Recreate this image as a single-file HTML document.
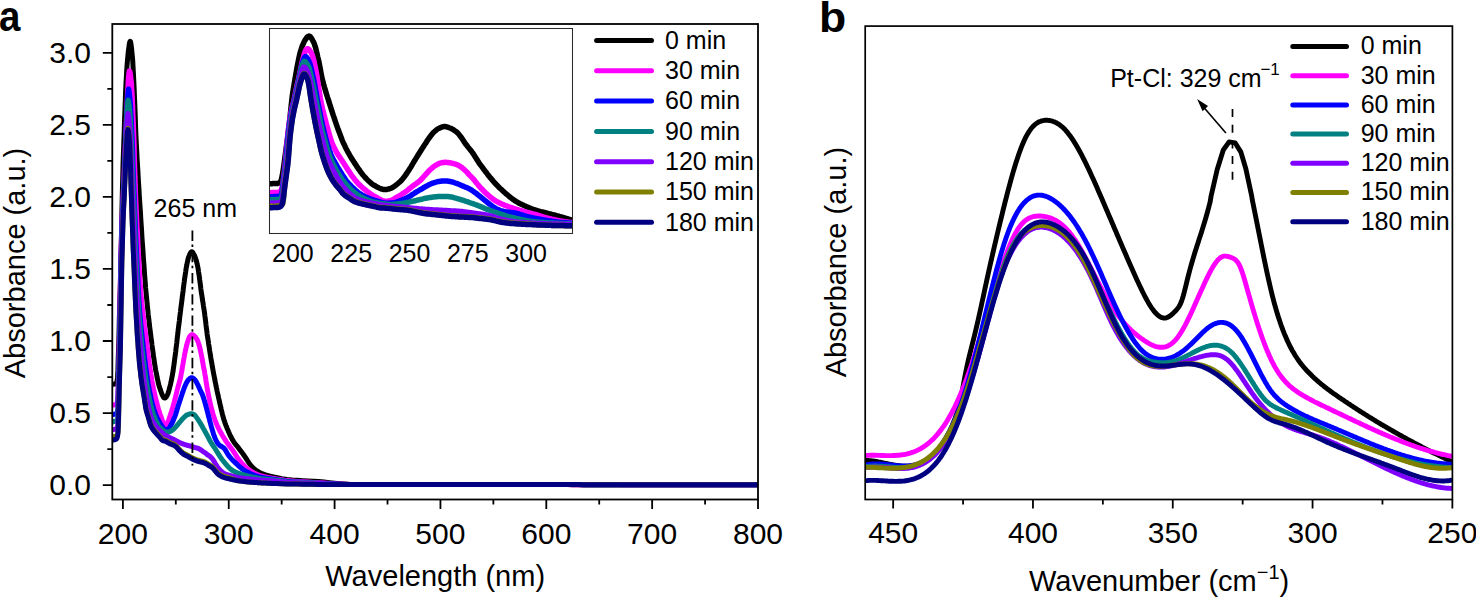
<!DOCTYPE html>
<html><head><meta charset="utf-8"><title>Absorbance spectra</title>
<style>html,body{margin:0;padding:0;background:#fff;width:1476px;height:598px;overflow:hidden}svg{display:block;font-family:"Liberation Sans",sans-serif}</style>
</head><body>
<svg width="1476" height="598" viewBox="0 0 1476 598" font-family="Liberation Sans, sans-serif" fill="#000">
<rect width="1476" height="598" fill="#fff"/>
<defs><clipPath id="ca"><rect x="112.3" y="24" width="645.7" height="475.5"/></clipPath><clipPath id="ci"><rect x="269.6" y="28.6" width="303.1" height="204.7"/></clipPath><clipPath id="cb"><rect x="865.2" y="26.1" width="587.2" height="473.4"/></clipPath></defs>
<g clip-path="url(#ca)">
<path d="M112.3 384.2 L112.7 384.2 L113.0 384.2 L113.4 384.2 L113.8 384.1 L114.2 384.1 L114.5 384.0 L114.9 383.9 L115.3 383.9 L115.6 383.7 L116.0 383.5 L116.4 383.1 L116.7 382.5 L117.1 380.9 L117.5 377.7 L117.9 370.4 L118.2 359.7 L118.6 347.8 L119.0 334.1 L119.3 319.9 L119.7 306.1 L120.1 292.1 L120.5 277.5 L120.8 262.3 L121.2 246.2 L121.6 229.6 L121.9 211.9 L122.3 193.8 L122.7 178.5 L123.0 165.5 L123.4 153.7 L123.8 142.7 L124.2 132.1 L124.5 121.4 L124.9 110.7 L125.3 100.6 L125.6 91.3 L126.0 83.2 L126.4 76.5 L126.7 70.4 L127.1 64.8 L127.5 59.9 L127.9 55.7 L128.2 52.4 L128.6 49.4 L129.0 46.5 L129.3 44.0 L129.7 42.2 L130.1 41.3 L130.5 41.6 L130.8 43.1 L131.2 45.5 L131.6 48.6 L131.9 52.2 L132.3 56.0 L132.7 60.3 L133.0 66.1 L133.4 73.2 L133.8 81.1 L134.2 89.4 L134.5 98.0 L134.9 106.8 L135.3 117.0 L135.6 127.4 L136.0 136.9 L136.4 144.8 L136.8 152.1 L137.1 158.9 L137.5 165.3 L137.9 171.5 L138.2 177.6 L138.6 183.6 L139.0 189.7 L139.3 195.8 L139.7 201.7 L140.1 207.6 L140.5 213.4 L140.8 219.2 L141.2 225.0 L141.6 230.7 L141.9 236.5 L142.3 242.1 L142.7 247.5 L143.1 252.8 L143.4 258.1 L143.8 263.3 L144.2 268.4 L144.5 273.4 L144.9 278.4 L145.3 283.1 L145.6 287.7 L146.0 292.0 L146.4 296.0 L146.8 299.9 L147.1 303.6 L147.5 307.3 L147.9 310.8 L148.2 314.2 L148.6 317.5 L149.0 320.7 L149.3 323.9 L149.7 327.0 L150.1 330.0 L150.5 333.0 L150.8 335.9 L151.2 338.8 L151.6 341.6 L151.9 344.5 L152.3 347.3 L152.7 350.1 L153.1 352.8 L153.4 355.4 L153.8 358.0 L154.2 360.6 L154.5 363.0 L154.9 365.3 L155.3 367.6 L155.6 369.7 L156.0 371.7 L156.4 373.6 L156.8 375.5 L157.1 377.4 L157.5 379.1 L157.9 380.9 L158.2 382.5 L158.6 384.0 L159.0 385.5 L159.4 386.8 L159.7 387.9 L160.1 389.0 L160.5 390.0 L160.8 391.1 L161.2 392.1 L161.6 393.1 L161.9 394.1 L162.3 395.0 L162.7 395.8 L163.1 396.5 L163.4 397.1 L163.8 397.6 L164.2 397.9 L164.5 398.0 L164.9 398.0 L165.3 397.9 L165.6 397.5 L166.0 397.1 L166.4 396.6 L166.8 396.0 L167.1 395.4 L167.5 394.7 L167.9 393.9 L168.2 392.8 L168.6 391.5 L169.0 390.2 L169.4 388.7 L169.7 387.3 L170.1 385.9 L170.5 384.3 L170.8 382.8 L171.2 381.1 L171.6 379.3 L171.9 377.4 L172.3 375.4 L172.7 373.3 L173.1 371.0 L173.4 368.5 L173.8 365.9 L174.2 363.2 L174.5 360.4 L174.9 357.5 L175.3 354.7 L175.7 351.8 L176.0 348.8 L176.4 345.7 L176.8 342.6 L177.1 339.4 L177.5 336.1 L177.9 332.9 L178.2 329.8 L178.6 326.6 L179.0 323.6 L179.4 320.5 L179.7 317.5 L180.1 314.5 L180.5 311.5 L180.8 308.5 L181.2 305.6 L181.6 302.6 L182.0 299.7 L182.3 296.7 L182.7 293.8 L183.1 290.8 L183.4 287.9 L183.8 285.0 L184.2 282.1 L184.5 279.4 L184.9 276.8 L185.3 274.2 L185.7 271.6 L186.0 269.2 L186.4 267.0 L186.8 265.1 L187.1 263.3 L187.5 261.5 L187.9 259.9 L188.2 258.4 L188.6 257.1 L189.0 256.1 L189.4 255.2 L189.7 254.4 L190.1 253.6 L190.5 252.9 L190.8 252.3 L191.2 251.9 L191.6 251.7 L192.0 251.7 L192.3 252.0 L192.7 252.4 L193.1 252.9 L193.4 253.6 L193.8 254.2 L194.2 255.0 L194.5 255.7 L194.9 256.5 L195.3 257.5 L195.7 258.6 L196.0 259.8 L196.4 261.0 L196.8 262.4 L197.1 263.9 L197.5 265.5 L197.9 267.4 L198.3 269.7 L198.6 272.1 L199.0 274.7 L199.4 277.2 L199.7 279.9 L200.1 282.7 L200.5 285.6 L200.8 288.5 L201.2 291.3 L201.6 293.9 L202.0 296.3 L202.3 298.7 L202.7 301.1 L203.1 303.4 L203.4 305.8 L203.8 308.2 L204.2 310.6 L204.6 313.2 L204.9 316.0 L205.3 318.9 L205.7 322.0 L206.0 325.0 L206.4 328.1 L206.8 331.0 L207.1 333.8 L207.5 336.4 L207.9 339.0 L208.3 341.4 L208.6 343.8 L209.0 346.2 L209.4 348.6 L209.7 350.9 L210.1 353.2 L210.5 355.5 L210.8 357.7 L211.2 360.0 L211.6 362.2 L212.0 364.3 L212.3 366.5 L212.7 368.5 L213.1 370.6 L213.4 372.6 L213.8 374.6 L214.2 376.6 L214.6 378.5 L214.9 380.4 L215.3 382.2 L215.7 384.1 L216.0 385.9 L216.4 387.7 L216.8 389.4 L217.1 391.2 L217.5 392.9 L217.9 394.6 L218.3 396.3 L218.6 398.0 L219.0 399.6 L219.4 401.2 L219.7 402.9 L220.1 404.5 L220.5 406.1 L220.9 407.7 L221.2 409.3 L221.6 410.8 L222.0 412.4 L222.3 413.8 L222.7 415.3 L223.1 416.7 L223.4 418.0 L223.8 419.3 L224.2 420.4 L224.6 421.6 L224.9 422.6 L225.3 423.7 L225.7 424.7 L226.0 425.6 L226.4 426.6 L226.8 427.5 L227.1 428.4 L227.5 429.2 L227.9 430.1 L228.3 431.0 L228.6 431.9 L229.0 432.7 L229.4 433.5 L229.7 434.4 L230.1 435.2 L230.5 435.9 L230.9 436.7 L231.2 437.4 L231.6 438.2 L232.0 438.8 L232.3 439.5 L232.7 440.1 L233.1 440.8 L233.4 441.3 L233.8 441.9 L234.2 442.5 L234.6 443.0 L234.9 443.5 L235.3 444.0 L235.7 444.5 L236.0 444.9 L236.4 445.4 L236.8 445.8 L237.2 446.2 L237.5 446.6 L237.9 447.1 L238.3 447.6 L238.6 448.1 L239.0 448.6 L239.4 449.2 L239.7 449.7 L240.1 450.2 L240.5 450.6 L240.9 451.1 L241.2 451.6 L241.6 452.0 L242.0 452.5 L242.3 453.0 L242.7 453.5 L243.1 454.0 L243.5 454.6 L243.8 455.1 L244.2 455.6 L244.6 456.2 L244.9 456.7 L245.3 457.2 L245.7 457.8 L246.0 458.3 L246.4 458.9 L246.8 459.5 L247.2 460.1 L247.5 460.7 L247.9 461.3 L248.3 461.9 L248.6 462.4 L249.0 463.0 L249.4 463.5 L249.7 464.0 L250.1 464.5 L250.5 465.0 L250.9 465.4 L251.2 465.8 L251.6 466.3 L252.0 466.7 L252.3 467.1 L252.7 467.5 L253.1 467.8 L253.5 468.2 L253.8 468.5 L254.2 468.9 L254.6 469.2 L254.9 469.5 L255.3 469.8 L255.7 470.1 L256.0 470.3 L256.4 470.6 L256.8 470.9 L257.2 471.1 L257.5 471.3 L257.9 471.6 L258.3 471.8 L258.6 472.0 L259.0 472.2 L259.4 472.4 L259.8 472.6 L260.1 472.8 L260.5 472.9 L260.9 473.1 L261.2 473.3 L261.6 473.4 L262.0 473.6 L262.3 473.8 L262.7 473.9 L263.1 474.0 L263.5 474.2 L263.8 474.3 L264.2 474.5 L264.6 474.6 L264.9 474.7 L265.3 474.8 L265.7 474.9 L266.1 475.1 L266.4 475.2 L266.8 475.3 L267.2 475.4 L267.5 475.5 L267.9 475.6 L268.3 475.7 L268.6 475.8 L269.0 475.9 L269.4 476.0 L269.8 476.1 L270.1 476.2 L270.5 476.3 L270.9 476.4 L271.2 476.4 L271.6 476.5 L272.0 476.6 L272.3 476.7 L272.7 476.8 L273.1 476.9 L273.5 476.9 L273.8 477.0 L274.2 477.1 L274.6 477.2 L274.9 477.2 L275.3 477.3 L275.7 477.4 L276.1 477.5 L276.4 477.5 L281.7 478.6 L287.0 479.4 L292.2 480.0 L297.5 480.3 L302.8 480.7 L308.1 481.0 L313.4 481.2 L318.7 481.6 L324.0 482.1 L329.3 482.7 L334.6 483.2 L339.9 483.7 L345.2 484.1 L350.5 484.4 L355.8 484.5 L361.1 484.5 L366.3 484.6 L371.6 484.6 L376.9 484.6 L382.2 484.6 L387.5 484.6 L392.8 484.6 L398.1 484.6 L403.4 484.6 L408.7 484.6 L414.0 484.6 L419.3 484.6 L424.6 484.6 L429.9 484.6 L435.2 484.6 L440.4 484.6 L445.7 484.6 L451.0 484.6 L456.3 484.6 L461.6 484.6 L466.9 484.6 L472.2 484.6 L477.5 484.6 L482.8 484.6 L488.1 484.6 L493.4 484.6 L498.7 484.6 L504.0 484.6 L509.2 484.6 L514.5 484.6 L519.8 484.6 L525.1 484.6 L530.4 484.6 L535.7 484.6 L541.0 484.6 L546.3 484.6 L551.6 484.6 L556.9 484.6 L562.2 484.6 L567.5 484.6 L572.8 484.7 L578.1 484.7 L583.3 484.7 L588.6 484.7 L593.9 484.7 L599.2 484.7 L604.5 484.7 L609.8 484.7 L615.1 484.7 L620.4 484.7 L625.7 484.7 L631.0 484.7 L636.3 484.7 L641.6 484.7 L646.9 484.7 L652.1 484.7 L657.4 484.7 L662.7 484.7 L668.0 484.7 L673.3 484.7 L678.6 484.7 L683.9 484.7 L689.2 484.7 L694.5 484.7 L699.8 484.7 L705.1 484.7 L710.4 484.7 L715.7 484.7 L721.0 484.7 L726.2 484.7 L731.5 484.7 L736.8 484.7 L742.1 484.7 L747.4 484.7 L752.7 484.7 L758.0 484.7" stroke="#000000" stroke-width="5.0" fill="none" stroke-linejoin="round"/>
<path d="M112.3 405.1 L112.7 405.1 L113.0 405.1 L113.4 405.1 L113.8 405.0 L114.2 405.0 L114.5 404.9 L114.9 404.8 L115.3 404.7 L115.6 404.6 L116.0 404.5 L116.4 404.2 L116.7 403.7 L117.1 402.9 L117.5 400.4 L117.9 395.0 L118.2 385.8 L118.6 373.4 L119.0 358.3 L119.3 341.4 L119.7 321.8 L120.1 296.7 L120.5 274.7 L120.8 258.7 L121.2 244.6 L121.6 232.2 L121.9 221.4 L122.3 212.0 L122.7 204.0 L123.0 196.7 L123.4 189.2 L123.8 180.6 L124.2 171.3 L124.5 162.1 L124.9 153.7 L125.3 145.5 L125.6 136.7 L126.0 127.7 L126.4 118.7 L126.7 109.8 L127.1 101.2 L127.5 93.3 L127.9 86.2 L128.2 80.2 L128.6 75.5 L129.0 72.3 L129.3 70.7 L129.7 71.0 L130.1 72.3 L130.5 74.4 L130.8 77.1 L131.2 80.2 L131.6 83.9 L131.9 89.4 L132.3 96.7 L132.7 105.1 L133.0 114.2 L133.4 123.5 L133.8 133.7 L134.2 145.9 L134.5 158.9 L134.9 171.9 L135.3 183.8 L135.6 193.8 L136.0 202.8 L136.4 211.2 L136.8 219.2 L137.1 226.8 L137.5 234.0 L137.9 241.1 L138.2 248.2 L138.6 255.2 L139.0 262.0 L139.3 268.7 L139.7 275.1 L140.1 281.1 L140.5 286.6 L140.8 291.7 L141.2 296.1 L141.6 300.2 L141.9 304.0 L142.3 307.6 L142.7 310.9 L143.1 314.1 L143.4 317.2 L143.8 320.2 L144.2 323.0 L144.5 325.8 L144.9 328.6 L145.3 331.4 L145.6 334.2 L146.0 337.1 L146.4 340.1 L146.8 343.0 L147.1 346.0 L147.5 348.9 L147.9 351.9 L148.2 354.8 L148.6 357.7 L149.0 360.5 L149.3 363.3 L149.7 366.1 L150.1 368.7 L150.5 371.3 L150.8 373.8 L151.2 376.2 L151.6 378.5 L151.9 380.6 L152.3 382.7 L152.7 384.7 L153.1 386.6 L153.4 388.5 L153.8 390.3 L154.2 392.0 L154.5 393.7 L154.9 395.3 L155.3 396.9 L155.6 398.4 L156.0 399.9 L156.4 401.4 L156.8 402.8 L157.1 404.2 L157.5 405.6 L157.9 407.0 L158.2 408.3 L158.6 409.5 L159.0 410.7 L159.4 411.9 L159.7 413.0 L160.1 414.1 L160.5 415.1 L160.8 416.1 L161.2 417.2 L161.6 418.4 L161.9 419.5 L162.3 420.5 L162.7 421.5 L163.1 422.5 L163.4 423.3 L163.8 424.0 L164.2 424.6 L164.5 425.0 L164.9 425.3 L165.3 425.3 L165.6 425.1 L166.0 424.8 L166.4 424.4 L166.8 424.0 L167.1 423.4 L167.5 422.9 L167.9 422.1 L168.2 421.2 L168.6 420.2 L169.0 419.1 L169.4 417.9 L169.7 416.8 L170.1 415.7 L170.5 414.6 L170.8 413.5 L171.2 412.4 L171.6 411.2 L171.9 410.0 L172.3 408.8 L172.7 407.6 L173.1 406.3 L173.4 405.0 L173.8 403.7 L174.2 402.4 L174.5 401.0 L174.9 399.5 L175.3 398.0 L175.7 396.4 L176.0 394.9 L176.4 393.4 L176.8 391.8 L177.1 390.3 L177.5 388.9 L177.9 387.5 L178.2 386.2 L178.6 384.9 L179.0 383.5 L179.4 382.2 L179.7 380.8 L180.1 379.3 L180.5 377.7 L180.8 376.0 L181.2 374.0 L181.6 372.0 L182.0 369.8 L182.3 367.6 L182.7 365.5 L183.1 363.4 L183.4 361.3 L183.8 359.2 L184.2 357.1 L184.5 355.1 L184.9 353.2 L185.3 351.3 L185.7 349.6 L186.0 348.0 L186.4 346.4 L186.8 344.9 L187.1 343.4 L187.5 342.1 L187.9 341.0 L188.2 339.9 L188.6 338.9 L189.0 338.0 L189.4 337.1 L189.7 336.4 L190.1 336.0 L190.5 335.6 L190.8 335.3 L191.2 335.0 L191.6 334.8 L192.0 334.7 L192.3 334.7 L192.7 334.8 L193.1 335.0 L193.4 335.2 L193.8 335.5 L194.2 335.8 L194.5 336.1 L194.9 336.5 L195.3 336.9 L195.7 337.4 L196.0 337.9 L196.4 338.5 L196.8 339.1 L197.1 339.8 L197.5 340.5 L197.9 341.4 L198.3 342.4 L198.6 343.5 L199.0 344.8 L199.4 346.1 L199.7 347.5 L200.1 349.0 L200.5 350.5 L200.8 352.2 L201.2 354.0 L201.6 355.9 L202.0 358.0 L202.3 360.0 L202.7 362.1 L203.1 364.2 L203.4 366.2 L203.8 368.2 L204.2 370.1 L204.6 372.1 L204.9 374.1 L205.3 376.3 L205.7 378.7 L206.0 381.1 L206.4 383.4 L206.8 385.8 L207.1 388.0 L207.5 390.0 L207.9 392.0 L208.3 393.9 L208.6 395.8 L209.0 397.6 L209.4 399.3 L209.7 401.1 L210.1 402.7 L210.5 404.3 L210.8 405.9 L211.2 407.4 L211.6 408.8 L212.0 410.3 L212.3 411.6 L212.7 412.9 L213.1 414.2 L213.4 415.5 L213.8 416.7 L214.2 417.8 L214.6 418.9 L214.9 420.0 L215.3 420.9 L215.7 421.9 L216.0 422.8 L216.4 423.7 L216.8 424.5 L217.1 425.4 L217.5 426.2 L217.9 426.9 L218.3 427.7 L218.6 428.5 L219.0 429.2 L219.4 429.9 L219.7 430.7 L220.1 431.4 L220.5 432.0 L220.9 432.7 L221.2 433.4 L221.6 434.0 L222.0 434.6 L222.3 435.3 L222.7 435.9 L223.1 436.5 L223.4 437.1 L223.8 437.7 L224.2 438.3 L224.6 438.9 L224.9 439.5 L225.3 440.1 L225.7 440.6 L226.0 441.2 L226.4 441.7 L226.8 442.3 L227.1 442.8 L227.5 443.4 L227.9 443.9 L228.3 444.4 L228.6 444.9 L229.0 445.4 L229.4 445.9 L229.7 446.4 L230.1 446.9 L230.5 447.3 L230.9 447.8 L231.2 448.3 L231.6 448.8 L232.0 449.3 L232.3 449.8 L232.7 450.3 L233.1 450.9 L233.4 451.4 L233.8 452.0 L234.2 452.6 L234.6 453.1 L234.9 453.7 L235.3 454.3 L235.7 454.9 L236.0 455.5 L236.4 456.1 L236.8 456.7 L237.2 457.3 L237.5 457.8 L237.9 458.4 L238.3 458.9 L238.6 459.4 L239.0 459.9 L239.4 460.4 L239.7 460.8 L240.1 461.3 L240.5 461.7 L240.9 462.1 L241.2 462.6 L241.6 463.0 L242.0 463.4 L242.3 463.8 L242.7 464.2 L243.1 464.6 L243.5 465.0 L243.8 465.4 L244.2 465.8 L244.6 466.1 L244.9 466.5 L245.3 466.9 L245.7 467.2 L246.0 467.5 L246.4 467.8 L246.8 468.2 L247.2 468.5 L247.5 468.7 L247.9 469.0 L248.3 469.3 L248.6 469.5 L249.0 469.8 L249.4 470.1 L249.7 470.3 L250.1 470.6 L250.5 470.8 L250.9 471.0 L251.2 471.3 L251.6 471.5 L252.0 471.7 L252.3 472.0 L252.7 472.2 L253.1 472.4 L253.5 472.6 L253.8 472.8 L254.2 473.0 L254.6 473.2 L254.9 473.4 L255.3 473.6 L255.7 473.8 L256.0 474.0 L256.4 474.1 L256.8 474.3 L257.2 474.5 L257.5 474.6 L257.9 474.8 L258.3 474.9 L258.6 475.1 L259.0 475.2 L259.4 475.3 L259.8 475.5 L260.1 475.6 L260.5 475.7 L260.9 475.8 L261.2 475.9 L261.6 476.0 L262.0 476.1 L262.3 476.2 L262.7 476.3 L263.1 476.4 L263.5 476.5 L263.8 476.6 L264.2 476.7 L264.6 476.8 L264.9 476.8 L265.3 476.9 L265.7 477.0 L266.1 477.1 L266.4 477.2 L266.8 477.2 L267.2 477.3 L267.5 477.4 L267.9 477.5 L268.3 477.5 L268.6 477.6 L269.0 477.7 L269.4 477.7 L269.8 477.8 L270.1 477.9 L270.5 477.9 L270.9 478.0 L271.2 478.1 L271.6 478.1 L272.0 478.2 L272.3 478.3 L272.7 478.3 L273.1 478.4 L273.5 478.4 L273.8 478.5 L274.2 478.6 L274.6 478.6 L274.9 478.7 L275.3 478.8 L275.7 478.8 L276.1 478.9 L276.4 478.9 L281.7 479.8 L287.0 480.6 L292.2 481.1 L297.5 481.5 L302.8 481.8 L308.1 482.1 L313.4 482.4 L318.7 482.7 L324.0 483.1 L329.3 483.6 L334.6 483.9 L339.9 484.2 L345.2 484.3 L350.5 484.5 L355.8 484.5 L361.1 484.5 L366.3 484.6 L371.6 484.6 L376.9 484.6 L382.2 484.6 L387.5 484.6 L392.8 484.6 L398.1 484.6 L403.4 484.6 L408.7 484.6 L414.0 484.6 L419.3 484.6 L424.6 484.6 L429.9 484.6 L435.2 484.6 L440.4 484.6 L445.7 484.6 L451.0 484.6 L456.3 484.6 L461.6 484.6 L466.9 484.6 L472.2 484.6 L477.5 484.6 L482.8 484.6 L488.1 484.6 L493.4 484.6 L498.7 484.6 L504.0 484.6 L509.2 484.6 L514.5 484.6 L519.8 484.6 L525.1 484.6 L530.4 484.6 L535.7 484.6 L541.0 484.6 L546.3 484.6 L551.6 484.6 L556.9 484.6 L562.2 484.6 L567.5 484.6 L572.8 484.7 L578.1 484.7 L583.3 484.7 L588.6 484.7 L593.9 484.7 L599.2 484.7 L604.5 484.7 L609.8 484.7 L615.1 484.7 L620.4 484.7 L625.7 484.7 L631.0 484.7 L636.3 484.7 L641.6 484.7 L646.9 484.7 L652.1 484.7 L657.4 484.7 L662.7 484.7 L668.0 484.7 L673.3 484.7 L678.6 484.7 L683.9 484.7 L689.2 484.7 L694.5 484.7 L699.8 484.7 L705.1 484.7 L710.4 484.7 L715.7 484.7 L721.0 484.7 L726.2 484.7 L731.5 484.7 L736.8 484.7 L742.1 484.7 L747.4 484.7 L752.7 484.7 L758.0 484.7" stroke="#ff00ff" stroke-width="5.0" fill="none" stroke-linejoin="round"/>
<path d="M112.3 414.5 L112.7 414.5 L113.0 414.5 L113.4 414.4 L113.8 414.4 L114.2 414.3 L114.5 414.3 L114.9 414.2 L115.3 414.1 L115.6 414.0 L116.0 413.8 L116.4 413.5 L116.7 413.1 L117.1 412.5 L117.5 411.0 L117.9 407.8 L118.2 391.4 L118.6 377.5 L119.0 364.2 L119.3 350.2 L119.7 333.8 L120.1 311.3 L120.5 286.3 L120.8 267.6 L121.2 252.4 L121.6 239.1 L121.9 227.4 L122.3 217.1 L122.7 208.4 L123.0 200.9 L123.4 193.6 L123.8 185.6 L124.2 176.7 L124.5 167.4 L124.9 158.4 L125.3 150.2 L125.6 141.5 L126.0 132.4 L126.4 123.2 L126.7 114.3 L127.1 106.2 L127.5 99.2 L127.9 93.7 L128.2 90.1 L128.6 88.8 L129.0 89.7 L129.3 92.1 L129.7 95.5 L130.1 99.5 L130.5 103.7 L130.8 109.4 L131.2 116.5 L131.6 124.6 L131.9 133.1 L132.3 141.8 L132.7 151.5 L133.0 162.2 L133.4 173.2 L133.8 184.0 L134.2 193.9 L134.5 203.5 L134.9 213.1 L135.3 222.6 L135.6 231.8 L136.0 240.7 L136.4 249.2 L136.8 257.3 L137.1 265.0 L137.5 272.4 L137.9 279.7 L138.2 286.8 L138.6 293.5 L139.0 299.8 L139.3 305.6 L139.7 310.8 L140.1 315.5 L140.5 319.8 L140.8 323.8 L141.2 327.6 L141.6 331.2 L141.9 334.6 L142.3 337.9 L142.7 341.1 L143.1 344.3 L143.4 347.6 L143.8 350.8 L144.2 354.0 L144.5 357.1 L144.9 360.2 L145.3 363.2 L145.6 366.2 L146.0 369.0 L146.4 371.8 L146.8 374.5 L147.1 377.0 L147.5 379.5 L147.9 381.8 L148.2 383.9 L148.6 386.0 L149.0 388.0 L149.3 389.9 L149.7 391.8 L150.1 393.7 L150.5 395.5 L150.8 397.3 L151.2 399.0 L151.6 400.6 L151.9 402.2 L152.3 403.7 L152.7 405.1 L153.1 406.5 L153.4 407.8 L153.8 409.1 L154.2 410.2 L154.5 411.3 L154.9 412.3 L155.3 413.3 L155.6 414.3 L156.0 415.2 L156.4 416.0 L156.8 416.9 L157.1 417.7 L157.5 418.5 L157.9 419.2 L158.2 419.9 L158.6 420.6 L159.0 421.3 L159.4 422.0 L159.7 422.6 L160.1 423.2 L160.5 423.8 L160.8 424.3 L161.2 424.9 L161.6 425.5 L161.9 426.1 L162.3 426.7 L162.7 427.3 L163.1 427.8 L163.4 428.3 L163.8 428.8 L164.2 429.1 L164.5 429.4 L164.9 429.6 L165.3 429.6 L165.6 429.6 L166.0 429.6 L166.4 429.5 L166.8 429.4 L167.1 429.3 L167.5 429.2 L167.9 429.1 L168.2 428.9 L168.6 428.7 L169.0 428.4 L169.4 427.9 L169.7 427.3 L170.1 426.7 L170.5 426.0 L170.8 425.3 L171.2 424.6 L171.6 423.9 L171.9 423.2 L172.3 422.4 L172.7 421.7 L173.1 420.9 L173.4 420.0 L173.8 419.1 L174.2 418.2 L174.5 417.3 L174.9 416.4 L175.3 415.4 L175.7 414.3 L176.0 413.1 L176.4 411.9 L176.8 410.7 L177.1 409.4 L177.5 408.2 L177.9 407.0 L178.2 405.7 L178.6 404.6 L179.0 403.4 L179.4 402.3 L179.7 401.2 L180.1 400.1 L180.5 399.0 L180.8 397.9 L181.2 396.7 L181.6 395.6 L182.0 394.5 L182.3 393.3 L182.7 392.2 L183.1 391.2 L183.4 390.1 L183.8 389.1 L184.2 388.1 L184.5 387.1 L184.9 386.2 L185.3 385.3 L185.7 384.4 L186.0 383.7 L186.4 383.0 L186.8 382.3 L187.1 381.7 L187.5 381.1 L187.9 380.5 L188.2 380.0 L188.6 379.6 L189.0 379.2 L189.4 378.9 L189.7 378.6 L190.1 378.4 L190.5 378.1 L190.8 377.9 L191.2 377.8 L191.6 377.7 L192.0 377.8 L192.3 377.9 L192.7 378.0 L193.1 378.2 L193.4 378.5 L193.8 378.8 L194.2 379.1 L194.5 379.4 L194.9 379.8 L195.3 380.3 L195.7 380.9 L196.0 381.5 L196.4 382.1 L196.8 382.8 L197.1 383.5 L197.5 384.2 L197.9 384.9 L198.3 385.7 L198.6 386.5 L199.0 387.3 L199.4 388.1 L199.7 389.0 L200.1 389.8 L200.5 390.6 L200.8 391.4 L201.2 392.1 L201.6 392.9 L202.0 393.7 L202.3 394.6 L202.7 395.5 L203.1 396.5 L203.4 397.6 L203.8 398.7 L204.2 400.0 L204.6 401.2 L204.9 402.5 L205.3 403.8 L205.7 405.2 L206.0 406.5 L206.4 407.9 L206.8 409.3 L207.1 410.7 L207.5 412.2 L207.9 413.6 L208.3 415.1 L208.6 416.5 L209.0 417.9 L209.4 419.3 L209.7 420.7 L210.1 422.1 L210.5 423.5 L210.8 424.8 L211.2 426.2 L211.6 427.5 L212.0 428.7 L212.3 430.0 L212.7 431.2 L213.1 432.5 L213.4 433.7 L213.8 434.9 L214.2 436.0 L214.6 437.0 L214.9 437.9 L215.3 438.7 L215.7 439.5 L216.0 440.3 L216.4 441.0 L216.8 441.7 L217.1 442.3 L217.5 442.9 L217.9 443.5 L218.3 444.0 L218.6 444.4 L219.0 444.8 L219.4 445.1 L219.7 445.4 L220.1 445.7 L220.5 445.9 L220.9 446.1 L221.2 446.4 L221.6 446.6 L222.0 446.8 L222.3 447.0 L222.7 447.2 L223.1 447.5 L223.4 447.8 L223.8 448.1 L224.2 448.5 L224.6 448.9 L224.9 449.4 L225.3 449.9 L225.7 450.5 L226.0 451.1 L226.4 451.8 L226.8 452.4 L227.1 453.1 L227.5 453.7 L227.9 454.3 L228.3 454.9 L228.6 455.4 L229.0 455.9 L229.4 456.4 L229.7 456.8 L230.1 457.3 L230.5 457.7 L230.9 458.2 L231.2 458.6 L231.6 459.0 L232.0 459.4 L232.3 459.8 L232.7 460.2 L233.1 460.6 L233.4 461.0 L233.8 461.3 L234.2 461.7 L234.6 462.0 L234.9 462.4 L235.3 462.8 L235.7 463.1 L236.0 463.5 L236.4 463.8 L236.8 464.2 L237.2 464.5 L237.5 464.8 L237.9 465.2 L238.3 465.5 L238.6 465.9 L239.0 466.2 L239.4 466.5 L239.7 466.8 L240.1 467.2 L240.5 467.5 L240.9 467.8 L241.2 468.1 L241.6 468.4 L242.0 468.6 L242.3 468.9 L242.7 469.2 L243.1 469.5 L243.5 469.7 L243.8 470.0 L244.2 470.2 L244.6 470.4 L244.9 470.7 L245.3 470.9 L245.7 471.1 L246.0 471.3 L246.4 471.5 L246.8 471.7 L247.2 471.9 L247.5 472.1 L247.9 472.3 L248.3 472.5 L248.6 472.6 L249.0 472.8 L249.4 473.0 L249.7 473.2 L250.1 473.4 L250.5 473.6 L250.9 473.7 L251.2 473.9 L251.6 474.1 L252.0 474.2 L252.3 474.4 L252.7 474.5 L253.1 474.7 L253.5 474.9 L253.8 475.0 L254.2 475.1 L254.6 475.3 L254.9 475.4 L255.3 475.6 L255.7 475.7 L256.0 475.8 L256.4 476.0 L256.8 476.1 L257.2 476.2 L257.5 476.3 L257.9 476.4 L258.3 476.5 L258.6 476.6 L259.0 476.7 L259.4 476.8 L259.8 476.9 L260.1 477.0 L260.5 477.1 L260.9 477.2 L261.2 477.3 L261.6 477.3 L262.0 477.4 L262.3 477.5 L262.7 477.6 L263.1 477.6 L263.5 477.7 L263.8 477.8 L264.2 477.8 L264.6 477.9 L264.9 478.0 L265.3 478.0 L265.7 478.1 L266.1 478.2 L266.4 478.2 L266.8 478.3 L267.2 478.3 L267.5 478.4 L267.9 478.4 L268.3 478.5 L268.6 478.5 L269.0 478.6 L269.4 478.6 L269.8 478.7 L270.1 478.8 L270.5 478.8 L270.9 478.9 L271.2 478.9 L271.6 479.0 L272.0 479.0 L272.3 479.1 L272.7 479.1 L273.1 479.2 L273.5 479.2 L273.8 479.3 L274.2 479.3 L274.6 479.4 L274.9 479.4 L275.3 479.5 L275.7 479.5 L276.1 479.6 L276.4 479.6 L281.7 480.5 L287.0 481.2 L292.2 481.7 L297.5 482.0 L302.8 482.2 L308.1 482.5 L313.4 482.9 L318.7 483.2 L324.0 483.5 L329.3 483.8 L334.6 484.1 L339.9 484.3 L345.2 484.4 L350.5 484.5 L355.8 484.6 L361.1 484.6 L366.3 484.6 L371.6 484.6 L376.9 484.6 L382.2 484.6 L387.5 484.6 L392.8 484.6 L398.1 484.6 L403.4 484.6 L408.7 484.6 L414.0 484.6 L419.3 484.6 L424.6 484.6 L429.9 484.6 L435.2 484.6 L440.4 484.6 L445.7 484.6 L451.0 484.6 L456.3 484.6 L461.6 484.6 L466.9 484.6 L472.2 484.6 L477.5 484.6 L482.8 484.6 L488.1 484.6 L493.4 484.6 L498.7 484.6 L504.0 484.6 L509.2 484.6 L514.5 484.6 L519.8 484.6 L525.1 484.6 L530.4 484.6 L535.7 484.6 L541.0 484.6 L546.3 484.6 L551.6 484.6 L556.9 484.6 L562.2 484.6 L567.5 484.6 L572.8 484.6 L578.1 484.6 L583.3 484.7 L588.6 484.7 L593.9 484.7 L599.2 484.7 L604.5 484.7 L609.8 484.7 L615.1 484.7 L620.4 484.7 L625.7 484.7 L631.0 484.7 L636.3 484.7 L641.6 484.7 L646.9 484.7 L652.1 484.7 L657.4 484.7 L662.7 484.7 L668.0 484.7 L673.3 484.7 L678.6 484.7 L683.9 484.7 L689.2 484.7 L694.5 484.7 L699.8 484.7 L705.1 484.7 L710.4 484.7 L715.7 484.7 L721.0 484.7 L726.2 484.7 L731.5 484.7 L736.8 484.7 L742.1 484.7 L747.4 484.7 L752.7 484.7 L758.0 484.7" stroke="#0000ff" stroke-width="5.0" fill="none" stroke-linejoin="round"/>
<path d="M112.3 421.7 L112.7 421.7 L113.0 421.7 L113.4 421.6 L113.8 421.6 L114.2 421.5 L114.5 421.5 L114.9 421.4 L115.3 421.3 L115.6 421.2 L116.0 421.0 L116.4 420.7 L116.7 420.3 L117.1 419.7 L117.5 418.5 L117.9 416.2 L118.2 402.4 L118.6 385.0 L119.0 371.4 L119.3 358.1 L119.7 343.5 L120.1 325.1 L120.5 300.3 L120.8 277.3 L121.2 260.8 L121.6 246.5 L121.9 233.9 L122.3 222.8 L122.7 213.2 L123.0 205.1 L123.4 197.8 L123.8 190.3 L124.2 181.9 L124.5 172.7 L124.9 163.5 L125.3 154.8 L125.6 146.3 L126.0 136.8 L126.4 127.2 L126.7 118.0 L127.1 110.1 L127.5 104.0 L127.9 100.5 L128.2 100.1 L128.6 101.3 L129.0 103.6 L129.3 106.6 L129.7 109.9 L130.1 114.2 L130.5 120.3 L130.8 127.7 L131.2 135.8 L131.6 144.1 L131.9 152.5 L132.3 161.8 L132.7 171.6 L133.0 181.5 L133.4 191.0 L133.8 200.6 L134.2 210.2 L134.5 220.0 L134.9 229.7 L135.3 239.1 L135.6 248.2 L136.0 256.9 L136.4 265.0 L136.8 272.5 L137.1 279.9 L137.5 286.9 L137.9 293.7 L138.2 300.2 L138.6 306.2 L139.0 311.9 L139.3 317.2 L139.7 322.2 L140.1 326.9 L140.5 331.3 L140.8 335.5 L141.2 339.4 L141.6 343.2 L141.9 346.8 L142.3 350.2 L142.7 353.5 L143.1 356.8 L143.4 360.0 L143.8 363.1 L144.2 366.1 L144.5 369.0 L144.9 371.9 L145.3 374.6 L145.6 377.2 L146.0 379.7 L146.4 382.1 L146.8 384.4 L147.1 386.5 L147.5 388.6 L147.9 390.6 L148.2 392.5 L148.6 394.5 L149.0 396.3 L149.3 398.1 L149.7 399.9 L150.1 401.6 L150.5 403.2 L150.8 404.8 L151.2 406.4 L151.6 407.8 L151.9 409.2 L152.3 410.5 L152.7 411.8 L153.1 412.9 L153.4 414.0 L153.8 415.1 L154.2 416.1 L154.5 417.0 L154.9 418.0 L155.3 418.9 L155.6 419.8 L156.0 420.6 L156.4 421.5 L156.8 422.3 L157.1 423.0 L157.5 423.7 L157.9 424.4 L158.2 425.1 L158.6 425.7 L159.0 426.2 L159.4 426.7 L159.7 427.2 L160.1 427.6 L160.5 428.0 L160.8 428.4 L161.2 428.8 L161.6 429.1 L161.9 429.4 L162.3 429.7 L162.7 430.0 L163.1 430.3 L163.4 430.6 L163.8 430.8 L164.2 431.1 L164.5 431.3 L164.9 431.6 L165.3 431.8 L165.6 432.1 L166.0 432.4 L166.4 432.6 L166.8 432.6 L167.1 432.6 L167.5 432.5 L167.9 432.4 L168.2 432.3 L168.6 432.1 L169.0 432.0 L169.4 431.8 L169.7 431.7 L170.1 431.5 L170.5 431.3 L170.8 431.1 L171.2 430.9 L171.6 430.6 L171.9 430.4 L172.3 430.1 L172.7 429.9 L173.1 429.6 L173.4 429.3 L173.8 429.0 L174.2 428.6 L174.5 428.2 L174.9 427.8 L175.3 427.4 L175.7 427.0 L176.0 426.6 L176.4 426.1 L176.8 425.7 L177.1 425.3 L177.5 424.9 L177.9 424.4 L178.2 424.0 L178.6 423.5 L179.0 423.1 L179.4 422.6 L179.7 422.2 L180.1 421.8 L180.5 421.3 L180.8 420.9 L181.2 420.5 L181.6 420.0 L182.0 419.6 L182.3 419.1 L182.7 418.7 L183.1 418.3 L183.4 417.9 L183.8 417.5 L184.2 417.2 L184.5 416.9 L184.9 416.5 L185.3 416.2 L185.7 415.9 L186.0 415.6 L186.4 415.3 L186.8 415.1 L187.1 414.9 L187.5 414.7 L187.9 414.5 L188.2 414.4 L188.6 414.3 L189.0 414.2 L189.4 414.1 L189.7 414.0 L190.1 413.9 L190.5 413.8 L190.8 413.8 L191.2 413.8 L191.6 413.8 L192.0 413.8 L192.3 413.9 L192.7 414.0 L193.1 414.2 L193.4 414.3 L193.8 414.5 L194.2 414.7 L194.5 414.9 L194.9 415.3 L195.3 415.7 L195.7 416.2 L196.0 416.8 L196.4 417.3 L196.8 417.8 L197.1 418.3 L197.5 418.8 L197.9 419.3 L198.3 419.9 L198.6 420.4 L199.0 421.0 L199.4 421.6 L199.7 422.2 L200.1 422.8 L200.5 423.4 L200.8 424.0 L201.2 424.7 L201.6 425.3 L202.0 426.0 L202.3 426.6 L202.7 427.3 L203.1 427.9 L203.4 428.6 L203.8 429.2 L204.2 429.9 L204.6 430.6 L204.9 431.2 L205.3 431.9 L205.7 432.6 L206.0 433.3 L206.4 433.9 L206.8 434.6 L207.1 435.3 L207.5 436.0 L207.9 436.7 L208.3 437.4 L208.6 438.1 L209.0 438.8 L209.4 439.6 L209.7 440.3 L210.1 440.9 L210.5 441.6 L210.8 442.2 L211.2 442.8 L211.6 443.4 L212.0 444.0 L212.3 444.6 L212.7 445.1 L213.1 445.7 L213.4 446.2 L213.8 446.7 L214.2 447.3 L214.6 447.8 L214.9 448.4 L215.3 449.0 L215.7 449.5 L216.0 450.1 L216.4 450.7 L216.8 451.3 L217.1 451.9 L217.5 452.5 L217.9 453.1 L218.3 453.7 L218.6 454.3 L219.0 454.9 L219.4 455.5 L219.7 456.1 L220.1 456.7 L220.5 457.2 L220.9 457.8 L221.2 458.3 L221.6 458.9 L222.0 459.4 L222.3 459.8 L222.7 460.3 L223.1 460.8 L223.4 461.2 L223.8 461.7 L224.2 462.1 L224.6 462.6 L224.9 463.0 L225.3 463.5 L225.7 463.9 L226.0 464.4 L226.4 464.8 L226.8 465.2 L227.1 465.6 L227.5 466.1 L227.9 466.5 L228.3 466.9 L228.6 467.2 L229.0 467.6 L229.4 468.0 L229.7 468.3 L230.1 468.7 L230.5 469.0 L230.9 469.3 L231.2 469.6 L231.6 469.9 L232.0 470.1 L232.3 470.4 L232.7 470.6 L233.1 470.8 L233.4 471.0 L233.8 471.2 L234.2 471.4 L234.6 471.6 L234.9 471.8 L235.3 471.9 L235.7 472.1 L236.0 472.3 L236.4 472.4 L236.8 472.6 L237.2 472.7 L237.5 472.9 L237.9 473.0 L238.3 473.2 L238.6 473.3 L239.0 473.4 L239.4 473.6 L239.7 473.7 L240.1 473.8 L240.5 473.9 L240.9 474.0 L241.2 474.2 L241.6 474.3 L242.0 474.4 L242.3 474.5 L242.7 474.6 L243.1 474.7 L243.5 474.8 L243.8 474.9 L244.2 475.0 L244.6 475.1 L244.9 475.2 L245.3 475.3 L245.7 475.4 L246.0 475.5 L246.4 475.6 L246.8 475.7 L247.2 475.8 L247.5 475.9 L247.9 476.0 L248.3 476.1 L248.6 476.2 L249.0 476.3 L249.4 476.4 L249.7 476.4 L250.1 476.5 L250.5 476.6 L250.9 476.7 L251.2 476.8 L251.6 476.9 L252.0 477.0 L252.3 477.0 L252.7 477.1 L253.1 477.2 L253.5 477.3 L253.8 477.3 L254.2 477.4 L254.6 477.5 L254.9 477.6 L255.3 477.6 L255.7 477.7 L256.0 477.8 L256.4 477.8 L256.8 477.9 L257.2 478.0 L257.5 478.0 L257.9 478.1 L258.3 478.2 L258.6 478.2 L259.0 478.3 L259.4 478.4 L259.8 478.4 L260.1 478.5 L260.5 478.5 L260.9 478.6 L261.2 478.6 L261.6 478.7 L262.0 478.7 L262.3 478.8 L262.7 478.8 L263.1 478.9 L263.5 478.9 L263.8 479.0 L264.2 479.0 L264.6 479.0 L264.9 479.1 L265.3 479.1 L265.7 479.2 L266.1 479.2 L266.4 479.3 L266.8 479.3 L267.2 479.3 L267.5 479.4 L267.9 479.4 L268.3 479.5 L268.6 479.5 L269.0 479.5 L269.4 479.6 L269.8 479.6 L270.1 479.6 L270.5 479.7 L270.9 479.7 L271.2 479.8 L271.6 479.8 L272.0 479.8 L272.3 479.9 L272.7 479.9 L273.1 480.0 L273.5 480.0 L273.8 480.0 L274.2 480.1 L274.6 480.1 L274.9 480.2 L275.3 480.2 L275.7 480.2 L276.1 480.3 L276.4 480.3 L281.7 481.0 L287.0 481.7 L292.2 482.1 L297.5 482.3 L302.8 482.6 L308.1 482.8 L313.4 483.1 L318.7 483.3 L324.0 483.6 L329.3 484.0 L334.6 484.2 L339.9 484.4 L345.2 484.5 L350.5 484.5 L355.8 484.6 L361.1 484.6 L366.3 484.6 L371.6 484.6 L376.9 484.6 L382.2 484.6 L387.5 484.6 L392.8 484.6 L398.1 484.6 L403.4 484.6 L408.7 484.6 L414.0 484.6 L419.3 484.6 L424.6 484.6 L429.9 484.6 L435.2 484.6 L440.4 484.6 L445.7 484.6 L451.0 484.6 L456.3 484.6 L461.6 484.6 L466.9 484.6 L472.2 484.6 L477.5 484.6 L482.8 484.6 L488.1 484.6 L493.4 484.6 L498.7 484.6 L504.0 484.6 L509.2 484.6 L514.5 484.6 L519.8 484.6 L525.1 484.6 L530.4 484.6 L535.7 484.6 L541.0 484.6 L546.3 484.6 L551.6 484.6 L556.9 484.6 L562.2 484.6 L567.5 484.6 L572.8 484.6 L578.1 484.6 L583.3 484.6 L588.6 484.7 L593.9 484.7 L599.2 484.7 L604.5 484.7 L609.8 484.7 L615.1 484.7 L620.4 484.7 L625.7 484.7 L631.0 484.7 L636.3 484.7 L641.6 484.7 L646.9 484.7 L652.1 484.7 L657.4 484.7 L662.7 484.7 L668.0 484.7 L673.3 484.7 L678.6 484.7 L683.9 484.7 L689.2 484.7 L694.5 484.7 L699.8 484.7 L705.1 484.7 L710.4 484.7 L715.7 484.7 L721.0 484.7 L726.2 484.7 L731.5 484.7 L736.8 484.7 L742.1 484.7 L747.4 484.7 L752.7 484.7 L758.0 484.7" stroke="#008080" stroke-width="5.0" fill="none" stroke-linejoin="round"/>
<path d="M112.3 429.6 L112.7 429.6 L113.0 429.6 L113.4 429.6 L113.8 429.5 L114.2 429.5 L114.5 429.4 L114.9 429.3 L115.3 429.2 L115.6 429.1 L116.0 428.9 L116.4 428.6 L116.7 428.2 L117.1 427.6 L117.5 426.6 L117.9 424.9 L118.2 417.3 L118.6 396.6 L119.0 380.8 L119.3 367.5 L119.7 354.1 L120.1 338.8 L120.5 318.4 L120.8 293.1 L121.2 272.3 L121.6 256.6 L121.9 242.7 L122.3 230.6 L122.7 219.9 L123.0 210.8 L123.4 203.0 L123.8 195.7 L124.2 188.0 L124.5 179.2 L124.9 169.8 L125.3 160.7 L125.6 152.6 L126.0 144.5 L126.4 136.1 L126.7 128.0 L127.1 121.1 L127.5 116.0 L127.9 113.5 L128.2 113.8 L128.6 115.8 L129.0 118.9 L129.3 122.6 L129.7 126.7 L130.1 132.6 L130.5 140.0 L130.8 148.4 L131.2 157.1 L131.6 166.2 L131.9 176.4 L132.3 186.9 L132.7 196.7 L133.0 206.4 L133.4 216.1 L133.8 225.8 L134.2 235.2 L134.5 244.4 L134.9 253.4 L135.3 261.9 L135.6 270.1 L136.0 278.0 L136.4 285.8 L136.8 293.3 L137.1 300.5 L137.5 307.3 L137.9 313.6 L138.2 319.4 L138.6 324.7 L139.0 329.6 L139.3 334.3 L139.7 338.7 L140.1 342.8 L140.5 346.8 L140.8 350.6 L141.2 354.2 L141.6 357.8 L141.9 361.3 L142.3 364.8 L142.7 368.1 L143.1 371.4 L143.4 374.6 L143.8 377.7 L144.2 380.6 L144.5 383.4 L144.9 386.1 L145.3 388.7 L145.6 391.1 L146.0 393.4 L146.4 395.5 L146.8 397.6 L147.1 399.7 L147.5 401.7 L147.9 403.6 L148.2 405.5 L148.6 407.3 L149.0 409.0 L149.3 410.7 L149.7 412.3 L150.1 413.8 L150.5 415.2 L150.8 416.5 L151.2 417.7 L151.6 418.7 L151.9 419.7 L152.3 420.5 L152.7 421.3 L153.1 422.0 L153.4 422.7 L153.8 423.3 L154.2 423.9 L154.5 424.4 L154.9 424.9 L155.3 425.4 L155.6 425.9 L156.0 426.4 L156.4 426.9 L156.8 427.4 L157.1 427.8 L157.5 428.2 L157.9 428.6 L158.2 429.0 L158.6 429.4 L159.0 429.8 L159.4 430.2 L159.7 430.5 L160.1 430.9 L160.5 431.3 L160.8 431.6 L161.2 432.0 L161.6 432.3 L161.9 432.6 L162.3 433.0 L162.7 433.3 L163.1 433.6 L163.4 433.9 L163.8 434.2 L164.2 434.5 L164.5 434.8 L164.9 435.0 L165.3 435.3 L165.6 435.5 L166.0 435.7 L166.4 435.9 L166.8 436.1 L167.1 436.3 L167.5 436.5 L167.9 436.7 L168.2 436.9 L168.6 437.1 L169.0 437.3 L169.4 437.5 L169.7 437.6 L170.1 437.8 L170.5 438.0 L170.8 438.1 L171.2 438.3 L171.6 438.5 L171.9 438.6 L172.3 438.8 L172.7 438.9 L173.1 439.1 L173.4 439.3 L173.8 439.5 L174.2 439.7 L174.5 439.9 L174.9 440.1 L175.3 440.3 L175.7 440.5 L176.0 440.7 L176.4 440.9 L176.8 441.1 L177.1 441.3 L177.5 441.5 L177.9 441.7 L178.2 441.9 L178.6 442.0 L179.0 442.2 L179.4 442.4 L179.7 442.6 L180.1 442.7 L180.5 442.9 L180.8 443.1 L181.2 443.2 L181.6 443.4 L182.0 443.5 L182.3 443.7 L182.7 443.8 L183.1 444.0 L183.4 444.1 L183.8 444.2 L184.2 444.4 L184.5 444.5 L184.9 444.6 L185.3 444.7 L185.7 444.8 L186.0 444.9 L186.4 445.1 L186.8 445.2 L187.1 445.3 L187.5 445.4 L187.9 445.5 L188.2 445.6 L188.6 445.6 L189.0 445.7 L189.4 445.8 L189.7 445.9 L190.1 446.0 L190.5 446.2 L190.8 446.3 L191.2 446.4 L191.6 446.5 L192.0 446.6 L192.3 446.7 L192.7 446.8 L193.1 447.0 L193.4 447.1 L193.8 447.2 L194.2 447.3 L194.5 447.4 L194.9 447.5 L195.3 447.6 L195.7 447.7 L196.0 447.8 L196.4 447.9 L196.8 448.0 L197.1 448.1 L197.5 448.2 L197.9 448.3 L198.3 448.5 L198.6 448.6 L199.0 448.8 L199.4 449.0 L199.7 449.2 L200.1 449.4 L200.5 449.6 L200.8 449.9 L201.2 450.1 L201.6 450.4 L202.0 450.7 L202.3 450.9 L202.7 451.2 L203.1 451.4 L203.4 451.7 L203.8 451.9 L204.2 452.2 L204.6 452.5 L204.9 452.7 L205.3 453.0 L205.7 453.3 L206.0 453.6 L206.4 453.9 L206.8 454.1 L207.1 454.4 L207.5 454.7 L207.9 454.9 L208.3 455.2 L208.6 455.4 L209.0 455.7 L209.4 455.9 L209.7 456.2 L210.1 456.5 L210.5 456.8 L210.8 457.2 L211.2 457.5 L211.6 457.9 L212.0 458.3 L212.3 458.8 L212.7 459.2 L213.1 459.7 L213.4 460.3 L213.8 460.9 L214.2 461.5 L214.6 462.2 L214.9 462.9 L215.3 463.6 L215.7 464.2 L216.0 464.8 L216.4 465.4 L216.8 465.9 L217.1 466.5 L217.5 467.0 L217.9 467.5 L218.3 468.0 L218.6 468.4 L219.0 468.9 L219.4 469.3 L219.7 469.7 L220.1 470.1 L220.5 470.5 L220.9 470.8 L221.2 471.2 L221.6 471.5 L222.0 471.8 L222.3 472.1 L222.7 472.4 L223.1 472.7 L223.4 473.0 L223.8 473.2 L224.2 473.4 L224.6 473.6 L224.9 473.8 L225.3 473.9 L225.7 474.1 L226.0 474.2 L226.4 474.4 L226.8 474.5 L227.1 474.6 L227.5 474.8 L227.9 474.9 L228.3 475.0 L228.6 475.1 L229.0 475.2 L229.4 475.3 L229.7 475.4 L230.1 475.5 L230.5 475.6 L230.9 475.7 L231.2 475.8 L231.6 475.9 L232.0 476.0 L232.3 476.1 L232.7 476.3 L233.1 476.4 L233.4 476.5 L233.8 476.6 L234.2 476.6 L234.6 476.7 L234.9 476.8 L235.3 476.9 L235.7 477.0 L236.0 477.1 L236.4 477.2 L236.8 477.3 L237.2 477.4 L237.5 477.4 L237.9 477.5 L238.3 477.6 L238.6 477.7 L239.0 477.7 L239.4 477.8 L239.7 477.9 L240.1 477.9 L240.5 478.0 L240.9 478.0 L241.2 478.1 L241.6 478.1 L242.0 478.2 L242.3 478.2 L242.7 478.3 L243.1 478.3 L243.5 478.4 L243.8 478.4 L244.2 478.5 L244.6 478.5 L244.9 478.5 L245.3 478.6 L245.7 478.6 L246.0 478.7 L246.4 478.7 L246.8 478.7 L247.2 478.8 L247.5 478.8 L247.9 478.8 L248.3 478.9 L248.6 478.9 L249.0 479.0 L249.4 479.0 L249.7 479.0 L250.1 479.1 L250.5 479.1 L250.9 479.1 L251.2 479.2 L251.6 479.2 L252.0 479.3 L252.3 479.3 L252.7 479.3 L253.1 479.4 L253.5 479.4 L253.8 479.5 L254.2 479.5 L254.6 479.5 L254.9 479.6 L255.3 479.6 L255.7 479.6 L256.0 479.7 L256.4 479.7 L256.8 479.8 L257.2 479.8 L257.5 479.8 L257.9 479.9 L258.3 479.9 L258.6 479.9 L259.0 480.0 L259.4 480.0 L259.8 480.0 L260.1 480.1 L260.5 480.1 L260.9 480.1 L261.2 480.1 L261.6 480.2 L262.0 480.2 L262.3 480.2 L262.7 480.2 L263.1 480.3 L263.5 480.3 L263.8 480.3 L264.2 480.3 L264.6 480.4 L264.9 480.4 L265.3 480.4 L265.7 480.4 L266.1 480.5 L266.4 480.5 L266.8 480.5 L267.2 480.5 L267.5 480.6 L267.9 480.6 L268.3 480.6 L268.6 480.6 L269.0 480.6 L269.4 480.7 L269.8 480.7 L270.1 480.7 L270.5 480.7 L270.9 480.8 L271.2 480.8 L271.6 480.8 L272.0 480.8 L272.3 480.9 L272.7 480.9 L273.1 480.9 L273.5 480.9 L273.8 481.0 L274.2 481.0 L274.6 481.0 L274.9 481.0 L275.3 481.1 L275.7 481.1 L276.1 481.1 L276.4 481.2 L281.7 481.7 L287.0 482.2 L292.2 482.5 L297.5 482.7 L302.8 482.9 L308.1 483.1 L313.4 483.4 L318.7 483.6 L324.0 483.8 L329.3 484.1 L334.6 484.2 L339.9 484.4 L345.2 484.5 L350.5 484.5 L355.8 484.6 L361.1 484.6 L366.3 484.6 L371.6 484.6 L376.9 484.6 L382.2 484.6 L387.5 484.6 L392.8 484.6 L398.1 484.6 L403.4 484.6 L408.7 484.6 L414.0 484.6 L419.3 484.6 L424.6 484.6 L429.9 484.6 L435.2 484.6 L440.4 484.6 L445.7 484.6 L451.0 484.6 L456.3 484.6 L461.6 484.6 L466.9 484.6 L472.2 484.6 L477.5 484.6 L482.8 484.6 L488.1 484.6 L493.4 484.6 L498.7 484.6 L504.0 484.6 L509.2 484.6 L514.5 484.6 L519.8 484.6 L525.1 484.6 L530.4 484.6 L535.7 484.6 L541.0 484.6 L546.3 484.6 L551.6 484.6 L556.9 484.6 L562.2 484.6 L567.5 484.6 L572.8 484.6 L578.1 484.6 L583.3 484.6 L588.6 484.6 L593.9 484.6 L599.2 484.6 L604.5 484.6 L609.8 484.6 L615.1 484.6 L620.4 484.6 L625.7 484.7 L631.0 484.7 L636.3 484.7 L641.6 484.7 L646.9 484.7 L652.1 484.7 L657.4 484.7 L662.7 484.7 L668.0 484.7 L673.3 484.7 L678.6 484.7 L683.9 484.7 L689.2 484.7 L694.5 484.7 L699.8 484.7 L705.1 484.7 L710.4 484.7 L715.7 484.7 L721.0 484.7 L726.2 484.7 L731.5 484.7 L736.8 484.7 L742.1 484.7 L747.4 484.7 L752.7 484.7 L758.0 484.7" stroke="#8000ff" stroke-width="5.0" fill="none" stroke-linejoin="round"/>
<path d="M112.3 436.8 L112.7 436.8 L113.0 436.8 L113.4 436.8 L113.8 436.7 L114.2 436.7 L114.5 436.6 L114.9 436.5 L115.3 436.4 L115.6 436.3 L116.0 436.1 L116.4 435.8 L116.7 435.4 L117.1 434.9 L117.5 434.2 L117.9 433.1 L118.2 431.3 L118.6 419.7 L119.0 397.8 L119.3 381.6 L119.7 368.1 L120.1 354.8 L120.5 339.7 L120.8 319.8 L121.2 294.5 L121.6 273.3 L121.9 257.4 L122.3 243.5 L122.7 231.3 L123.0 220.5 L123.4 211.2 L123.8 203.4 L124.2 196.1 L124.5 188.5 L124.9 179.6 L125.3 169.8 L125.6 160.6 L126.0 153.1 L126.4 146.6 L126.7 140.3 L127.1 134.7 L127.5 130.5 L127.9 128.4 L128.2 128.8 L128.6 130.8 L129.0 134.2 L129.3 138.4 L129.7 143.5 L130.1 152.8 L130.5 165.1 L130.8 178.2 L131.2 190.1 L131.6 201.1 L131.9 212.2 L132.3 222.9 L132.7 233.2 L133.0 243.0 L133.4 252.6 L133.8 261.8 L134.2 270.8 L134.5 279.8 L134.9 288.6 L135.3 297.1 L135.6 305.0 L136.0 312.2 L136.4 318.9 L136.8 325.2 L137.1 331.2 L137.5 336.8 L137.9 342.1 L138.2 347.1 L138.6 352.0 L139.0 356.5 L139.3 360.8 L139.7 364.7 L140.1 368.3 L140.5 371.6 L140.8 374.7 L141.2 377.7 L141.6 380.4 L141.9 383.1 L142.3 385.6 L142.7 387.9 L143.1 390.1 L143.4 392.3 L143.8 394.5 L144.2 396.7 L144.5 399.1 L144.9 401.6 L145.3 404.0 L145.6 406.3 L146.0 408.3 L146.4 409.9 L146.8 411.3 L147.1 412.6 L147.5 413.7 L147.9 414.9 L148.2 416.0 L148.6 417.3 L149.0 418.6 L149.3 420.0 L149.7 421.3 L150.1 422.5 L150.5 423.7 L150.8 424.6 L151.2 425.4 L151.6 426.1 L151.9 426.8 L152.3 427.4 L152.7 427.9 L153.1 428.5 L153.4 429.0 L153.8 429.5 L154.2 430.0 L154.5 430.4 L154.9 430.8 L155.3 431.3 L155.6 431.7 L156.0 432.1 L156.4 432.5 L156.8 432.9 L157.1 433.3 L157.5 433.7 L157.9 434.1 L158.2 434.6 L158.6 435.0 L159.0 435.4 L159.4 435.8 L159.7 436.2 L160.1 436.6 L160.5 437.0 L160.8 437.5 L161.2 438.0 L161.6 438.4 L161.9 438.8 L162.3 439.1 L162.7 439.3 L163.1 439.5 L163.4 439.6 L163.8 439.7 L164.2 439.8 L164.5 439.9 L164.9 440.0 L165.3 440.1 L165.6 440.2 L166.0 440.4 L166.4 440.5 L166.8 440.8 L167.1 441.0 L167.5 441.3 L167.9 441.5 L168.2 441.8 L168.6 442.0 L169.0 442.2 L169.4 442.4 L169.7 442.5 L170.1 442.7 L170.5 442.9 L170.8 443.0 L171.2 443.2 L171.6 443.3 L171.9 443.5 L172.3 443.6 L172.7 443.7 L173.1 443.8 L173.4 444.0 L173.8 444.1 L174.2 444.3 L174.5 444.5 L174.9 444.8 L175.3 445.0 L175.7 445.4 L176.0 445.7 L176.4 446.0 L176.8 446.4 L177.1 446.7 L177.5 447.1 L177.9 447.6 L178.2 448.0 L178.6 448.5 L179.0 448.9 L179.4 449.3 L179.7 449.8 L180.1 450.1 L180.5 450.5 L180.8 450.8 L181.2 451.2 L181.6 451.5 L182.0 451.8 L182.3 452.1 L182.7 452.4 L183.1 452.7 L183.4 453.0 L183.8 453.2 L184.2 453.4 L184.5 453.6 L184.9 453.8 L185.3 454.0 L185.7 454.2 L186.0 454.4 L186.4 454.6 L186.8 454.8 L187.1 455.0 L187.5 455.2 L187.9 455.4 L188.2 455.6 L188.6 455.8 L189.0 456.0 L189.4 456.2 L189.7 456.4 L190.1 456.7 L190.5 456.9 L190.8 457.1 L191.2 457.3 L191.6 457.5 L192.0 457.7 L192.3 457.9 L192.7 458.0 L193.1 458.2 L193.4 458.4 L193.8 458.5 L194.2 458.7 L194.5 458.9 L194.9 459.0 L195.3 459.2 L195.7 459.3 L196.0 459.5 L196.4 459.6 L196.8 459.7 L197.1 459.9 L197.5 460.0 L197.9 460.1 L198.3 460.2 L198.6 460.3 L199.0 460.4 L199.4 460.5 L199.7 460.6 L200.1 460.7 L200.5 460.8 L200.8 460.9 L201.2 460.9 L201.6 461.0 L202.0 461.1 L202.3 461.2 L202.7 461.3 L203.1 461.4 L203.4 461.5 L203.8 461.7 L204.2 461.8 L204.6 462.0 L204.9 462.1 L205.3 462.3 L205.7 462.5 L206.0 462.7 L206.4 463.0 L206.8 463.2 L207.1 463.4 L207.5 463.6 L207.9 463.9 L208.3 464.1 L208.6 464.3 L209.0 464.5 L209.4 464.7 L209.7 465.0 L210.1 465.2 L210.5 465.4 L210.8 465.6 L211.2 465.8 L211.6 466.1 L212.0 466.3 L212.3 466.6 L212.7 466.9 L213.1 467.2 L213.4 467.6 L213.8 468.1 L214.2 468.6 L214.6 469.1 L214.9 469.5 L215.3 470.0 L215.7 470.4 L216.0 470.9 L216.4 471.3 L216.8 471.7 L217.1 472.2 L217.5 472.6 L217.9 472.9 L218.3 473.2 L218.6 473.5 L219.0 473.8 L219.4 474.0 L219.7 474.3 L220.1 474.5 L220.5 474.7 L220.9 474.9 L221.2 475.1 L221.6 475.3 L222.0 475.4 L222.3 475.6 L222.7 475.8 L223.1 475.9 L223.4 476.1 L223.8 476.2 L224.2 476.3 L224.6 476.5 L224.9 476.6 L225.3 476.7 L225.7 476.8 L226.0 476.9 L226.4 477.0 L226.8 477.1 L227.1 477.2 L227.5 477.3 L227.9 477.4 L228.3 477.5 L228.6 477.6 L229.0 477.7 L229.4 477.8 L229.7 477.9 L230.1 478.1 L230.5 478.2 L230.9 478.3 L231.2 478.5 L231.6 478.6 L232.0 478.8 L232.3 478.9 L232.7 479.0 L233.1 479.2 L233.4 479.3 L233.8 479.5 L234.2 479.6 L234.6 479.7 L234.9 479.9 L235.3 480.0 L235.7 480.1 L236.0 480.2 L236.4 480.3 L236.8 480.4 L237.2 480.5 L237.5 480.6 L237.9 480.7 L238.3 480.7 L238.6 480.8 L239.0 480.9 L239.4 480.9 L239.7 481.0 L240.1 481.0 L240.5 481.1 L240.9 481.1 L241.2 481.2 L241.6 481.2 L242.0 481.3 L242.3 481.3 L242.7 481.4 L243.1 481.4 L243.5 481.5 L243.8 481.5 L244.2 481.6 L244.6 481.6 L244.9 481.6 L245.3 481.7 L245.7 481.7 L246.0 481.7 L246.4 481.8 L246.8 481.8 L247.2 481.9 L247.5 481.9 L247.9 481.9 L248.3 482.0 L248.6 482.0 L249.0 482.0 L249.4 482.1 L249.7 482.1 L250.1 482.1 L250.5 482.2 L250.9 482.2 L251.2 482.2 L251.6 482.2 L252.0 482.3 L252.3 482.3 L252.7 482.3 L253.1 482.3 L253.5 482.4 L253.8 482.4 L254.2 482.4 L254.6 482.5 L254.9 482.5 L255.3 482.5 L255.7 482.5 L256.0 482.5 L256.4 482.6 L256.8 482.6 L257.2 482.6 L257.5 482.6 L257.9 482.7 L258.3 482.7 L258.6 482.7 L259.0 482.7 L259.4 482.7 L259.8 482.8 L260.1 482.8 L260.5 482.8 L260.9 482.8 L261.2 482.9 L261.6 482.9 L262.0 482.9 L262.3 482.9 L262.7 482.9 L263.1 483.0 L263.5 483.0 L263.8 483.0 L264.2 483.0 L264.6 483.0 L264.9 483.1 L265.3 483.1 L265.7 483.1 L266.1 483.1 L266.4 483.1 L266.8 483.1 L267.2 483.2 L267.5 483.2 L267.9 483.2 L268.3 483.2 L268.6 483.2 L269.0 483.3 L269.4 483.3 L269.8 483.3 L270.1 483.3 L270.5 483.3 L270.9 483.3 L271.2 483.4 L271.6 483.4 L272.0 483.4 L272.3 483.4 L272.7 483.4 L273.1 483.4 L273.5 483.4 L273.8 483.5 L274.2 483.5 L274.6 483.5 L274.9 483.5 L275.3 483.5 L275.7 483.5 L276.1 483.5 L276.4 483.6 L281.7 483.7 L287.0 483.9 L292.2 484.0 L297.5 484.1 L302.8 484.2 L308.1 484.3 L313.4 484.3 L318.7 484.4 L324.0 484.5 L329.3 484.5 L334.6 484.5 L339.9 484.5 L345.2 484.5 L350.5 484.6 L355.8 484.6 L361.1 484.6 L366.3 484.6 L371.6 484.6 L376.9 484.6 L382.2 484.6 L387.5 484.6 L392.8 484.6 L398.1 484.6 L403.4 484.6 L408.7 484.6 L414.0 484.6 L419.3 484.6 L424.6 484.6 L429.9 484.6 L435.2 484.6 L440.4 484.6 L445.7 484.6 L451.0 484.6 L456.3 484.6 L461.6 484.6 L466.9 484.6 L472.2 484.6 L477.5 484.6 L482.8 484.6 L488.1 484.6 L493.4 484.6 L498.7 484.6 L504.0 484.6 L509.2 484.6 L514.5 484.6 L519.8 484.6 L525.1 484.6 L530.4 484.6 L535.7 484.6 L541.0 484.6 L546.3 484.6 L551.6 484.6 L556.9 484.6 L562.2 484.6 L567.5 484.6 L572.8 484.6 L578.1 484.6 L583.3 484.7 L588.6 484.7 L593.9 484.7 L599.2 484.7 L604.5 484.7 L609.8 484.7 L615.1 484.7 L620.4 484.7 L625.7 484.7 L631.0 484.7 L636.3 484.7 L641.6 484.7 L646.9 484.7 L652.1 484.7 L657.4 484.7 L662.7 484.7 L668.0 484.7 L673.3 484.7 L678.6 484.7 L683.9 484.7 L689.2 484.7 L694.5 484.7 L699.8 484.7 L705.1 484.7 L710.4 484.7 L715.7 484.7 L721.0 484.7 L726.2 484.7 L731.5 484.7 L736.8 484.7 L742.1 484.7 L747.4 484.7 L752.7 484.7 L758.0 484.7" stroke="#808000" stroke-width="5.0" fill="none" stroke-linejoin="round"/>
<path d="M112.3 440.0 L112.7 440.0 L113.0 440.0 L113.4 439.9 L113.8 439.9 L114.2 439.8 L114.5 439.8 L114.9 439.7 L115.3 439.6 L115.6 439.5 L116.0 439.3 L116.4 439.0 L116.7 438.6 L117.1 437.9 L117.5 436.4 L117.9 433.7 L118.2 427.5 L118.6 415.8 L119.0 400.1 L119.3 385.5 L119.7 372.2 L120.1 358.6 L120.5 343.6 L120.8 325.1 L121.2 300.3 L121.6 277.3 L121.9 260.8 L122.3 246.5 L122.7 233.9 L123.0 222.8 L123.4 213.2 L123.8 205.1 L124.2 197.8 L124.5 190.3 L124.9 181.7 L125.3 172.0 L125.6 162.5 L126.0 154.6 L126.4 148.1 L126.7 141.7 L127.1 136.0 L127.5 131.7 L127.9 129.6 L128.2 129.9 L128.6 132.0 L129.0 135.3 L129.3 139.5 L129.7 144.7 L130.1 154.0 L130.5 166.2 L130.8 179.4 L131.2 191.3 L131.6 202.3 L131.9 213.3 L132.3 224.1 L132.7 234.4 L133.0 244.2 L133.4 253.7 L133.8 262.9 L134.2 271.9 L134.5 280.9 L134.9 289.8 L135.3 298.3 L135.6 306.2 L136.0 313.3 L136.4 320.0 L136.8 326.4 L137.1 332.3 L137.5 337.9 L137.9 343.2 L138.2 348.3 L138.6 353.1 L139.0 357.7 L139.3 362.0 L139.7 365.9 L140.1 369.5 L140.5 372.8 L140.8 375.9 L141.2 378.8 L141.6 381.6 L141.9 384.2 L142.3 386.7 L142.7 389.0 L143.1 391.3 L143.4 393.4 L143.8 395.6 L144.2 397.9 L144.5 400.3 L144.9 402.7 L145.3 405.2 L145.6 407.4 L146.0 409.4 L146.4 411.1 L146.8 412.5 L147.1 413.7 L147.5 414.9 L147.9 416.0 L148.2 417.2 L148.6 418.5 L149.0 419.8 L149.3 421.1 L149.7 422.4 L150.1 423.7 L150.5 424.8 L150.8 425.8 L151.2 426.6 L151.6 427.3 L151.9 427.9 L152.3 428.5 L152.7 429.1 L153.1 429.6 L153.4 430.1 L153.8 430.6 L154.2 431.1 L154.5 431.6 L154.9 432.0 L155.3 432.4 L155.6 432.8 L156.0 433.2 L156.4 433.6 L156.8 434.1 L157.1 434.5 L157.5 434.9 L157.9 435.3 L158.2 435.7 L158.6 436.1 L159.0 436.5 L159.4 436.9 L159.7 437.3 L160.1 437.7 L160.5 438.2 L160.8 438.6 L161.2 439.1 L161.6 439.6 L161.9 440.0 L162.3 440.3 L162.7 440.5 L163.1 440.6 L163.4 440.8 L163.8 440.9 L164.2 441.0 L164.5 441.0 L164.9 441.1 L165.3 441.2 L165.6 441.4 L166.0 441.5 L166.4 441.7 L166.8 441.9 L167.1 442.2 L167.5 442.4 L167.9 442.7 L168.2 442.9 L168.6 443.1 L169.0 443.3 L169.4 443.5 L169.7 443.7 L170.1 443.9 L170.5 444.0 L170.8 444.2 L171.2 444.3 L171.6 444.5 L171.9 444.6 L172.3 444.7 L172.7 444.9 L173.1 445.0 L173.4 445.1 L173.8 445.3 L174.2 445.4 L174.5 445.7 L174.9 445.9 L175.3 446.2 L175.7 446.5 L176.0 446.8 L176.4 447.2 L176.8 447.5 L177.1 447.9 L177.5 448.3 L177.9 448.7 L178.2 449.2 L178.6 449.6 L179.0 450.1 L179.4 450.5 L179.7 450.9 L180.1 451.3 L180.5 451.6 L180.8 452.0 L181.2 452.3 L181.6 452.7 L182.0 453.0 L182.3 453.3 L182.7 453.6 L183.1 453.9 L183.4 454.1 L183.8 454.4 L184.2 454.6 L184.5 454.8 L184.9 455.0 L185.3 455.2 L185.7 455.4 L186.0 455.5 L186.4 455.7 L186.8 455.9 L187.1 456.1 L187.5 456.3 L187.9 456.5 L188.2 456.7 L188.6 456.9 L189.0 457.2 L189.4 457.4 L189.7 457.6 L190.1 457.8 L190.5 458.0 L190.8 458.2 L191.2 458.4 L191.6 458.6 L192.0 458.8 L192.3 459.0 L192.7 459.2 L193.1 459.4 L193.4 459.5 L193.8 459.7 L194.2 459.9 L194.5 460.0 L194.9 460.2 L195.3 460.3 L195.7 460.5 L196.0 460.6 L196.4 460.8 L196.8 460.9 L197.1 461.0 L197.5 461.2 L197.9 461.3 L198.3 461.4 L198.6 461.5 L199.0 461.6 L199.4 461.7 L199.7 461.8 L200.1 461.9 L200.5 461.9 L200.8 462.0 L201.2 462.1 L201.6 462.2 L202.0 462.3 L202.3 462.4 L202.7 462.5 L203.1 462.6 L203.4 462.7 L203.8 462.8 L204.2 463.0 L204.6 463.1 L204.9 463.3 L205.3 463.5 L205.7 463.7 L206.0 463.9 L206.4 464.1 L206.8 464.3 L207.1 464.6 L207.5 464.8 L207.9 465.0 L208.3 465.2 L208.6 465.5 L209.0 465.7 L209.4 465.9 L209.7 466.1 L210.1 466.3 L210.5 466.5 L210.8 466.7 L211.2 467.0 L211.6 467.2 L212.0 467.5 L212.3 467.8 L212.7 468.1 L213.1 468.4 L213.4 468.8 L213.8 469.2 L214.2 469.7 L214.6 470.2 L214.9 470.7 L215.3 471.2 L215.7 471.6 L216.0 472.0 L216.4 472.5 L216.8 472.9 L217.1 473.3 L217.5 473.7 L217.9 474.1 L218.3 474.4 L218.6 474.7 L219.0 474.9 L219.4 475.2 L219.7 475.4 L220.1 475.6 L220.5 475.9 L220.9 476.0 L221.2 476.2 L221.6 476.4 L222.0 476.6 L222.3 476.8 L222.7 476.9 L223.1 477.1 L223.4 477.2 L223.8 477.4 L224.2 477.5 L224.6 477.6 L224.9 477.7 L225.3 477.9 L225.7 478.0 L226.0 478.1 L226.4 478.2 L226.8 478.3 L227.1 478.4 L227.5 478.5 L227.9 478.6 L228.3 478.6 L228.6 478.7 L229.0 478.8 L229.4 478.9 L229.7 479.0 L230.1 479.1 L230.5 479.2 L230.9 479.3 L231.2 479.3 L231.6 479.4 L232.0 479.5 L232.3 479.6 L232.7 479.7 L233.1 479.8 L233.4 479.8 L233.8 479.9 L234.2 480.0 L234.6 480.1 L234.9 480.1 L235.3 480.2 L235.7 480.3 L236.0 480.3 L236.4 480.4 L236.8 480.5 L237.2 480.5 L237.5 480.6 L237.9 480.7 L238.3 480.7 L238.6 480.8 L239.0 480.8 L239.4 480.9 L239.7 480.9 L240.1 481.0 L240.5 481.0 L240.9 481.1 L241.2 481.1 L241.6 481.2 L242.0 481.2 L242.3 481.3 L242.7 481.3 L243.1 481.4 L243.5 481.4 L243.8 481.5 L244.2 481.5 L244.6 481.6 L244.9 481.6 L245.3 481.6 L245.7 481.7 L246.0 481.7 L246.4 481.8 L246.8 481.8 L247.2 481.8 L247.5 481.9 L247.9 481.9 L248.3 482.0 L248.6 482.0 L249.0 482.0 L249.4 482.1 L249.7 482.1 L250.1 482.1 L250.5 482.2 L250.9 482.2 L251.2 482.2 L251.6 482.2 L252.0 482.3 L252.3 482.3 L252.7 482.3 L253.1 482.3 L253.5 482.4 L253.8 482.4 L254.2 482.4 L254.6 482.5 L254.9 482.5 L255.3 482.5 L255.7 482.5 L256.0 482.5 L256.4 482.6 L256.8 482.6 L257.2 482.6 L257.5 482.6 L257.9 482.7 L258.3 482.7 L258.6 482.7 L259.0 482.7 L259.4 482.7 L259.8 482.8 L260.1 482.8 L260.5 482.8 L260.9 482.8 L261.2 482.9 L261.6 482.9 L262.0 482.9 L262.3 482.9 L262.7 482.9 L263.1 483.0 L263.5 483.0 L263.8 483.0 L264.2 483.0 L264.6 483.0 L264.9 483.1 L265.3 483.1 L265.7 483.1 L266.1 483.1 L266.4 483.1 L266.8 483.1 L267.2 483.2 L267.5 483.2 L267.9 483.2 L268.3 483.2 L268.6 483.2 L269.0 483.3 L269.4 483.3 L269.8 483.3 L270.1 483.3 L270.5 483.3 L270.9 483.3 L271.2 483.4 L271.6 483.4 L272.0 483.4 L272.3 483.4 L272.7 483.4 L273.1 483.4 L273.5 483.4 L273.8 483.5 L274.2 483.5 L274.6 483.5 L274.9 483.5 L275.3 483.5 L275.7 483.5 L276.1 483.5 L276.4 483.6 L281.7 483.7 L287.0 483.9 L292.2 484.0 L297.5 484.1 L302.8 484.2 L308.1 484.3 L313.4 484.3 L318.7 484.4 L324.0 484.5 L329.3 484.5 L334.6 484.5 L339.9 484.5 L345.2 484.5 L350.5 484.6 L355.8 484.6 L361.1 484.6 L366.3 484.6 L371.6 484.6 L376.9 484.6 L382.2 484.6 L387.5 484.6 L392.8 484.6 L398.1 484.6 L403.4 484.6 L408.7 484.6 L414.0 484.6 L419.3 484.6 L424.6 484.6 L429.9 484.6 L435.2 484.6 L440.4 484.6 L445.7 484.6 L451.0 484.6 L456.3 484.6 L461.6 484.6 L466.9 484.6 L472.2 484.6 L477.5 484.6 L482.8 484.6 L488.1 484.6 L493.4 484.6 L498.7 484.6 L504.0 484.6 L509.2 484.6 L514.5 484.6 L519.8 484.6 L525.1 484.6 L530.4 484.6 L535.7 484.6 L541.0 484.6 L546.3 484.6 L551.6 484.6 L556.9 484.6 L562.2 484.6 L567.5 484.6 L572.8 484.6 L578.1 484.6 L583.3 484.7 L588.6 484.7 L593.9 484.7 L599.2 484.7 L604.5 484.7 L609.8 484.7 L615.1 484.7 L620.4 484.7 L625.7 484.7 L631.0 484.7 L636.3 484.7 L641.6 484.7 L646.9 484.7 L652.1 484.7 L657.4 484.7 L662.7 484.7 L668.0 484.7 L673.3 484.7 L678.6 484.7 L683.9 484.7 L689.2 484.7 L694.5 484.7 L699.8 484.7 L705.1 484.7 L710.4 484.7 L715.7 484.7 L721.0 484.7 L726.2 484.7 L731.5 484.7 L736.8 484.7 L742.1 484.7 L747.4 484.7 L752.7 484.7 L758.0 484.7" stroke="#000080" stroke-width="5.0" fill="none" stroke-linejoin="round"/>
</g>
<path d="M192.4 230.6 V465.6" stroke="#000" stroke-width="1.8" stroke-dasharray="10.4 3.5 2.5 4.8"/>
<rect x="269.6" y="28.6" width="303.1" height="204.7" fill="#fff" stroke="none"/>
<g clip-path="url(#ci)">
<path d="M269.6 183.7 L270.4 183.7 L271.2 183.7 L272.0 183.7 L272.9 183.6 L273.7 183.6 L274.5 183.6 L275.3 183.6 L276.1 183.5 L276.9 183.5 L277.8 183.4 L278.6 183.2 L279.4 182.9 L280.2 182.2 L281.0 180.9 L281.8 177.7 L282.7 173.1 L283.5 168.0 L284.3 162.1 L285.1 156.0 L285.9 150.0 L286.7 144.0 L287.6 137.8 L288.4 131.2 L289.2 124.3 L290.0 117.1 L290.8 109.5 L291.6 101.7 L292.4 95.1 L293.3 89.5 L294.1 84.4 L294.9 79.7 L295.7 75.1 L296.5 70.5 L297.3 66.0 L298.2 61.6 L299.0 57.6 L299.8 54.1 L300.6 51.2 L301.4 48.6 L302.2 46.2 L303.1 44.1 L303.9 42.3 L304.7 40.8 L305.5 39.5 L306.3 38.3 L307.1 37.2 L308.0 36.5 L308.8 36.1 L309.6 36.2 L310.4 36.8 L311.2 37.9 L312.0 39.2 L312.8 40.7 L313.7 42.4 L314.5 44.3 L315.3 46.8 L316.1 49.8 L316.9 53.2 L317.7 56.8 L318.6 60.4 L319.4 64.3 L320.2 68.6 L321.0 73.1 L321.8 77.2 L322.6 80.6 L323.5 83.7 L324.3 86.7 L325.1 89.4 L325.9 92.1 L326.7 94.7 L327.5 97.3 L328.4 99.9 L329.2 102.6 L330.0 105.1 L330.8 107.6 L331.6 110.1 L332.4 112.6 L333.2 115.1 L334.1 117.6 L334.9 120.1 L335.7 122.5 L336.5 124.8 L337.3 127.1 L338.1 129.4 L339.0 131.6 L339.8 133.8 L340.6 136.0 L341.4 138.1 L342.2 140.2 L343.0 142.1 L343.9 144.0 L344.7 145.7 L345.5 147.4 L346.3 149.0 L347.1 150.5 L347.9 152.1 L348.8 153.5 L349.6 155.0 L350.4 156.4 L351.2 157.7 L352.0 159.0 L352.8 160.3 L353.7 161.6 L354.5 162.9 L355.3 164.1 L356.1 165.3 L356.9 166.6 L357.7 167.8 L358.5 169.0 L359.4 170.1 L360.2 171.3 L361.0 172.4 L361.8 173.5 L362.6 174.5 L363.4 175.5 L364.3 176.5 L365.1 177.4 L365.9 178.3 L366.7 179.1 L367.5 179.9 L368.3 180.7 L369.2 181.5 L370.0 182.2 L370.8 182.9 L371.6 183.6 L372.4 184.2 L373.2 184.8 L374.1 185.3 L374.9 185.7 L375.7 186.2 L376.5 186.6 L377.3 187.1 L378.1 187.5 L378.9 187.9 L379.8 188.3 L380.6 188.6 L381.4 189.0 L382.2 189.2 L383.0 189.4 L383.8 189.6 L384.7 189.6 L385.5 189.6 L386.3 189.5 L387.1 189.4 L387.9 189.2 L388.7 189.0 L389.6 188.8 L390.4 188.5 L391.2 188.2 L392.0 187.8 L392.8 187.4 L393.6 186.8 L394.5 186.2 L395.3 185.6 L396.1 185.0 L396.9 184.4 L397.7 183.7 L398.5 183.0 L399.3 182.3 L400.2 181.6 L401.0 180.8 L401.8 179.9 L402.6 179.0 L403.4 178.0 L404.2 176.9 L405.1 175.8 L405.9 174.6 L406.7 173.4 L407.5 172.2 L408.3 171.0 L409.1 169.7 L410.0 168.4 L410.8 167.1 L411.6 165.7 L412.4 164.4 L413.2 163.0 L414.0 161.6 L414.9 160.2 L415.7 158.9 L416.5 157.6 L417.3 156.3 L418.1 155.0 L418.9 153.7 L419.7 152.4 L420.6 151.1 L421.4 149.8 L422.2 148.5 L423.0 147.3 L423.8 146.0 L424.6 144.8 L425.5 143.5 L426.3 142.2 L427.1 140.9 L427.9 139.7 L428.7 138.6 L429.5 137.4 L430.4 136.3 L431.2 135.2 L432.0 134.2 L432.8 133.2 L433.6 132.4 L434.4 131.6 L435.3 130.9 L436.1 130.2 L436.9 129.5 L437.7 129.0 L438.5 128.5 L439.3 128.2 L440.1 127.8 L441.0 127.4 L441.8 127.1 L442.6 126.9 L443.4 126.7 L444.2 126.6 L445.0 126.6 L445.9 126.7 L446.7 126.9 L447.5 127.2 L448.3 127.4 L449.1 127.7 L449.9 128.0 L450.8 128.3 L451.6 128.7 L452.4 129.1 L453.2 129.6 L454.0 130.1 L454.8 130.7 L455.7 131.3 L456.5 131.9 L457.3 132.6 L458.1 133.4 L458.9 134.4 L459.7 135.4 L460.5 136.5 L461.4 137.6 L462.2 138.8 L463.0 140.0 L463.8 141.2 L464.6 142.5 L465.4 143.7 L466.3 144.8 L467.1 145.8 L467.9 146.9 L468.7 147.9 L469.5 148.9 L470.3 149.9 L471.2 150.9 L472.0 152.0 L472.8 153.1 L473.6 154.3 L474.4 155.6 L475.2 156.9 L476.1 158.2 L476.9 159.5 L477.7 160.8 L478.5 162.1 L479.3 163.3 L480.1 164.4 L481.0 165.5 L481.8 166.6 L482.6 167.7 L483.4 168.8 L484.2 169.9 L485.0 171.0 L485.8 172.0 L486.7 173.1 L487.5 174.2 L488.3 175.2 L489.1 176.2 L489.9 177.3 L490.7 178.2 L491.6 179.2 L492.4 180.2 L493.2 181.1 L494.0 182.1 L494.8 183.0 L495.6 183.8 L496.5 184.7 L497.3 185.5 L498.1 186.4 L498.9 187.2 L499.7 188.0 L500.5 188.7 L501.4 189.5 L502.2 190.3 L503.0 191.0 L503.8 191.8 L504.6 192.5 L505.4 193.2 L506.2 193.9 L507.1 194.6 L507.9 195.3 L508.7 196.0 L509.5 196.7 L510.3 197.3 L511.1 198.0 L512.0 198.6 L512.8 199.2 L513.6 199.8 L514.4 200.4 L515.2 200.9 L516.0 201.4 L516.9 201.9 L517.7 202.4 L518.5 202.8 L519.3 203.3 L520.1 203.7 L520.9 204.1 L521.8 204.5 L522.6 204.8 L523.4 205.2 L524.2 205.6 L525.0 206.0 L525.8 206.4 L526.6 206.7 L527.5 207.1 L528.3 207.4 L529.1 207.8 L529.9 208.1 L530.7 208.4 L531.5 208.8 L532.4 209.1 L533.2 209.4 L534.0 209.6 L534.8 209.9 L535.6 210.2 L536.4 210.4 L537.3 210.7 L538.1 210.9 L538.9 211.2 L539.7 211.4 L540.5 211.6 L541.3 211.8 L542.2 212.0 L543.0 212.2 L543.8 212.3 L544.6 212.5 L545.4 212.7 L546.2 212.9 L547.0 213.1 L547.9 213.4 L548.7 213.6 L549.5 213.8 L550.3 214.0 L551.1 214.2 L551.9 214.4 L552.8 214.6 L553.6 214.8 L554.4 215.0 L555.2 215.2 L556.0 215.5 L556.8 215.7 L557.7 215.9 L558.5 216.1 L559.3 216.4 L560.1 216.6 L560.9 216.8 L561.7 217.0 L562.6 217.3 L563.4 217.5 L564.2 217.8 L565.0 218.0 L565.8 218.3 L566.6 218.5 L567.4 218.8 L568.3 219.0 L569.1 219.3 L569.9 219.5 L570.7 219.8 L571.5 220.0 L572.3 220.2 L572.7 220.3" stroke="#000000" stroke-width="5.5" fill="none" stroke-linejoin="round"/>
<path d="M269.6 192.7 L270.4 192.7 L271.2 192.7 L272.0 192.6 L272.9 192.6 L273.7 192.6 L274.5 192.6 L275.3 192.5 L276.1 192.5 L276.9 192.5 L277.8 192.4 L278.6 192.3 L279.4 192.1 L280.2 191.7 L281.0 190.6 L281.8 188.3 L282.7 184.4 L283.5 179.0 L284.3 172.5 L285.1 165.3 L285.9 156.8 L286.7 146.0 L287.6 136.5 L288.4 129.6 L289.2 123.6 L290.0 118.3 L290.8 113.6 L291.6 109.5 L292.4 106.1 L293.3 103.0 L294.1 99.7 L294.9 96.0 L295.7 92.0 L296.5 88.1 L297.3 84.4 L298.2 80.9 L299.0 77.1 L299.8 73.3 L300.6 69.4 L301.4 65.5 L302.2 61.9 L303.1 58.5 L303.9 55.4 L304.7 52.8 L305.5 50.8 L306.3 49.4 L307.1 48.7 L308.0 48.8 L308.8 49.4 L309.6 50.3 L310.4 51.5 L311.2 52.8 L312.0 54.4 L312.8 56.8 L313.7 59.9 L314.5 63.5 L315.3 67.4 L316.1 71.5 L316.9 75.8 L317.7 81.1 L318.6 86.7 L319.4 92.3 L320.2 97.4 L321.0 101.7 L321.8 105.6 L322.6 109.2 L323.5 112.6 L324.3 115.9 L325.1 119.0 L325.9 122.1 L326.7 125.1 L327.5 128.1 L328.4 131.1 L329.2 133.9 L330.0 136.7 L330.8 139.3 L331.6 141.7 L332.4 143.8 L333.2 145.7 L334.1 147.5 L334.9 149.1 L335.7 150.7 L336.5 152.1 L337.3 153.5 L338.1 154.8 L339.0 156.1 L339.8 157.3 L340.6 158.5 L341.4 159.7 L342.2 160.9 L343.0 162.2 L343.9 163.4 L344.7 164.7 L345.5 165.9 L346.3 167.2 L347.1 168.5 L347.9 169.8 L348.8 171.0 L349.6 172.3 L350.4 173.5 L351.2 174.7 L352.0 175.9 L352.8 177.0 L353.7 178.1 L354.5 179.2 L355.3 180.2 L356.1 181.2 L356.9 182.1 L357.7 183.0 L358.5 183.9 L359.4 184.7 L360.2 185.5 L361.0 186.3 L361.8 187.0 L362.6 187.8 L363.4 188.5 L364.3 189.1 L365.1 189.8 L365.9 190.4 L366.7 191.1 L367.5 191.7 L368.3 192.3 L369.2 192.9 L370.0 193.5 L370.8 194.0 L371.6 194.6 L372.4 195.1 L373.2 195.6 L374.1 196.1 L374.9 196.5 L375.7 197.0 L376.5 197.4 L377.3 197.9 L378.1 198.4 L378.9 198.8 L379.8 199.3 L380.6 199.7 L381.4 200.1 L382.2 200.5 L383.0 200.8 L383.8 201.1 L384.7 201.2 L385.5 201.3 L386.3 201.4 L387.1 201.3 L387.9 201.2 L388.7 201.0 L389.6 200.8 L390.4 200.6 L391.2 200.3 L392.0 200.0 L392.8 199.6 L393.6 199.2 L394.5 198.7 L395.3 198.2 L396.1 197.7 L396.9 197.2 L397.7 196.8 L398.5 196.3 L399.3 195.8 L400.2 195.3 L401.0 194.8 L401.8 194.3 L402.6 193.7 L403.4 193.2 L404.2 192.6 L405.1 192.1 L405.9 191.5 L406.7 190.9 L407.5 190.2 L408.3 189.6 L409.1 188.9 L410.0 188.3 L410.8 187.6 L411.6 187.0 L412.4 186.3 L413.2 185.7 L414.0 185.1 L414.9 184.5 L415.7 184.0 L416.5 183.4 L417.3 182.8 L418.1 182.2 L418.9 181.5 L419.7 180.9 L420.6 180.1 L421.4 179.3 L422.2 178.4 L423.0 177.5 L423.8 176.5 L424.6 175.6 L425.5 174.7 L426.3 173.8 L427.1 172.9 L427.9 172.0 L428.7 171.1 L429.5 170.3 L430.4 169.5 L431.2 168.8 L432.0 168.1 L432.8 167.4 L433.6 166.7 L434.4 166.1 L435.3 165.6 L436.1 165.1 L436.9 164.6 L437.7 164.2 L438.5 163.8 L439.3 163.4 L440.1 163.1 L441.0 162.9 L441.8 162.7 L442.6 162.6 L443.4 162.5 L444.2 162.4 L445.0 162.3 L445.9 162.3 L446.7 162.4 L447.5 162.5 L448.3 162.6 L449.1 162.7 L449.9 162.8 L450.8 163.0 L451.6 163.1 L452.4 163.3 L453.2 163.5 L454.0 163.7 L454.8 164.0 L455.7 164.2 L456.5 164.5 L457.3 164.9 L458.1 165.2 L458.9 165.7 L459.7 166.2 L460.5 166.7 L461.4 167.3 L462.2 167.9 L463.0 168.5 L463.8 169.2 L464.6 169.9 L465.4 170.7 L466.3 171.5 L467.1 172.4 L467.9 173.3 L468.7 174.2 L469.5 175.1 L470.3 175.9 L471.2 176.8 L472.0 177.6 L472.8 178.4 L473.6 179.3 L474.4 180.3 L475.2 181.3 L476.1 182.3 L476.9 183.4 L477.7 184.4 L478.5 185.4 L479.3 186.3 L480.1 187.2 L481.0 188.1 L481.8 189.0 L482.6 189.8 L483.4 190.7 L484.2 191.5 L485.0 192.3 L485.8 193.1 L486.7 193.8 L487.5 194.6 L488.3 195.3 L489.1 196.0 L489.9 196.7 L490.7 197.3 L491.6 198.0 L492.4 198.6 L493.2 199.2 L494.0 199.8 L494.8 200.4 L495.6 200.9 L496.5 201.4 L497.3 201.8 L498.1 202.2 L498.9 202.7 L499.7 203.1 L500.5 203.4 L501.4 203.8 L502.2 204.2 L503.0 204.5 L503.8 204.9 L504.6 205.2 L505.4 205.5 L506.2 205.8 L507.1 206.2 L507.9 206.4 L508.7 206.7 L509.5 207.0 L510.3 207.3 L511.1 207.6 L512.0 207.8 L512.8 208.1 L513.6 208.4 L514.4 208.6 L515.2 208.9 L516.0 209.1 L516.9 209.4 L517.7 209.6 L518.5 209.9 L519.3 210.1 L520.1 210.4 L520.9 210.6 L521.8 210.8 L522.6 211.1 L523.4 211.3 L524.2 211.5 L525.0 211.8 L525.8 212.0 L526.6 212.2 L527.5 212.4 L528.3 212.6 L529.1 212.8 L529.9 213.0 L530.7 213.2 L531.5 213.4 L532.4 213.6 L533.2 213.9 L534.0 214.1 L534.8 214.3 L535.6 214.5 L536.4 214.8 L537.3 215.0 L538.1 215.3 L538.9 215.5 L539.7 215.8 L540.5 216.0 L541.3 216.3 L542.2 216.6 L543.0 216.8 L543.8 217.1 L544.6 217.3 L545.4 217.6 L546.2 217.8 L547.0 218.0 L547.9 218.2 L548.7 218.4 L549.5 218.6 L550.3 218.8 L551.1 219.0 L551.9 219.2 L552.8 219.4 L553.6 219.6 L554.4 219.7 L555.2 219.9 L556.0 220.1 L556.8 220.3 L557.7 220.4 L558.5 220.6 L559.3 220.8 L560.1 220.9 L560.9 221.1 L561.7 221.2 L562.6 221.4 L563.4 221.5 L564.2 221.6 L565.0 221.8 L565.8 221.9 L566.6 222.0 L567.4 222.1 L568.3 222.2 L569.1 222.3 L569.9 222.4 L570.7 222.5 L571.5 222.5 L572.3 222.6 L572.7 222.6" stroke="#ff00ff" stroke-width="5.5" fill="none" stroke-linejoin="round"/>
<path d="M269.6 196.7 L270.4 196.7 L271.2 196.7 L272.0 196.7 L272.9 196.7 L273.7 196.6 L274.5 196.6 L275.3 196.6 L276.1 196.5 L276.9 196.5 L277.8 196.4 L278.6 196.3 L279.4 196.1 L280.2 195.8 L281.0 195.2 L281.8 193.8 L282.7 186.8 L283.5 180.8 L284.3 175.1 L285.1 169.0 L285.9 162.0 L286.7 152.3 L287.6 141.5 L288.4 133.5 L289.2 126.9 L290.0 121.2 L290.8 116.2 L291.6 111.7 L292.4 108.0 L293.3 104.8 L294.1 101.6 L294.9 98.2 L295.7 94.3 L296.5 90.3 L297.3 86.5 L298.2 82.9 L299.0 79.2 L299.8 75.3 L300.6 71.3 L301.4 67.5 L302.2 64.0 L303.1 61.0 L303.9 58.6 L304.7 57.1 L305.5 56.5 L306.3 56.9 L307.1 57.9 L308.0 59.4 L308.8 61.1 L309.6 62.9 L310.4 65.4 L311.2 68.4 L312.0 71.9 L312.8 75.6 L313.7 79.3 L314.5 83.5 L315.3 88.1 L316.1 92.9 L316.9 97.5 L317.7 101.7 L318.6 105.9 L319.4 110.0 L320.2 114.1 L321.0 118.0 L321.8 121.9 L322.6 125.6 L323.5 129.1 L324.3 132.3 L325.1 135.6 L325.9 138.7 L326.7 141.7 L327.5 144.6 L328.4 147.3 L329.2 149.8 L330.0 152.1 L330.8 154.1 L331.6 155.9 L332.4 157.7 L333.2 159.3 L334.1 160.8 L334.9 162.3 L335.7 163.7 L336.5 165.1 L337.3 166.5 L338.1 167.9 L339.0 169.3 L339.8 170.7 L340.6 172.0 L341.4 173.3 L342.2 174.6 L343.0 175.9 L343.9 177.1 L344.7 178.3 L345.5 179.5 L346.3 180.6 L347.1 181.6 L347.9 182.6 L348.8 183.6 L349.6 184.4 L350.4 185.3 L351.2 186.1 L352.0 187.0 L352.8 187.8 L353.7 188.5 L354.5 189.3 L355.3 190.0 L356.1 190.7 L356.9 191.4 L357.7 192.1 L358.5 192.7 L359.4 193.3 L360.2 193.8 L361.0 194.4 L361.8 194.9 L362.6 195.3 L363.4 195.8 L364.3 196.2 L365.1 196.6 L365.9 197.0 L366.7 197.4 L367.5 197.7 L368.3 198.1 L369.2 198.4 L370.0 198.7 L370.8 199.1 L371.6 199.4 L372.4 199.6 L373.2 199.9 L374.1 200.2 L374.9 200.5 L375.7 200.7 L376.5 200.9 L377.3 201.2 L378.1 201.4 L378.9 201.7 L379.8 201.9 L380.6 202.2 L381.4 202.4 L382.2 202.7 L383.0 202.8 L383.8 203.0 L384.7 203.1 L385.5 203.2 L386.3 203.2 L387.1 203.2 L387.9 203.2 L388.7 203.2 L389.6 203.1 L390.4 203.1 L391.2 203.0 L392.0 203.0 L392.8 202.9 L393.6 202.8 L394.5 202.7 L395.3 202.5 L396.1 202.2 L396.9 202.0 L397.7 201.7 L398.5 201.3 L399.3 201.0 L400.2 200.7 L401.0 200.4 L401.8 200.1 L402.6 199.8 L403.4 199.4 L404.2 199.1 L405.1 198.7 L405.9 198.3 L406.7 197.9 L407.5 197.5 L408.3 197.1 L409.1 196.6 L410.0 196.1 L410.8 195.6 L411.6 195.1 L412.4 194.5 L413.2 194.0 L414.0 193.5 L414.9 192.9 L415.7 192.4 L416.5 191.9 L417.3 191.5 L418.1 191.0 L418.9 190.5 L419.7 190.0 L420.6 189.6 L421.4 189.1 L422.2 188.6 L423.0 188.1 L423.8 187.6 L424.6 187.1 L425.5 186.7 L426.3 186.2 L427.1 185.8 L427.9 185.4 L428.7 184.9 L429.5 184.5 L430.4 184.1 L431.2 183.8 L432.0 183.4 L432.8 183.1 L433.6 182.9 L434.4 182.6 L435.3 182.3 L436.1 182.1 L436.9 181.9 L437.7 181.7 L438.5 181.5 L439.3 181.4 L440.1 181.3 L441.0 181.2 L441.8 181.1 L442.6 181.0 L443.4 180.9 L444.2 180.9 L445.0 180.9 L445.9 180.9 L446.7 181.0 L447.5 181.1 L448.3 181.2 L449.1 181.3 L449.9 181.5 L450.8 181.6 L451.6 181.8 L452.4 182.0 L453.2 182.2 L454.0 182.5 L454.8 182.8 L455.7 183.1 L456.5 183.3 L457.3 183.6 L458.1 184.0 L458.9 184.3 L459.7 184.6 L460.5 185.0 L461.4 185.4 L462.2 185.7 L463.0 186.1 L463.8 186.4 L464.6 186.8 L465.4 187.1 L466.3 187.4 L467.1 187.8 L467.9 188.1 L468.7 188.5 L469.5 189.0 L470.3 189.4 L471.2 189.9 L472.0 190.4 L472.8 191.0 L473.6 191.5 L474.4 192.1 L475.2 192.7 L476.1 193.3 L476.9 193.9 L477.7 194.6 L478.5 195.2 L479.3 195.9 L480.1 196.5 L481.0 197.2 L481.8 197.9 L482.6 198.5 L483.4 199.2 L484.2 199.9 L485.0 200.5 L485.8 201.2 L486.7 201.9 L487.5 202.5 L488.3 203.2 L489.1 203.8 L489.9 204.4 L490.7 205.0 L491.6 205.7 L492.4 206.3 L493.2 206.8 L494.0 207.4 L494.8 207.9 L495.6 208.4 L496.5 208.8 L497.3 209.1 L498.1 209.5 L498.9 209.9 L499.7 210.2 L500.5 210.5 L501.4 210.8 L502.2 211.0 L503.0 211.3 L503.8 211.4 L504.6 211.6 L505.4 211.8 L506.2 211.9 L507.1 212.0 L507.9 212.1 L508.7 212.2 L509.5 212.3 L510.3 212.4 L511.1 212.5 L512.0 212.6 L512.8 212.7 L513.6 212.8 L514.4 212.9 L515.2 213.0 L516.0 213.2 L516.9 213.4 L517.7 213.6 L518.5 213.8 L519.3 214.1 L520.1 214.3 L520.9 214.6 L521.8 214.9 L522.6 215.2 L523.4 215.4 L524.2 215.7 L525.0 216.0 L525.8 216.2 L526.6 216.4 L527.5 216.6 L528.3 216.8 L529.1 217.0 L529.9 217.2 L530.7 217.4 L531.5 217.6 L532.4 217.7 L533.2 217.9 L534.0 218.1 L534.8 218.3 L535.6 218.4 L536.4 218.6 L537.3 218.7 L538.1 218.9 L538.9 219.0 L539.7 219.2 L540.5 219.3 L541.3 219.5 L542.2 219.6 L543.0 219.8 L543.8 219.9 L544.6 220.0 L545.4 220.2 L546.2 220.3 L547.0 220.5 L547.9 220.6 L548.7 220.7 L549.5 220.9 L550.3 221.0 L551.1 221.1 L551.9 221.2 L552.8 221.3 L553.6 221.5 L554.4 221.6 L555.2 221.7 L556.0 221.8 L556.8 221.9 L557.7 222.0 L558.5 222.1 L559.3 222.2 L560.1 222.3 L560.9 222.4 L561.7 222.4 L562.6 222.5 L563.4 222.6 L564.2 222.6 L565.0 222.7 L565.8 222.8 L566.6 222.8 L567.4 222.9 L568.3 223.0 L569.1 223.0 L569.9 223.1 L570.7 223.2 L571.5 223.2 L572.3 223.3 L572.7 223.3" stroke="#0000ff" stroke-width="5.5" fill="none" stroke-linejoin="round"/>
<path d="M269.6 199.8 L270.4 199.8 L271.2 199.8 L272.0 199.8 L272.9 199.8 L273.7 199.7 L274.5 199.7 L275.3 199.7 L276.1 199.6 L276.9 199.6 L277.8 199.5 L278.6 199.4 L279.4 199.2 L280.2 198.9 L281.0 198.4 L281.8 197.4 L282.7 191.5 L283.5 184.0 L284.3 178.2 L285.1 172.4 L285.9 166.1 L286.7 158.2 L287.6 147.5 L288.4 137.6 L289.2 130.6 L290.0 124.4 L290.8 119.0 L291.6 114.2 L292.4 110.1 L293.3 106.6 L294.1 103.4 L294.9 100.2 L295.7 96.6 L296.5 92.6 L297.3 88.7 L298.2 84.9 L299.0 81.2 L299.8 77.2 L300.6 73.0 L301.4 69.1 L302.2 65.7 L303.1 63.0 L303.9 61.5 L304.7 61.4 L305.5 61.9 L306.3 62.9 L307.1 64.2 L308.0 65.6 L308.8 67.4 L309.6 70.1 L310.4 73.2 L311.2 76.7 L312.0 80.3 L312.8 83.9 L313.7 87.9 L314.5 92.1 L315.3 96.4 L316.1 100.5 L316.9 104.6 L317.7 108.8 L318.6 113.0 L319.4 117.1 L320.2 121.2 L321.0 125.1 L321.8 128.9 L322.6 132.3 L323.5 135.6 L324.3 138.8 L325.1 141.8 L325.9 144.7 L326.7 147.5 L327.5 150.1 L328.4 152.6 L329.2 154.8 L330.0 157.0 L330.8 159.0 L331.6 160.9 L332.4 162.7 L333.2 164.4 L334.1 166.0 L334.9 167.6 L335.7 169.0 L336.5 170.5 L337.3 171.9 L338.1 173.3 L339.0 174.6 L339.8 175.9 L340.6 177.1 L341.4 178.4 L342.2 179.5 L343.0 180.7 L343.9 181.7 L344.7 182.8 L345.5 183.7 L346.3 184.7 L347.1 185.5 L347.9 186.4 L348.8 187.3 L349.6 188.1 L350.4 188.9 L351.2 189.7 L352.0 190.4 L352.8 191.2 L353.7 191.9 L354.5 192.5 L355.3 193.2 L356.1 193.8 L356.9 194.4 L357.7 195.0 L358.5 195.5 L359.4 196.0 L360.2 196.5 L361.0 197.0 L361.8 197.4 L362.6 197.8 L363.4 198.2 L364.3 198.6 L365.1 199.0 L365.9 199.4 L366.7 199.7 L367.5 200.1 L368.3 200.4 L369.2 200.7 L370.0 201.0 L370.8 201.3 L371.6 201.5 L372.4 201.8 L373.2 202.0 L374.1 202.2 L374.9 202.4 L375.7 202.5 L376.5 202.7 L377.3 202.9 L378.1 203.0 L378.9 203.1 L379.8 203.3 L380.6 203.4 L381.4 203.5 L382.2 203.6 L383.0 203.7 L383.8 203.8 L384.7 204.0 L385.5 204.1 L386.3 204.2 L387.1 204.3 L387.9 204.4 L388.7 204.5 L389.6 204.5 L390.4 204.5 L391.2 204.5 L392.0 204.4 L392.8 204.4 L393.6 204.3 L394.5 204.2 L395.3 204.2 L396.1 204.1 L396.9 204.0 L397.7 203.9 L398.5 203.9 L399.3 203.8 L400.2 203.7 L401.0 203.6 L401.8 203.4 L402.6 203.3 L403.4 203.2 L404.2 203.1 L405.1 202.9 L405.9 202.8 L406.7 202.6 L407.5 202.5 L408.3 202.3 L409.1 202.1 L410.0 201.9 L410.8 201.7 L411.6 201.5 L412.4 201.4 L413.2 201.2 L414.0 201.0 L414.9 200.8 L415.7 200.6 L416.5 200.4 L417.3 200.2 L418.1 200.0 L418.9 199.8 L419.7 199.6 L420.6 199.5 L421.4 199.3 L422.2 199.1 L423.0 198.9 L423.8 198.7 L424.6 198.5 L425.5 198.3 L426.3 198.2 L427.1 198.0 L427.9 197.9 L428.7 197.7 L429.5 197.6 L430.4 197.5 L431.2 197.3 L432.0 197.2 L432.8 197.1 L433.6 197.0 L434.4 196.9 L435.3 196.8 L436.1 196.7 L436.9 196.7 L437.7 196.6 L438.5 196.6 L439.3 196.5 L440.1 196.5 L441.0 196.4 L441.8 196.4 L442.6 196.4 L443.4 196.4 L444.2 196.4 L445.0 196.4 L445.9 196.5 L446.7 196.5 L447.5 196.6 L448.3 196.6 L449.1 196.7 L449.9 196.8 L450.8 196.9 L451.6 197.0 L452.4 197.2 L453.2 197.5 L454.0 197.7 L454.8 197.9 L455.7 198.1 L456.5 198.3 L457.3 198.6 L458.1 198.8 L458.9 199.0 L459.7 199.3 L460.5 199.5 L461.4 199.8 L462.2 200.0 L463.0 200.3 L463.8 200.5 L464.6 200.8 L465.4 201.1 L466.3 201.4 L467.1 201.6 L467.9 201.9 L468.7 202.2 L469.5 202.5 L470.3 202.8 L471.2 203.1 L472.0 203.3 L472.8 203.6 L473.6 203.9 L474.4 204.2 L475.2 204.5 L476.1 204.8 L476.9 205.1 L477.7 205.4 L478.5 205.7 L479.3 206.1 L480.1 206.4 L481.0 206.7 L481.8 207.1 L482.6 207.4 L483.4 207.8 L484.2 208.1 L485.0 208.5 L485.8 208.8 L486.7 209.1 L487.5 209.4 L488.3 209.7 L489.1 210.0 L489.9 210.3 L490.7 210.6 L491.6 210.9 L492.4 211.2 L493.2 211.5 L494.0 211.8 L494.8 212.1 L495.6 212.3 L496.5 212.6 L497.3 212.9 L498.1 213.2 L498.9 213.4 L499.7 213.7 L500.5 214.0 L501.4 214.3 L502.2 214.5 L503.0 214.8 L503.8 215.1 L504.6 215.4 L505.4 215.6 L506.2 215.9 L507.1 216.1 L507.9 216.4 L508.7 216.6 L509.5 216.8 L510.3 217.0 L511.1 217.3 L512.0 217.5 L512.8 217.7 L513.6 217.9 L514.4 218.1 L515.2 218.2 L516.0 218.4 L516.9 218.6 L517.7 218.8 L518.5 219.0 L519.3 219.2 L520.1 219.4 L520.9 219.6 L521.8 219.7 L522.6 219.9 L523.4 220.1 L524.2 220.2 L525.0 220.4 L525.8 220.6 L526.6 220.7 L527.5 220.9 L528.3 221.0 L529.1 221.1 L529.9 221.3 L530.7 221.4 L531.5 221.5 L532.4 221.6 L533.2 221.7 L534.0 221.8 L534.8 221.9 L535.6 222.0 L536.4 222.1 L537.3 222.1 L538.1 222.2 L538.9 222.3 L539.7 222.3 L540.5 222.4 L541.3 222.5 L542.2 222.5 L543.0 222.6 L543.8 222.6 L544.6 222.7 L545.4 222.7 L546.2 222.8 L547.0 222.8 L547.9 222.9 L548.7 222.9 L549.5 223.0 L550.3 223.0 L551.1 223.1 L551.9 223.1 L552.8 223.1 L553.6 223.2 L554.4 223.2 L555.2 223.3 L556.0 223.3 L556.8 223.3 L557.7 223.4 L558.5 223.4 L559.3 223.4 L560.1 223.5 L560.9 223.5 L561.7 223.6 L562.6 223.6 L563.4 223.6 L564.2 223.7 L565.0 223.7 L565.8 223.7 L566.6 223.8 L567.4 223.8 L568.3 223.8 L569.1 223.9 L569.9 223.9 L570.7 223.9 L571.5 224.0 L572.3 224.0 L572.7 224.0" stroke="#008080" stroke-width="5.5" fill="none" stroke-linejoin="round"/>
<path d="M269.6 203.2 L270.4 203.2 L271.2 203.2 L272.0 203.2 L272.9 203.2 L273.7 203.2 L274.5 203.1 L275.3 203.1 L276.1 203.1 L276.9 203.0 L277.8 202.9 L278.6 202.8 L279.4 202.6 L280.2 202.4 L281.0 201.9 L281.8 201.2 L282.7 197.9 L283.5 189.0 L284.3 182.2 L285.1 176.5 L285.9 170.7 L286.7 164.1 L287.6 155.3 L288.4 144.5 L289.2 135.5 L290.0 128.7 L290.8 122.8 L291.6 117.6 L292.4 113.0 L293.3 109.0 L294.1 105.7 L294.9 102.5 L295.7 99.2 L296.5 95.4 L297.3 91.4 L298.2 87.4 L299.0 84.0 L299.8 80.5 L300.6 76.9 L301.4 73.4 L302.2 70.4 L303.1 68.2 L303.9 67.1 L304.7 67.3 L305.5 68.1 L306.3 69.5 L307.1 71.1 L308.0 72.8 L308.8 75.4 L309.6 78.5 L310.4 82.1 L311.2 85.9 L312.0 89.8 L312.8 94.2 L313.7 98.7 L314.5 102.9 L315.3 107.1 L316.1 111.3 L316.9 115.5 L317.7 119.5 L318.6 123.5 L319.4 127.4 L320.2 131.0 L321.0 134.5 L321.8 138.0 L322.6 141.3 L323.5 144.5 L324.3 147.6 L325.1 150.6 L325.9 153.3 L326.7 155.8 L327.5 158.0 L328.4 160.2 L329.2 162.2 L330.0 164.1 L330.8 165.9 L331.6 167.6 L332.4 169.2 L333.2 170.8 L334.1 172.3 L334.9 173.8 L335.7 175.3 L336.5 176.8 L337.3 178.2 L338.1 179.5 L339.0 180.8 L339.8 182.1 L340.6 183.3 L341.4 184.5 L342.2 185.6 L343.0 186.6 L343.9 187.6 L344.7 188.5 L345.5 189.4 L346.3 190.3 L347.1 191.2 L347.9 192.0 L348.8 192.8 L349.6 193.6 L350.4 194.4 L351.2 195.1 L352.0 195.8 L352.8 196.4 L353.7 197.0 L354.5 197.6 L355.3 198.1 L356.1 198.5 L356.9 198.9 L357.7 199.3 L358.5 199.6 L359.4 199.9 L360.2 200.2 L361.0 200.5 L361.8 200.7 L362.6 201.0 L363.4 201.2 L364.3 201.4 L365.1 201.6 L365.9 201.8 L366.7 202.1 L367.5 202.2 L368.3 202.4 L369.2 202.6 L370.0 202.8 L370.8 203.0 L371.6 203.1 L372.4 203.3 L373.2 203.5 L374.1 203.6 L374.9 203.8 L375.7 203.9 L376.5 204.1 L377.3 204.2 L378.1 204.4 L378.9 204.5 L379.8 204.7 L380.6 204.8 L381.4 204.9 L382.2 205.1 L383.0 205.2 L383.8 205.3 L384.7 205.4 L385.5 205.5 L386.3 205.6 L387.1 205.7 L387.9 205.8 L388.7 205.9 L389.6 206.0 L390.4 206.1 L391.2 206.2 L392.0 206.3 L392.8 206.4 L393.6 206.4 L394.5 206.5 L395.3 206.6 L396.1 206.7 L396.9 206.7 L397.7 206.8 L398.5 206.9 L399.3 207.0 L400.2 207.0 L401.0 207.1 L401.8 207.2 L402.6 207.2 L403.4 207.3 L404.2 207.4 L405.1 207.5 L405.9 207.6 L406.7 207.6 L407.5 207.7 L408.3 207.8 L409.1 207.9 L410.0 208.0 L410.8 208.1 L411.6 208.2 L412.4 208.2 L413.2 208.3 L414.0 208.4 L414.9 208.5 L415.7 208.6 L416.5 208.6 L417.3 208.7 L418.1 208.8 L418.9 208.9 L419.7 208.9 L420.6 209.0 L421.4 209.1 L422.2 209.1 L423.0 209.2 L423.8 209.3 L424.6 209.3 L425.5 209.4 L426.3 209.4 L427.1 209.5 L427.9 209.6 L428.7 209.6 L429.5 209.7 L430.4 209.7 L431.2 209.8 L432.0 209.8 L432.8 209.9 L433.6 209.9 L434.4 209.9 L435.3 210.0 L436.1 210.0 L436.9 210.1 L437.7 210.1 L438.5 210.2 L439.3 210.2 L440.1 210.2 L441.0 210.3 L441.8 210.3 L442.6 210.4 L443.4 210.4 L444.2 210.5 L445.0 210.5 L445.9 210.6 L446.7 210.6 L447.5 210.7 L448.3 210.7 L449.1 210.8 L449.9 210.8 L450.8 210.9 L451.6 210.9 L452.4 211.0 L453.2 211.0 L454.0 211.0 L454.8 211.1 L455.7 211.1 L456.5 211.2 L457.3 211.2 L458.1 211.3 L458.9 211.3 L459.7 211.4 L460.5 211.5 L461.4 211.5 L462.2 211.6 L463.0 211.7 L463.8 211.8 L464.6 211.9 L465.4 212.1 L466.3 212.2 L467.1 212.3 L467.9 212.4 L468.7 212.5 L469.5 212.6 L470.3 212.7 L471.2 212.8 L472.0 212.9 L472.8 213.1 L473.6 213.2 L474.4 213.3 L475.2 213.4 L476.1 213.5 L476.9 213.7 L477.7 213.8 L478.5 213.9 L479.3 214.0 L480.1 214.1 L481.0 214.2 L481.8 214.3 L482.6 214.4 L483.4 214.5 L484.2 214.7 L485.0 214.8 L485.8 214.9 L486.7 215.1 L487.5 215.2 L488.3 215.4 L489.1 215.6 L489.9 215.8 L490.7 216.0 L491.6 216.2 L492.4 216.4 L493.2 216.7 L494.0 217.0 L494.8 217.2 L495.6 217.5 L496.5 217.8 L497.3 218.1 L498.1 218.4 L498.9 218.6 L499.7 218.9 L500.5 219.1 L501.4 219.3 L502.2 219.5 L503.0 219.7 L503.8 219.9 L504.6 220.1 L505.4 220.3 L506.2 220.5 L507.1 220.6 L507.9 220.8 L508.7 221.0 L509.5 221.1 L510.3 221.2 L511.1 221.4 L512.0 221.5 L512.8 221.6 L513.6 221.8 L514.4 221.9 L515.2 222.0 L516.0 222.1 L516.9 222.1 L517.7 222.2 L518.5 222.3 L519.3 222.4 L520.1 222.4 L520.9 222.5 L521.8 222.5 L522.6 222.6 L523.4 222.7 L524.2 222.7 L525.0 222.8 L525.8 222.8 L526.6 222.8 L527.5 222.9 L528.3 222.9 L529.1 223.0 L529.9 223.0 L530.7 223.1 L531.5 223.1 L532.4 223.2 L533.2 223.2 L534.0 223.2 L534.8 223.3 L535.6 223.3 L536.4 223.4 L537.3 223.4 L538.1 223.5 L538.9 223.5 L539.7 223.5 L540.5 223.6 L541.3 223.6 L542.2 223.7 L543.0 223.7 L543.8 223.7 L544.6 223.8 L545.4 223.8 L546.2 223.8 L547.0 223.9 L547.9 223.9 L548.7 223.9 L549.5 224.0 L550.3 224.0 L551.1 224.0 L551.9 224.0 L552.8 224.1 L553.6 224.1 L554.4 224.1 L555.2 224.1 L556.0 224.1 L556.8 224.2 L557.7 224.2 L558.5 224.2 L559.3 224.2 L560.1 224.2 L560.9 224.3 L561.7 224.3 L562.6 224.3 L563.4 224.3 L564.2 224.3 L565.0 224.3 L565.8 224.4 L566.6 224.4 L567.4 224.4 L568.3 224.4 L569.1 224.4 L569.9 224.4 L570.7 224.5 L571.5 224.5 L572.3 224.5 L572.7 224.5" stroke="#8000ff" stroke-width="5.5" fill="none" stroke-linejoin="round"/>
<path d="M269.6 206.3 L270.4 206.3 L271.2 206.3 L272.0 206.3 L272.9 206.3 L273.7 206.3 L274.5 206.2 L275.3 206.2 L276.1 206.2 L276.9 206.1 L277.8 206.0 L278.6 205.9 L279.4 205.7 L280.2 205.5 L281.0 205.2 L281.8 204.7 L282.7 203.9 L283.5 198.9 L284.3 189.5 L285.1 182.5 L285.9 176.7 L286.7 171.0 L287.6 164.5 L288.4 155.9 L289.2 145.1 L290.0 135.9 L290.8 129.1 L291.6 123.1 L292.4 117.8 L293.3 113.2 L294.1 109.2 L294.9 105.8 L295.7 102.7 L296.5 99.4 L297.3 95.6 L298.2 91.4 L299.0 87.4 L299.8 84.2 L300.6 81.4 L301.4 78.7 L302.2 76.2 L303.1 74.5 L303.9 73.6 L304.7 73.7 L305.5 74.6 L306.3 76.0 L307.1 77.8 L308.0 80.1 L308.8 84.1 L309.6 89.3 L310.4 95.0 L311.2 100.1 L312.0 104.9 L312.8 109.6 L313.7 114.2 L314.5 118.7 L315.3 122.9 L316.1 127.0 L316.9 131.0 L317.7 134.8 L318.6 138.7 L319.4 142.5 L320.2 146.2 L321.0 149.6 L321.8 152.7 L322.6 155.6 L323.5 158.3 L324.3 160.8 L325.1 163.3 L325.9 165.5 L326.7 167.7 L327.5 169.8 L328.4 171.8 L329.2 173.6 L330.0 175.3 L330.8 176.8 L331.6 178.3 L332.4 179.6 L333.2 180.9 L334.1 182.0 L334.9 183.2 L335.7 184.3 L336.5 185.3 L337.3 186.2 L338.1 187.1 L339.0 188.1 L339.8 189.0 L340.6 190.1 L341.4 191.2 L342.2 192.2 L343.0 193.2 L343.9 194.0 L344.7 194.7 L345.5 195.3 L346.3 195.9 L347.1 196.4 L347.9 196.9 L348.8 197.4 L349.6 197.9 L350.4 198.5 L351.2 199.1 L352.0 199.6 L352.8 200.2 L353.7 200.7 L354.5 201.1 L355.3 201.4 L356.1 201.7 L356.9 202.0 L357.7 202.3 L358.5 202.5 L359.4 202.7 L360.2 202.9 L361.0 203.2 L361.8 203.4 L362.6 203.6 L363.4 203.7 L364.3 203.9 L365.1 204.1 L365.9 204.3 L366.7 204.5 L367.5 204.6 L368.3 204.8 L369.2 205.0 L370.0 205.2 L370.8 205.3 L371.6 205.5 L372.4 205.7 L373.2 205.9 L374.1 206.0 L374.9 206.2 L375.7 206.4 L376.5 206.6 L377.3 206.8 L378.1 207.0 L378.9 207.2 L379.8 207.3 L380.6 207.4 L381.4 207.5 L382.2 207.5 L383.0 207.6 L383.8 207.6 L384.7 207.6 L385.5 207.7 L386.3 207.7 L387.1 207.8 L387.9 207.8 L388.7 207.9 L389.6 208.0 L390.4 208.1 L391.2 208.2 L392.0 208.3 L392.8 208.4 L393.6 208.5 L394.5 208.6 L395.3 208.7 L396.1 208.8 L396.9 208.8 L397.7 208.9 L398.5 209.0 L399.3 209.0 L400.2 209.1 L401.0 209.2 L401.8 209.2 L402.6 209.3 L403.4 209.3 L404.2 209.4 L405.1 209.5 L405.9 209.5 L406.7 209.6 L407.5 209.7 L408.3 209.9 L409.1 210.0 L410.0 210.1 L410.8 210.3 L411.6 210.4 L412.4 210.6 L413.2 210.8 L414.0 210.9 L414.9 211.1 L415.7 211.3 L416.5 211.5 L417.3 211.7 L418.1 211.9 L418.9 212.0 L419.7 212.2 L420.6 212.4 L421.4 212.5 L422.2 212.6 L423.0 212.8 L423.8 212.9 L424.6 213.0 L425.5 213.2 L426.3 213.3 L427.1 213.4 L427.9 213.5 L428.7 213.6 L429.5 213.6 L430.4 213.7 L431.2 213.8 L432.0 213.9 L432.8 214.0 L433.6 214.0 L434.4 214.1 L435.3 214.2 L436.1 214.3 L436.9 214.4 L437.7 214.5 L438.5 214.6 L439.3 214.7 L440.1 214.8 L441.0 214.9 L441.8 214.9 L442.6 215.0 L443.4 215.1 L444.2 215.2 L445.0 215.3 L445.9 215.4 L446.7 215.4 L447.5 215.5 L448.3 215.6 L449.1 215.7 L449.9 215.7 L450.8 215.8 L451.6 215.9 L452.4 215.9 L453.2 216.0 L454.0 216.1 L454.8 216.1 L455.7 216.2 L456.5 216.2 L457.3 216.3 L458.1 216.3 L458.9 216.4 L459.7 216.4 L460.5 216.5 L461.4 216.5 L462.2 216.6 L463.0 216.6 L463.8 216.6 L464.6 216.7 L465.4 216.7 L466.3 216.7 L467.1 216.8 L467.9 216.8 L468.7 216.9 L469.5 216.9 L470.3 217.0 L471.2 217.0 L472.0 217.1 L472.8 217.1 L473.6 217.2 L474.4 217.3 L475.2 217.4 L476.1 217.5 L476.9 217.6 L477.7 217.7 L478.5 217.8 L479.3 217.9 L480.1 218.0 L481.0 218.1 L481.8 218.1 L482.6 218.2 L483.4 218.3 L484.2 218.4 L485.0 218.5 L485.8 218.6 L486.7 218.7 L487.5 218.8 L488.3 218.9 L489.1 219.0 L489.9 219.1 L490.7 219.3 L491.6 219.4 L492.4 219.6 L493.2 219.8 L494.0 220.0 L494.8 220.2 L495.6 220.4 L496.5 220.6 L497.3 220.8 L498.1 221.0 L498.9 221.2 L499.7 221.4 L500.5 221.5 L501.4 221.7 L502.2 221.9 L503.0 222.0 L503.8 222.1 L504.6 222.2 L505.4 222.3 L506.2 222.4 L507.1 222.5 L507.9 222.6 L508.7 222.7 L509.5 222.8 L510.3 222.9 L511.1 222.9 L512.0 223.0 L512.8 223.1 L513.6 223.2 L514.4 223.2 L515.2 223.3 L516.0 223.3 L516.9 223.4 L517.7 223.4 L518.5 223.5 L519.3 223.5 L520.1 223.6 L520.9 223.6 L521.8 223.7 L522.6 223.7 L523.4 223.7 L524.2 223.8 L525.0 223.8 L525.8 223.9 L526.6 223.9 L527.5 224.0 L528.3 224.0 L529.1 224.1 L529.9 224.1 L530.7 224.2 L531.5 224.2 L532.4 224.3 L533.2 224.4 L534.0 224.4 L534.8 224.5 L535.6 224.6 L536.4 224.6 L537.3 224.7 L538.1 224.7 L538.9 224.8 L539.7 224.8 L540.5 224.9 L541.3 225.0 L542.2 225.0 L543.0 225.0 L543.8 225.1 L544.6 225.1 L545.4 225.2 L546.2 225.2 L547.0 225.2 L547.9 225.2 L548.7 225.3 L549.5 225.3 L550.3 225.3 L551.1 225.3 L551.9 225.4 L552.8 225.4 L553.6 225.4 L554.4 225.4 L555.2 225.5 L556.0 225.5 L556.8 225.5 L557.7 225.5 L558.5 225.5 L559.3 225.6 L560.1 225.6 L560.9 225.6 L561.7 225.6 L562.6 225.6 L563.4 225.6 L564.2 225.7 L565.0 225.7 L565.8 225.7 L566.6 225.7 L567.4 225.7 L568.3 225.7 L569.1 225.7 L569.9 225.8 L570.7 225.8 L571.5 225.8 L572.3 225.8 L572.7 225.8" stroke="#808000" stroke-width="5.5" fill="none" stroke-linejoin="round"/>
<path d="M269.6 207.7 L270.4 207.7 L271.2 207.7 L272.0 207.7 L272.9 207.6 L273.7 207.6 L274.5 207.6 L275.3 207.6 L276.1 207.5 L276.9 207.5 L277.8 207.4 L278.6 207.3 L279.4 207.1 L280.2 206.8 L281.0 206.1 L281.8 205.0 L282.7 202.3 L283.5 197.3 L284.3 190.5 L285.1 184.2 L285.9 178.5 L286.7 172.6 L287.6 166.2 L288.4 158.2 L289.2 147.5 L290.0 137.6 L290.8 130.6 L291.6 124.4 L292.4 119.0 L293.3 114.2 L294.1 110.1 L294.9 106.6 L295.7 103.4 L296.5 100.2 L297.3 96.5 L298.2 92.3 L299.0 88.2 L299.8 84.8 L300.6 82.1 L301.4 79.3 L302.2 76.8 L303.1 75.0 L303.9 74.1 L304.7 74.2 L305.5 75.1 L306.3 76.5 L307.1 78.3 L308.0 80.6 L308.8 84.6 L309.6 89.8 L310.4 95.5 L311.2 100.6 L312.0 105.4 L312.8 110.1 L313.7 114.7 L314.5 119.2 L315.3 123.4 L316.1 127.5 L316.9 131.5 L317.7 135.3 L318.6 139.2 L319.4 143.0 L320.2 146.7 L321.0 150.1 L321.8 153.2 L322.6 156.0 L323.5 158.8 L324.3 161.3 L325.1 163.8 L325.9 166.0 L326.7 168.2 L327.5 170.3 L328.4 172.3 L329.2 174.1 L330.0 175.8 L330.8 177.3 L331.6 178.8 L332.4 180.1 L333.2 181.3 L334.1 182.5 L334.9 183.7 L335.7 184.8 L336.5 185.8 L337.3 186.7 L338.1 187.6 L339.0 188.6 L339.8 189.5 L340.6 190.6 L341.4 191.6 L342.2 192.7 L343.0 193.7 L343.9 194.5 L344.7 195.2 L345.5 195.8 L346.3 196.4 L347.1 196.9 L347.9 197.4 L348.8 197.9 L349.6 198.4 L350.4 199.0 L351.2 199.6 L352.0 200.1 L352.8 200.7 L353.7 201.2 L354.5 201.6 L355.3 201.9 L356.1 202.2 L356.9 202.5 L357.7 202.7 L358.5 203.0 L359.4 203.2 L360.2 203.4 L361.0 203.7 L361.8 203.9 L362.6 204.1 L363.4 204.2 L364.3 204.4 L365.1 204.6 L365.9 204.8 L366.7 205.0 L367.5 205.1 L368.3 205.3 L369.2 205.5 L370.0 205.7 L370.8 205.8 L371.6 206.0 L372.4 206.2 L373.2 206.4 L374.1 206.5 L374.9 206.7 L375.7 206.9 L376.5 207.1 L377.3 207.3 L378.1 207.5 L378.9 207.7 L379.8 207.8 L380.6 207.9 L381.4 208.0 L382.2 208.0 L383.0 208.1 L383.8 208.1 L384.7 208.1 L385.5 208.2 L386.3 208.2 L387.1 208.3 L387.9 208.3 L388.7 208.4 L389.6 208.5 L390.4 208.6 L391.2 208.7 L392.0 208.8 L392.8 208.9 L393.6 209.0 L394.5 209.1 L395.3 209.2 L396.1 209.3 L396.9 209.3 L397.7 209.4 L398.5 209.5 L399.3 209.5 L400.2 209.6 L401.0 209.7 L401.8 209.7 L402.6 209.8 L403.4 209.8 L404.2 209.9 L405.1 210.0 L405.9 210.0 L406.7 210.1 L407.5 210.2 L408.3 210.4 L409.1 210.5 L410.0 210.6 L410.8 210.8 L411.6 210.9 L412.4 211.1 L413.2 211.3 L414.0 211.4 L414.9 211.6 L415.7 211.8 L416.5 212.0 L417.3 212.2 L418.1 212.4 L418.9 212.5 L419.7 212.7 L420.6 212.8 L421.4 213.0 L422.2 213.1 L423.0 213.3 L423.8 213.4 L424.6 213.5 L425.5 213.7 L426.3 213.8 L427.1 213.9 L427.9 214.0 L428.7 214.1 L429.5 214.1 L430.4 214.2 L431.2 214.3 L432.0 214.4 L432.8 214.5 L433.6 214.5 L434.4 214.6 L435.3 214.7 L436.1 214.8 L436.9 214.9 L437.7 215.0 L438.5 215.1 L439.3 215.2 L440.1 215.3 L441.0 215.3 L441.8 215.4 L442.6 215.5 L443.4 215.6 L444.2 215.7 L445.0 215.8 L445.9 215.9 L446.7 215.9 L447.5 216.0 L448.3 216.1 L449.1 216.2 L449.9 216.2 L450.8 216.3 L451.6 216.4 L452.4 216.4 L453.2 216.5 L454.0 216.6 L454.8 216.6 L455.7 216.7 L456.5 216.7 L457.3 216.8 L458.1 216.8 L458.9 216.9 L459.7 216.9 L460.5 217.0 L461.4 217.0 L462.2 217.1 L463.0 217.1 L463.8 217.1 L464.6 217.2 L465.4 217.2 L466.3 217.2 L467.1 217.3 L467.9 217.3 L468.7 217.4 L469.5 217.4 L470.3 217.5 L471.2 217.5 L472.0 217.6 L472.8 217.6 L473.6 217.7 L474.4 217.8 L475.2 217.9 L476.1 218.0 L476.9 218.1 L477.7 218.2 L478.5 218.3 L479.3 218.4 L480.1 218.4 L481.0 218.5 L481.8 218.6 L482.6 218.7 L483.4 218.8 L484.2 218.9 L485.0 219.0 L485.8 219.1 L486.7 219.2 L487.5 219.3 L488.3 219.4 L489.1 219.5 L489.9 219.6 L490.7 219.8 L491.6 219.9 L492.4 220.1 L493.2 220.3 L494.0 220.5 L494.8 220.7 L495.6 220.9 L496.5 221.1 L497.3 221.3 L498.1 221.5 L498.9 221.7 L499.7 221.8 L500.5 222.0 L501.4 222.2 L502.2 222.3 L503.0 222.5 L503.8 222.6 L504.6 222.7 L505.4 222.8 L506.2 222.9 L507.1 223.0 L507.9 223.1 L508.7 223.2 L509.5 223.3 L510.3 223.4 L511.1 223.4 L512.0 223.5 L512.8 223.6 L513.6 223.6 L514.4 223.7 L515.2 223.8 L516.0 223.8 L516.9 223.9 L517.7 223.9 L518.5 224.0 L519.3 224.0 L520.1 224.1 L520.9 224.1 L521.8 224.2 L522.6 224.2 L523.4 224.2 L524.2 224.3 L525.0 224.3 L525.8 224.4 L526.6 224.4 L527.5 224.4 L528.3 224.5 L529.1 224.5 L529.9 224.5 L530.7 224.6 L531.5 224.6 L532.4 224.7 L533.2 224.7 L534.0 224.7 L534.8 224.8 L535.6 224.8 L536.4 224.8 L537.3 224.9 L538.1 224.9 L538.9 224.9 L539.7 225.0 L540.5 225.0 L541.3 225.0 L542.2 225.1 L543.0 225.1 L543.8 225.1 L544.6 225.1 L545.4 225.2 L546.2 225.2 L547.0 225.2 L547.9 225.2 L548.7 225.3 L549.5 225.3 L550.3 225.3 L551.1 225.3 L551.9 225.4 L552.8 225.4 L553.6 225.4 L554.4 225.4 L555.2 225.4 L556.0 225.5 L556.8 225.5 L557.7 225.5 L558.5 225.5 L559.3 225.5 L560.1 225.6 L560.9 225.6 L561.7 225.6 L562.6 225.6 L563.4 225.6 L564.2 225.6 L565.0 225.7 L565.8 225.7 L566.6 225.7 L567.4 225.7 L568.3 225.7 L569.1 225.7 L569.9 225.8 L570.7 225.8 L571.5 225.8 L572.3 225.8 L572.7 225.8" stroke="#000080" stroke-width="5.5" fill="none" stroke-linejoin="round"/>
</g>
<rect x="269.5" y="28.5" width="303" height="205" fill="none" stroke="#2a2a2a" stroke-width="1.05"/>
<g clip-path="url(#cb)">
<path d="M865.2 460.4 L866.2 460.4 L867.2 460.5 L868.2 460.5 L869.2 460.6 L870.2 460.7 L871.2 460.8 L872.2 460.9 L873.2 461.0 L874.2 461.2 L875.2 461.3 L876.2 461.5 L877.2 461.7 L878.2 461.9 L879.2 462.1 L880.2 462.2 L881.2 462.4 L882.2 462.7 L883.2 462.9 L884.2 463.1 L885.2 463.3 L886.2 463.5 L887.2 463.7 L888.2 463.9 L889.2 464.1 L890.2 464.3 L891.2 464.5 L892.2 464.7 L893.2 464.9 L894.2 465.1 L895.2 465.2 L896.2 465.4 L897.2 465.5 L898.2 465.7 L899.2 465.8 L900.2 465.9 L901.2 466.0 L902.2 466.1 L903.2 466.2 L904.2 466.2 L905.2 466.3 L906.2 466.3 L907.2 466.3 L908.2 466.2 L909.2 466.2 L910.2 466.1 L911.2 466.0 L912.2 465.9 L913.2 465.7 L914.2 465.6 L915.2 465.4 L916.2 465.1 L917.2 464.9 L918.2 464.6 L919.2 464.3 L920.2 463.9 L921.2 463.5 L922.2 463.1 L923.2 462.7 L924.2 462.2 L925.2 461.6 L926.2 461.1 L927.2 460.5 L928.2 459.8 L929.2 459.1 L930.2 458.4 L931.2 457.6 L932.2 456.7 L933.2 455.8 L934.2 454.9 L935.2 453.9 L936.2 452.8 L937.2 451.6 L938.2 450.4 L939.2 449.2 L940.2 447.8 L941.2 446.4 L942.2 445.0 L943.2 443.4 L944.2 441.8 L945.2 440.1 L946.2 438.3 L947.2 436.4 L948.2 434.4 L949.2 432.4 L950.2 430.2 L951.2 428.0 L952.2 425.7 L953.2 423.2 L954.2 420.7 L955.2 418.1 L956.2 415.3 L957.2 412.4 L958.2 409.1 L959.2 405.4 L960.2 401.3 L961.2 396.6 L962.2 391.3 L963.2 385.8 L964.2 380.2 L965.2 374.9 L966.2 370.0 L967.2 365.3 L968.2 360.9 L969.2 356.6 L970.2 352.5 L971.2 348.5 L972.2 344.6 L973.2 340.6 L974.2 336.6 L975.2 332.5 L976.2 328.4 L977.2 324.1 L978.2 319.8 L979.2 315.3 L980.2 310.8 L981.2 306.2 L982.2 301.5 L983.2 296.9 L984.2 292.2 L985.2 287.5 L986.2 282.9 L987.2 278.4 L988.2 273.8 L989.2 269.3 L990.2 264.8 L991.2 260.4 L992.2 256.0 L993.2 251.6 L994.2 247.3 L995.2 243.0 L996.2 238.7 L997.2 234.5 L998.2 230.3 L999.2 226.1 L1000.2 221.9 L1001.2 217.8 L1002.2 213.8 L1003.2 209.7 L1004.2 205.7 L1005.2 201.7 L1006.2 197.8 L1007.2 193.9 L1008.2 190.0 L1009.2 186.3 L1010.2 182.6 L1011.2 178.9 L1012.2 175.4 L1013.2 171.9 L1014.2 168.5 L1015.2 165.2 L1016.2 162.0 L1017.2 158.9 L1018.2 155.9 L1019.2 153.0 L1020.2 150.3 L1021.2 147.7 L1022.2 145.2 L1023.2 142.8 L1024.2 140.5 L1025.2 138.4 L1026.2 136.4 L1027.2 134.6 L1028.2 132.9 L1029.2 131.3 L1030.2 129.9 L1031.2 128.5 L1032.2 127.3 L1033.2 126.2 L1034.2 125.2 L1035.2 124.4 L1036.2 123.6 L1037.2 122.9 L1038.2 122.3 L1039.2 121.8 L1040.2 121.4 L1041.2 121.0 L1042.2 120.8 L1043.2 120.6 L1044.2 120.4 L1045.2 120.3 L1046.2 120.3 L1047.2 120.3 L1048.2 120.4 L1049.2 120.5 L1050.2 120.7 L1051.2 120.9 L1052.2 121.1 L1053.2 121.5 L1054.2 121.8 L1055.2 122.3 L1056.2 122.7 L1057.2 123.3 L1058.2 123.9 L1059.2 124.6 L1060.2 125.3 L1061.2 126.1 L1062.2 126.9 L1063.2 127.8 L1064.2 128.8 L1065.2 129.8 L1066.2 131.0 L1067.2 132.1 L1068.2 133.4 L1069.2 134.7 L1070.2 136.0 L1071.2 137.4 L1072.2 138.9 L1073.2 140.4 L1074.2 142.0 L1075.2 143.6 L1076.2 145.2 L1077.2 146.9 L1078.2 148.7 L1079.2 150.5 L1080.2 152.3 L1081.2 154.2 L1082.2 156.1 L1083.2 158.1 L1084.2 160.0 L1085.2 162.0 L1086.2 164.1 L1087.2 166.2 L1088.2 168.3 L1089.2 170.4 L1090.2 172.5 L1091.2 174.7 L1092.2 176.9 L1093.2 179.1 L1094.2 181.3 L1095.2 183.6 L1096.2 185.8 L1097.2 188.1 L1098.2 190.4 L1099.2 192.7 L1100.2 195.0 L1101.2 197.3 L1102.2 199.6 L1103.2 201.9 L1104.2 204.2 L1105.2 206.6 L1106.2 208.9 L1107.2 211.2 L1108.2 213.6 L1109.2 215.9 L1110.2 218.3 L1111.2 220.6 L1112.2 223.0 L1113.2 225.3 L1114.2 227.7 L1115.2 230.0 L1116.2 232.3 L1117.2 234.7 L1118.2 237.0 L1119.2 239.4 L1120.2 241.7 L1121.2 244.0 L1122.2 246.4 L1123.2 248.7 L1124.2 251.0 L1125.2 253.3 L1126.2 255.6 L1127.2 257.9 L1128.2 260.2 L1129.2 262.5 L1130.2 264.8 L1131.2 267.0 L1132.2 269.3 L1133.2 271.5 L1134.2 273.8 L1135.2 276.0 L1136.2 278.2 L1137.2 280.4 L1138.2 282.5 L1139.2 284.7 L1140.2 286.8 L1141.2 288.9 L1142.2 291.0 L1143.2 293.0 L1144.2 295.0 L1145.2 296.9 L1146.2 298.8 L1147.2 300.6 L1148.2 302.4 L1149.2 304.1 L1150.2 305.7 L1151.2 307.3 L1152.2 308.7 L1153.2 310.1 L1154.2 311.4 L1155.2 312.5 L1156.2 313.6 L1157.2 314.6 L1158.2 315.5 L1159.2 316.2 L1160.2 316.8 L1161.2 317.4 L1162.2 317.7 L1163.2 318.0 L1164.2 318.1 L1165.2 318.0 L1166.2 317.8 L1167.2 317.5 L1168.2 317.0 L1169.2 316.5 L1170.2 315.8 L1171.2 315.0 L1172.2 314.2 L1173.2 313.2 L1174.2 312.3 L1175.2 311.2 L1176.2 310.2 L1177.2 309.0 L1178.2 307.8 L1179.2 306.2 L1180.2 304.4 L1181.2 302.1 L1182.2 299.3 L1183.2 296.0 L1184.2 292.3 L1185.2 288.4 L1186.2 284.3 L1187.2 280.2 L1188.2 276.1 L1189.2 272.3 L1190.2 268.5 L1191.2 265.0 L1192.2 261.5 L1193.2 258.1 L1194.2 254.8 L1195.2 251.6 L1196.2 248.4 L1197.2 245.3 L1198.2 242.2 L1199.2 239.1 L1200.2 236.0 L1201.2 232.9 L1202.2 229.8 L1203.2 226.6 L1204.2 223.3 L1205.2 220.0 L1206.2 216.5 L1207.2 213.0 L1208.2 209.3 L1209.2 205.5 L1210.2 201.6 L1211.0 196.5 L1217.2 169.5 L1223.2 150.2 L1229.1 141.9 L1235.1 142.8 L1240.9 152.1 L1245.9 169.0 L1251.8 196.5 L1252.2 199.5 L1253.2 204.3 L1254.2 209.2 L1255.2 214.2 L1256.2 219.2 L1257.2 224.2 L1258.2 229.2 L1259.2 234.3 L1260.2 239.3 L1261.2 244.4 L1262.2 249.3 L1263.2 254.3 L1264.2 259.2 L1265.2 264.0 L1266.2 268.7 L1267.2 273.4 L1268.2 278.0 L1269.2 282.4 L1270.2 286.8 L1271.2 291.0 L1272.2 295.1 L1273.2 299.0 L1274.2 302.8 L1275.2 306.4 L1276.2 309.9 L1277.2 313.3 L1278.2 316.5 L1279.2 319.6 L1280.2 322.6 L1281.2 325.5 L1282.2 328.2 L1283.2 330.8 L1284.2 333.4 L1285.2 335.8 L1286.2 338.1 L1287.2 340.4 L1288.2 342.5 L1289.2 344.6 L1290.2 346.6 L1291.2 348.5 L1292.2 350.4 L1293.2 352.1 L1294.2 353.8 L1295.2 355.5 L1296.2 357.0 L1297.2 358.5 L1298.2 360.0 L1299.2 361.4 L1300.2 362.8 L1301.2 364.1 L1302.2 365.3 L1303.2 366.5 L1304.2 367.7 L1305.2 368.8 L1306.2 370.0 L1307.2 371.0 L1308.2 372.1 L1309.2 373.1 L1310.2 374.1 L1311.2 375.1 L1312.2 376.1 L1313.2 377.0 L1314.2 378.0 L1315.2 378.9 L1316.2 379.8 L1317.2 380.7 L1318.2 381.5 L1319.2 382.4 L1320.2 383.2 L1321.2 384.1 L1322.2 384.9 L1323.2 385.7 L1324.2 386.5 L1325.2 387.3 L1326.2 388.0 L1327.2 388.8 L1328.2 389.6 L1329.2 390.3 L1330.2 391.0 L1331.2 391.8 L1332.2 392.5 L1333.2 393.2 L1334.2 393.9 L1335.2 394.6 L1336.2 395.3 L1337.2 396.0 L1338.2 396.7 L1339.2 397.4 L1340.2 398.1 L1341.2 398.8 L1342.2 399.4 L1343.2 400.1 L1344.2 400.8 L1345.2 401.5 L1346.2 402.1 L1347.2 402.8 L1348.2 403.5 L1349.2 404.1 L1350.2 404.8 L1351.2 405.5 L1352.2 406.1 L1353.2 406.8 L1354.2 407.4 L1355.2 408.1 L1356.2 408.7 L1357.2 409.4 L1358.2 410.0 L1359.2 410.7 L1360.2 411.3 L1361.2 411.9 L1362.2 412.6 L1363.2 413.2 L1364.2 413.8 L1365.2 414.5 L1366.2 415.1 L1367.2 415.7 L1368.2 416.4 L1369.2 417.0 L1370.2 417.6 L1371.2 418.2 L1372.2 418.8 L1373.2 419.4 L1374.2 420.1 L1375.2 420.7 L1376.2 421.3 L1377.2 421.9 L1378.2 422.5 L1379.2 423.1 L1380.2 423.7 L1381.2 424.3 L1382.2 424.9 L1383.2 425.5 L1384.2 426.0 L1385.2 426.6 L1386.2 427.2 L1387.2 427.8 L1388.2 428.4 L1389.2 429.0 L1390.2 429.5 L1391.2 430.1 L1392.2 430.7 L1393.2 431.3 L1394.2 431.8 L1395.2 432.4 L1396.2 433.0 L1397.2 433.5 L1398.2 434.1 L1399.2 434.7 L1400.2 435.2 L1401.2 435.8 L1402.2 436.3 L1403.2 436.9 L1404.2 437.4 L1405.2 438.0 L1406.2 438.5 L1407.2 439.1 L1408.2 439.6 L1409.2 440.2 L1410.2 440.7 L1411.2 441.2 L1412.2 441.8 L1413.2 442.3 L1414.2 442.9 L1415.2 443.4 L1416.2 443.9 L1417.2 444.4 L1418.2 445.0 L1419.2 445.5 L1420.2 446.0 L1421.2 446.5 L1422.2 447.1 L1423.2 447.6 L1424.2 448.1 L1425.2 448.6 L1426.2 449.1 L1427.2 449.6 L1428.2 450.1 L1429.2 450.6 L1430.2 451.1 L1431.2 451.7 L1432.2 452.2 L1433.2 452.7 L1434.2 453.2 L1435.2 453.6 L1436.2 454.1 L1437.2 454.6 L1438.2 455.1 L1439.2 455.6 L1440.2 456.1 L1441.2 456.6 L1442.2 457.1 L1443.2 457.6 L1444.2 458.0 L1445.2 458.5 L1446.2 459.0 L1447.2 459.5 L1448.2 460.0 L1449.2 460.4 L1450.2 460.9 L1451.2 461.4 L1452.2 461.8" stroke="#000000" stroke-width="4.9" fill="none" stroke-linejoin="round"/>
<path d="M865.2 455.5 L866.2 455.5 L867.2 455.4 L868.2 455.4 L869.2 455.3 L870.2 455.3 L871.2 455.3 L872.2 455.3 L873.2 455.3 L874.2 455.3 L875.2 455.3 L876.2 455.3 L877.2 455.4 L878.2 455.4 L879.2 455.4 L880.2 455.4 L881.2 455.5 L882.2 455.5 L883.2 455.5 L884.2 455.5 L885.2 455.6 L886.2 455.6 L887.2 455.6 L888.2 455.6 L889.2 455.6 L890.2 455.6 L891.2 455.6 L892.2 455.6 L893.2 455.5 L894.2 455.5 L895.2 455.5 L896.2 455.4 L897.2 455.3 L898.2 455.3 L899.2 455.2 L900.2 455.1 L901.2 454.9 L902.2 454.8 L903.2 454.6 L904.2 454.5 L905.2 454.3 L906.2 454.1 L907.2 453.9 L908.2 453.6 L909.2 453.3 L910.2 453.1 L911.2 452.7 L912.2 452.4 L913.2 452.1 L914.2 451.7 L915.2 451.3 L916.2 450.9 L917.2 450.4 L918.2 449.9 L919.2 449.4 L920.2 448.9 L921.2 448.3 L922.2 447.7 L923.2 447.1 L924.2 446.4 L925.2 445.7 L926.2 445.0 L927.2 444.2 L928.2 443.4 L929.2 442.6 L930.2 441.7 L931.2 440.8 L932.2 439.9 L933.2 438.9 L934.2 437.9 L935.2 436.8 L936.2 435.7 L937.2 434.6 L938.2 433.4 L939.2 432.1 L940.2 430.9 L941.2 429.6 L942.2 428.2 L943.2 426.8 L944.2 425.3 L945.2 423.8 L946.2 422.3 L947.2 420.7 L948.2 419.0 L949.2 417.3 L950.2 415.6 L951.2 413.8 L952.2 411.9 L953.2 410.0 L954.2 408.0 L955.2 406.0 L956.2 403.9 L957.2 401.8 L958.2 399.6 L959.2 397.4 L960.2 395.1 L961.2 392.7 L962.2 390.3 L963.2 387.8 L964.2 385.3 L965.2 382.6 L966.2 380.0 L967.2 377.2 L968.2 374.4 L969.2 371.6 L970.2 368.6 L971.2 365.7 L972.2 362.6 L973.2 359.5 L974.2 356.4 L975.2 353.3 L976.2 350.0 L977.2 346.8 L978.2 343.5 L979.2 340.2 L980.2 336.9 L981.2 333.6 L982.2 330.2 L983.2 326.9 L984.2 323.5 L985.2 320.1 L986.2 316.7 L987.2 313.3 L988.2 310.0 L989.2 306.6 L990.2 303.3 L991.2 299.9 L992.2 296.6 L993.2 293.3 L994.2 290.1 L995.2 286.8 L996.2 283.6 L997.2 280.5 L998.2 277.4 L999.2 274.3 L1000.2 271.3 L1001.2 268.3 L1002.2 265.4 L1003.2 262.5 L1004.2 259.7 L1005.2 257.0 L1006.2 254.3 L1007.2 251.7 L1008.2 249.2 L1009.2 246.7 L1010.2 244.3 L1011.2 242.0 L1012.2 239.8 L1013.2 237.6 L1014.2 235.6 L1015.2 233.7 L1016.2 231.9 L1017.2 230.2 L1018.2 228.7 L1019.2 227.2 L1020.2 225.9 L1021.2 224.6 L1022.2 223.5 L1023.2 222.5 L1024.2 221.5 L1025.2 220.7 L1026.2 219.9 L1027.2 219.3 L1028.2 218.7 L1029.2 218.1 L1030.2 217.7 L1031.2 217.3 L1032.2 216.9 L1033.2 216.7 L1034.2 216.4 L1035.2 216.3 L1036.2 216.2 L1037.2 216.1 L1038.2 216.0 L1039.2 216.0 L1040.2 216.0 L1041.2 216.1 L1042.2 216.2 L1043.2 216.3 L1044.2 216.4 L1045.2 216.6 L1046.2 216.8 L1047.2 217.0 L1048.2 217.3 L1049.2 217.6 L1050.2 217.9 L1051.2 218.3 L1052.2 218.7 L1053.2 219.1 L1054.2 219.6 L1055.2 220.1 L1056.2 220.7 L1057.2 221.3 L1058.2 221.9 L1059.2 222.6 L1060.2 223.3 L1061.2 224.1 L1062.2 224.9 L1063.2 225.8 L1064.2 226.7 L1065.2 227.7 L1066.2 228.7 L1067.2 229.8 L1068.2 230.9 L1069.2 232.0 L1070.2 233.3 L1071.2 234.5 L1072.2 235.9 L1073.2 237.3 L1074.2 238.7 L1075.2 240.2 L1076.2 241.7 L1077.2 243.3 L1078.2 244.9 L1079.2 246.6 L1080.2 248.3 L1081.2 250.0 L1082.2 251.7 L1083.2 253.5 L1084.2 255.4 L1085.2 257.2 L1086.2 259.1 L1087.2 260.9 L1088.2 262.8 L1089.2 264.8 L1090.2 266.7 L1091.2 268.6 L1092.2 270.6 L1093.2 272.5 L1094.2 274.5 L1095.2 276.4 L1096.2 278.4 L1097.2 280.3 L1098.2 282.3 L1099.2 284.2 L1100.2 286.1 L1101.2 288.0 L1102.2 289.9 L1103.2 291.7 L1104.2 293.6 L1105.2 295.4 L1106.2 297.2 L1107.2 298.9 L1108.2 300.6 L1109.2 302.3 L1110.2 304.0 L1111.2 305.6 L1112.2 307.2 L1113.2 308.7 L1114.2 310.2 L1115.2 311.6 L1116.2 313.0 L1117.2 314.4 L1118.2 315.7 L1119.2 317.0 L1120.2 318.3 L1121.2 319.5 L1122.2 320.7 L1123.2 321.9 L1124.2 323.0 L1125.2 324.2 L1126.2 325.2 L1127.2 326.3 L1128.2 327.3 L1129.2 328.3 L1130.2 329.2 L1131.2 330.2 L1132.2 331.1 L1133.2 332.0 L1134.2 332.9 L1135.2 333.7 L1136.2 334.5 L1137.2 335.3 L1138.2 336.1 L1139.2 336.9 L1140.2 337.6 L1141.2 338.4 L1142.2 339.1 L1143.2 339.8 L1144.2 340.5 L1145.2 341.1 L1146.2 341.8 L1147.2 342.4 L1148.2 343.0 L1149.2 343.6 L1150.2 344.1 L1151.2 344.6 L1152.2 345.1 L1153.2 345.5 L1154.2 345.9 L1155.2 346.3 L1156.2 346.6 L1157.2 346.8 L1158.2 347.0 L1159.2 347.2 L1160.2 347.3 L1161.2 347.3 L1162.2 347.3 L1163.2 347.2 L1164.2 347.1 L1165.2 346.9 L1166.2 346.6 L1167.2 346.2 L1168.2 345.8 L1169.2 345.2 L1170.2 344.6 L1171.2 344.0 L1172.2 343.2 L1173.2 342.3 L1174.2 341.4 L1175.2 340.3 L1176.2 339.2 L1177.2 338.0 L1178.2 336.6 L1179.2 335.2 L1180.2 333.7 L1181.2 332.1 L1182.2 330.4 L1183.2 328.7 L1184.2 326.9 L1185.2 325.1 L1186.2 323.1 L1187.2 321.2 L1188.2 319.2 L1189.2 317.1 L1190.2 315.0 L1191.2 312.9 L1192.2 310.7 L1193.2 308.5 L1194.2 306.3 L1195.2 304.0 L1196.2 301.8 L1197.2 299.6 L1198.2 297.3 L1199.2 295.1 L1200.2 292.8 L1201.2 290.6 L1202.2 288.4 L1203.2 286.2 L1204.2 284.0 L1205.2 281.8 L1206.2 279.7 L1207.2 277.7 L1208.2 275.6 L1209.2 273.7 L1210.2 271.7 L1211.2 269.9 L1212.2 268.1 L1213.2 266.4 L1214.2 264.9 L1215.2 263.4 L1216.2 262.0 L1217.2 260.8 L1218.2 259.6 L1219.2 258.7 L1220.2 257.8 L1221.2 257.2 L1222.2 256.7 L1223.2 256.3 L1224.2 256.1 L1225.2 256.1 L1226.2 256.1 L1227.2 256.3 L1228.2 256.5 L1229.2 256.8 L1230.2 257.1 L1231.2 257.5 L1232.2 257.9 L1233.2 258.4 L1234.2 258.9 L1235.2 259.6 L1236.2 260.6 L1237.2 261.7 L1238.2 263.1 L1239.2 264.8 L1240.2 266.9 L1241.2 269.4 L1242.2 272.2 L1243.2 275.2 L1244.2 278.5 L1245.2 281.9 L1246.2 285.5 L1247.2 289.1 L1248.2 292.7 L1249.2 296.2 L1250.2 299.7 L1251.2 303.2 L1252.2 306.6 L1253.2 310.0 L1254.2 313.3 L1255.2 316.6 L1256.2 319.8 L1257.2 322.9 L1258.2 326.0 L1259.2 329.0 L1260.2 332.0 L1261.2 334.9 L1262.2 337.7 L1263.2 340.5 L1264.2 343.2 L1265.2 345.8 L1266.2 348.3 L1267.2 350.8 L1268.2 353.1 L1269.2 355.4 L1270.2 357.6 L1271.2 359.8 L1272.2 361.8 L1273.2 363.7 L1274.2 365.6 L1275.2 367.4 L1276.2 369.1 L1277.2 370.7 L1278.2 372.3 L1279.2 373.8 L1280.2 375.2 L1281.2 376.6 L1282.2 377.9 L1283.2 379.1 L1284.2 380.3 L1285.2 381.4 L1286.2 382.5 L1287.2 383.5 L1288.2 384.5 L1289.2 385.5 L1290.2 386.4 L1291.2 387.2 L1292.2 388.0 L1293.2 388.8 L1294.2 389.6 L1295.2 390.3 L1296.2 391.0 L1297.2 391.7 L1298.2 392.4 L1299.2 393.1 L1300.2 393.7 L1301.2 394.3 L1302.2 394.9 L1303.2 395.5 L1304.2 396.1 L1305.2 396.7 L1306.2 397.3 L1307.2 397.8 L1308.2 398.4 L1309.2 398.9 L1310.2 399.5 L1311.2 400.0 L1312.2 400.5 L1313.2 401.0 L1314.2 401.6 L1315.2 402.1 L1316.2 402.6 L1317.2 403.0 L1318.2 403.5 L1319.2 404.0 L1320.2 404.5 L1321.2 405.0 L1322.2 405.5 L1323.2 405.9 L1324.2 406.4 L1325.2 406.9 L1326.2 407.4 L1327.2 407.8 L1328.2 408.3 L1329.2 408.8 L1330.2 409.3 L1331.2 409.7 L1332.2 410.2 L1333.2 410.7 L1334.2 411.2 L1335.2 411.7 L1336.2 412.1 L1337.2 412.6 L1338.2 413.1 L1339.2 413.6 L1340.2 414.0 L1341.2 414.5 L1342.2 415.0 L1343.2 415.5 L1344.2 415.9 L1345.2 416.4 L1346.2 416.9 L1347.2 417.4 L1348.2 417.9 L1349.2 418.3 L1350.2 418.8 L1351.2 419.3 L1352.2 419.8 L1353.2 420.2 L1354.2 420.7 L1355.2 421.2 L1356.2 421.6 L1357.2 422.1 L1358.2 422.6 L1359.2 423.0 L1360.2 423.5 L1361.2 424.0 L1362.2 424.4 L1363.2 424.9 L1364.2 425.4 L1365.2 425.8 L1366.2 426.3 L1367.2 426.8 L1368.2 427.2 L1369.2 427.7 L1370.2 428.1 L1371.2 428.6 L1372.2 429.0 L1373.2 429.5 L1374.2 429.9 L1375.2 430.4 L1376.2 430.8 L1377.2 431.3 L1378.2 431.7 L1379.2 432.2 L1380.2 432.6 L1381.2 433.0 L1382.2 433.5 L1383.2 433.9 L1384.2 434.3 L1385.2 434.8 L1386.2 435.2 L1387.2 435.6 L1388.2 436.0 L1389.2 436.4 L1390.2 436.9 L1391.2 437.3 L1392.2 437.7 L1393.2 438.1 L1394.2 438.5 L1395.2 438.9 L1396.2 439.3 L1397.2 439.7 L1398.2 440.1 L1399.2 440.5 L1400.2 440.9 L1401.2 441.3 L1402.2 441.7 L1403.2 442.1 L1404.2 442.4 L1405.2 442.8 L1406.2 443.2 L1407.2 443.6 L1408.2 443.9 L1409.2 444.3 L1410.2 444.7 L1411.2 445.0 L1412.2 445.4 L1413.2 445.7 L1414.2 446.1 L1415.2 446.4 L1416.2 446.8 L1417.2 447.1 L1418.2 447.4 L1419.2 447.8 L1420.2 448.1 L1421.2 448.4 L1422.2 448.7 L1423.2 449.0 L1424.2 449.4 L1425.2 449.7 L1426.2 450.0 L1427.2 450.3 L1428.2 450.6 L1429.2 450.9 L1430.2 451.1 L1431.2 451.4 L1432.2 451.7 L1433.2 452.0 L1434.2 452.2 L1435.2 452.5 L1436.2 452.8 L1437.2 453.0 L1438.2 453.3 L1439.2 453.5 L1440.2 453.8 L1441.2 454.0 L1442.2 454.3 L1443.2 454.5 L1444.2 454.7 L1445.2 454.9 L1446.2 455.1 L1447.2 455.3 L1448.2 455.6 L1449.2 455.8 L1450.2 455.9 L1451.2 456.1 L1452.2 456.3" stroke="#ff00ff" stroke-width="4.9" fill="none" stroke-linejoin="round"/>
<path d="M865.2 465.1 L866.2 464.9 L867.2 464.7 L868.2 464.5 L869.2 464.3 L870.2 464.2 L871.2 464.1 L872.2 464.0 L873.2 463.9 L874.2 463.9 L875.2 463.9 L876.2 463.9 L877.2 463.9 L878.2 463.9 L879.2 463.9 L880.2 464.0 L881.2 464.0 L882.2 464.1 L883.2 464.2 L884.2 464.3 L885.2 464.4 L886.2 464.5 L887.2 464.6 L888.2 464.7 L889.2 464.8 L890.2 464.9 L891.2 465.0 L892.2 465.2 L893.2 465.3 L894.2 465.4 L895.2 465.5 L896.2 465.6 L897.2 465.7 L898.2 465.7 L899.2 465.8 L900.2 465.9 L901.2 465.9 L902.2 466.0 L903.2 466.0 L904.2 466.0 L905.2 466.0 L906.2 466.0 L907.2 465.9 L908.2 465.9 L909.2 465.8 L910.2 465.7 L911.2 465.5 L912.2 465.4 L913.2 465.2 L914.2 465.0 L915.2 464.8 L916.2 464.5 L917.2 464.2 L918.2 463.9 L919.2 463.5 L920.2 463.1 L921.2 462.7 L922.2 462.2 L923.2 461.7 L924.2 461.2 L925.2 460.6 L926.2 460.0 L927.2 459.4 L928.2 458.6 L929.2 457.9 L930.2 457.1 L931.2 456.3 L932.2 455.4 L933.2 454.4 L934.2 453.5 L935.2 452.4 L936.2 451.3 L937.2 450.2 L938.2 449.0 L939.2 447.7 L940.2 446.4 L941.2 445.0 L942.2 443.6 L943.2 442.1 L944.2 440.6 L945.2 439.0 L946.2 437.3 L947.2 435.5 L948.2 433.7 L949.2 431.9 L950.2 429.9 L951.2 427.9 L952.2 425.8 L953.2 423.6 L954.2 421.4 L955.2 419.1 L956.2 416.7 L957.2 414.3 L958.2 411.7 L959.2 409.1 L960.2 406.4 L961.2 403.6 L962.2 400.8 L963.2 397.8 L964.2 394.8 L965.2 391.7 L966.2 388.5 L967.2 385.2 L968.2 381.8 L969.2 378.3 L970.2 374.8 L971.2 371.2 L972.2 367.5 L973.2 363.7 L974.2 359.9 L975.2 356.0 L976.2 352.1 L977.2 348.1 L978.2 344.1 L979.2 340.0 L980.2 336.0 L981.2 331.9 L982.2 327.8 L983.2 323.6 L984.2 319.5 L985.2 315.4 L986.2 311.2 L987.2 307.1 L988.2 303.0 L989.2 298.9 L990.2 294.8 L991.2 290.8 L992.2 286.8 L993.2 282.8 L994.2 278.9 L995.2 275.0 L996.2 271.2 L997.2 267.5 L998.2 263.8 L999.2 260.2 L1000.2 256.7 L1001.2 253.2 L1002.2 249.9 L1003.2 246.6 L1004.2 243.5 L1005.2 240.4 L1006.2 237.5 L1007.2 234.7 L1008.2 232.0 L1009.2 229.4 L1010.2 226.9 L1011.2 224.5 L1012.2 222.2 L1013.2 220.1 L1014.2 218.0 L1015.2 216.1 L1016.2 214.2 L1017.2 212.4 L1018.2 210.8 L1019.2 209.2 L1020.2 207.7 L1021.2 206.3 L1022.2 205.0 L1023.2 203.8 L1024.2 202.7 L1025.2 201.7 L1026.2 200.7 L1027.2 199.9 L1028.2 199.1 L1029.2 198.3 L1030.2 197.7 L1031.2 197.1 L1032.2 196.6 L1033.2 196.2 L1034.2 195.9 L1035.2 195.6 L1036.2 195.4 L1037.2 195.2 L1038.2 195.1 L1039.2 195.1 L1040.2 195.1 L1041.2 195.2 L1042.2 195.3 L1043.2 195.5 L1044.2 195.8 L1045.2 196.1 L1046.2 196.4 L1047.2 196.8 L1048.2 197.2 L1049.2 197.7 L1050.2 198.2 L1051.2 198.8 L1052.2 199.4 L1053.2 200.0 L1054.2 200.7 L1055.2 201.4 L1056.2 202.2 L1057.2 202.9 L1058.2 203.8 L1059.2 204.6 L1060.2 205.5 L1061.2 206.5 L1062.2 207.4 L1063.2 208.4 L1064.2 209.5 L1065.2 210.6 L1066.2 211.7 L1067.2 212.9 L1068.2 214.1 L1069.2 215.3 L1070.2 216.6 L1071.2 217.9 L1072.2 219.2 L1073.2 220.6 L1074.2 222.0 L1075.2 223.5 L1076.2 225.0 L1077.2 226.5 L1078.2 228.1 L1079.2 229.7 L1080.2 231.4 L1081.2 233.1 L1082.2 234.8 L1083.2 236.6 L1084.2 238.4 L1085.2 240.2 L1086.2 242.1 L1087.2 244.0 L1088.2 246.0 L1089.2 248.0 L1090.2 250.0 L1091.2 252.1 L1092.2 254.2 L1093.2 256.3 L1094.2 258.5 L1095.2 260.6 L1096.2 262.8 L1097.2 265.1 L1098.2 267.3 L1099.2 269.6 L1100.2 271.8 L1101.2 274.1 L1102.2 276.4 L1103.2 278.7 L1104.2 281.0 L1105.2 283.3 L1106.2 285.6 L1107.2 287.9 L1108.2 290.2 L1109.2 292.5 L1110.2 294.8 L1111.2 297.0 L1112.2 299.3 L1113.2 301.5 L1114.2 303.7 L1115.2 305.9 L1116.2 308.1 L1117.2 310.3 L1118.2 312.4 L1119.2 314.5 L1120.2 316.5 L1121.2 318.5 L1122.2 320.5 L1123.2 322.5 L1124.2 324.4 L1125.2 326.2 L1126.2 328.1 L1127.2 329.8 L1128.2 331.6 L1129.2 333.3 L1130.2 334.9 L1131.2 336.5 L1132.2 338.1 L1133.2 339.6 L1134.2 341.1 L1135.2 342.5 L1136.2 343.8 L1137.2 345.1 L1138.2 346.3 L1139.2 347.5 L1140.2 348.7 L1141.2 349.7 L1142.2 350.7 L1143.2 351.7 L1144.2 352.5 L1145.2 353.4 L1146.2 354.1 L1147.2 354.8 L1148.2 355.4 L1149.2 356.0 L1150.2 356.6 L1151.2 357.0 L1152.2 357.5 L1153.2 357.9 L1154.2 358.2 L1155.2 358.5 L1156.2 358.7 L1157.2 358.9 L1158.2 359.1 L1159.2 359.2 L1160.2 359.3 L1161.2 359.3 L1162.2 359.3 L1163.2 359.3 L1164.2 359.2 L1165.2 359.1 L1166.2 358.9 L1167.2 358.7 L1168.2 358.5 L1169.2 358.2 L1170.2 357.9 L1171.2 357.6 L1172.2 357.2 L1173.2 356.8 L1174.2 356.4 L1175.2 355.9 L1176.2 355.4 L1177.2 354.8 L1178.2 354.3 L1179.2 353.7 L1180.2 353.0 L1181.2 352.3 L1182.2 351.6 L1183.2 350.9 L1184.2 350.1 L1185.2 349.3 L1186.2 348.5 L1187.2 347.6 L1188.2 346.7 L1189.2 345.8 L1190.2 344.9 L1191.2 343.9 L1192.2 342.9 L1193.2 341.9 L1194.2 340.9 L1195.2 339.9 L1196.2 338.9 L1197.2 337.9 L1198.2 336.9 L1199.2 335.9 L1200.2 334.9 L1201.2 333.9 L1202.2 332.9 L1203.2 332.0 L1204.2 331.1 L1205.2 330.2 L1206.2 329.3 L1207.2 328.5 L1208.2 327.7 L1209.2 327.0 L1210.2 326.3 L1211.2 325.7 L1212.2 325.1 L1213.2 324.5 L1214.2 324.1 L1215.2 323.6 L1216.2 323.3 L1217.2 323.0 L1218.2 322.7 L1219.2 322.6 L1220.2 322.4 L1221.2 322.4 L1222.2 322.4 L1223.2 322.5 L1224.2 322.6 L1225.2 322.8 L1226.2 323.1 L1227.2 323.5 L1228.2 323.9 L1229.2 324.5 L1230.2 325.0 L1231.2 325.7 L1232.2 326.5 L1233.2 327.3 L1234.2 328.2 L1235.2 329.2 L1236.2 330.3 L1237.2 331.4 L1238.2 332.7 L1239.2 334.0 L1240.2 335.4 L1241.2 336.9 L1242.2 338.4 L1243.2 340.1 L1244.2 341.7 L1245.2 343.5 L1246.2 345.2 L1247.2 347.1 L1248.2 348.9 L1249.2 350.8 L1250.2 352.7 L1251.2 354.7 L1252.2 356.7 L1253.2 358.7 L1254.2 360.7 L1255.2 362.7 L1256.2 364.7 L1257.2 366.7 L1258.2 368.7 L1259.2 370.7 L1260.2 372.6 L1261.2 374.6 L1262.2 376.4 L1263.2 378.3 L1264.2 380.1 L1265.2 381.9 L1266.2 383.6 L1267.2 385.3 L1268.2 386.9 L1269.2 388.4 L1270.2 389.9 L1271.2 391.3 L1272.2 392.6 L1273.2 393.8 L1274.2 395.0 L1275.2 396.1 L1276.2 397.1 L1277.2 398.1 L1278.2 399.1 L1279.2 400.0 L1280.2 400.8 L1281.2 401.6 L1282.2 402.4 L1283.2 403.1 L1284.2 403.9 L1285.2 404.6 L1286.2 405.2 L1287.2 405.9 L1288.2 406.6 L1289.2 407.2 L1290.2 407.8 L1291.2 408.4 L1292.2 409.0 L1293.2 409.6 L1294.2 410.2 L1295.2 410.7 L1296.2 411.3 L1297.2 411.8 L1298.2 412.4 L1299.2 412.9 L1300.2 413.4 L1301.2 413.9 L1302.2 414.4 L1303.2 414.9 L1304.2 415.4 L1305.2 415.9 L1306.2 416.3 L1307.2 416.8 L1308.2 417.3 L1309.2 417.7 L1310.2 418.1 L1311.2 418.6 L1312.2 419.0 L1313.2 419.5 L1314.2 419.9 L1315.2 420.3 L1316.2 420.7 L1317.2 421.1 L1318.2 421.6 L1319.2 422.0 L1320.2 422.4 L1321.2 422.8 L1322.2 423.2 L1323.2 423.6 L1324.2 424.0 L1325.2 424.4 L1326.2 424.8 L1327.2 425.3 L1328.2 425.7 L1329.2 426.1 L1330.2 426.5 L1331.2 426.9 L1332.2 427.3 L1333.2 427.8 L1334.2 428.2 L1335.2 428.6 L1336.2 429.0 L1337.2 429.4 L1338.2 429.9 L1339.2 430.3 L1340.2 430.7 L1341.2 431.1 L1342.2 431.6 L1343.2 432.0 L1344.2 432.4 L1345.2 432.8 L1346.2 433.3 L1347.2 433.7 L1348.2 434.1 L1349.2 434.6 L1350.2 435.0 L1351.2 435.4 L1352.2 435.8 L1353.2 436.3 L1354.2 436.7 L1355.2 437.1 L1356.2 437.5 L1357.2 438.0 L1358.2 438.4 L1359.2 438.8 L1360.2 439.2 L1361.2 439.6 L1362.2 440.1 L1363.2 440.5 L1364.2 440.9 L1365.2 441.3 L1366.2 441.7 L1367.2 442.1 L1368.2 442.5 L1369.2 442.9 L1370.2 443.4 L1371.2 443.8 L1372.2 444.2 L1373.2 444.6 L1374.2 445.0 L1375.2 445.4 L1376.2 445.8 L1377.2 446.2 L1378.2 446.5 L1379.2 446.9 L1380.2 447.3 L1381.2 447.7 L1382.2 448.1 L1383.2 448.5 L1384.2 448.8 L1385.2 449.2 L1386.2 449.6 L1387.2 450.0 L1388.2 450.3 L1389.2 450.7 L1390.2 451.0 L1391.2 451.4 L1392.2 451.7 L1393.2 452.1 L1394.2 452.4 L1395.2 452.8 L1396.2 453.1 L1397.2 453.5 L1398.2 453.8 L1399.2 454.1 L1400.2 454.4 L1401.2 454.8 L1402.2 455.1 L1403.2 455.4 L1404.2 455.7 L1405.2 456.0 L1406.2 456.3 L1407.2 456.6 L1408.2 456.9 L1409.2 457.2 L1410.2 457.5 L1411.2 457.7 L1412.2 458.0 L1413.2 458.3 L1414.2 458.5 L1415.2 458.8 L1416.2 459.0 L1417.2 459.3 L1418.2 459.5 L1419.2 459.8 L1420.2 460.0 L1421.2 460.2 L1422.2 460.5 L1423.2 460.7 L1424.2 460.9 L1425.2 461.1 L1426.2 461.3 L1427.2 461.5 L1428.2 461.7 L1429.2 461.8 L1430.2 462.0 L1431.2 462.2 L1432.2 462.4 L1433.2 462.5 L1434.2 462.7 L1435.2 462.8 L1436.2 462.9 L1437.2 463.1 L1438.2 463.2 L1439.2 463.3 L1440.2 463.4 L1441.2 463.5 L1442.2 463.6 L1443.2 463.7 L1444.2 463.8 L1445.2 463.9 L1446.2 464.0 L1447.2 464.0 L1448.2 464.1 L1449.2 464.1 L1450.2 464.2 L1451.2 464.2 L1452.2 464.2" stroke="#0000ff" stroke-width="4.9" fill="none" stroke-linejoin="round"/>
<path d="M865.2 466.8 L866.2 466.7 L867.2 466.5 L868.2 466.4 L869.2 466.3 L870.2 466.2 L871.2 466.1 L872.2 466.1 L873.2 466.0 L874.2 466.0 L875.2 466.0 L876.2 466.0 L877.2 466.1 L878.2 466.1 L879.2 466.1 L880.2 466.2 L881.2 466.2 L882.2 466.3 L883.2 466.4 L884.2 466.5 L885.2 466.6 L886.2 466.6 L887.2 466.7 L888.2 466.8 L889.2 466.9 L890.2 467.0 L891.2 467.1 L892.2 467.2 L893.2 467.2 L894.2 467.3 L895.2 467.4 L896.2 467.5 L897.2 467.5 L898.2 467.6 L899.2 467.6 L900.2 467.6 L901.2 467.6 L902.2 467.6 L903.2 467.6 L904.2 467.6 L905.2 467.5 L906.2 467.5 L907.2 467.4 L908.2 467.3 L909.2 467.1 L910.2 467.0 L911.2 466.8 L912.2 466.6 L913.2 466.4 L914.2 466.2 L915.2 465.9 L916.2 465.6 L917.2 465.3 L918.2 464.9 L919.2 464.6 L920.2 464.1 L921.2 463.7 L922.2 463.2 L923.2 462.7 L924.2 462.2 L925.2 461.6 L926.2 460.9 L927.2 460.3 L928.2 459.6 L929.2 458.8 L930.2 458.0 L931.2 457.2 L932.2 456.3 L933.2 455.4 L934.2 454.4 L935.2 453.4 L936.2 452.4 L937.2 451.3 L938.2 450.1 L939.2 448.9 L940.2 447.6 L941.2 446.3 L942.2 444.9 L943.2 443.5 L944.2 442.0 L945.2 440.5 L946.2 438.9 L947.2 437.2 L948.2 435.5 L949.2 433.7 L950.2 431.9 L951.2 430.0 L952.2 428.0 L953.2 426.0 L954.2 423.9 L955.2 421.7 L956.2 419.5 L957.2 417.2 L958.2 414.8 L959.2 412.4 L960.2 409.8 L961.2 407.3 L962.2 404.6 L963.2 401.8 L964.2 399.0 L965.2 396.1 L966.2 393.2 L967.2 390.1 L968.2 387.1 L969.2 383.9 L970.2 380.7 L971.2 377.5 L972.2 374.2 L973.2 370.8 L974.2 367.4 L975.2 364.0 L976.2 360.5 L977.2 357.0 L978.2 353.5 L979.2 350.0 L980.2 346.4 L981.2 342.8 L982.2 339.2 L983.2 335.6 L984.2 332.0 L985.2 328.3 L986.2 324.7 L987.2 321.1 L988.2 317.5 L989.2 313.9 L990.2 310.3 L991.2 306.7 L992.2 303.1 L993.2 299.6 L994.2 296.1 L995.2 292.6 L996.2 289.2 L997.2 285.9 L998.2 282.6 L999.2 279.4 L1000.2 276.3 L1001.2 273.2 L1002.2 270.3 L1003.2 267.4 L1004.2 264.7 L1005.2 262.0 L1006.2 259.5 L1007.2 257.1 L1008.2 254.8 L1009.2 252.6 L1010.2 250.5 L1011.2 248.5 L1012.2 246.6 L1013.2 244.8 L1014.2 243.1 L1015.2 241.5 L1016.2 240.0 L1017.2 238.5 L1018.2 237.2 L1019.2 235.9 L1020.2 234.6 L1021.2 233.5 L1022.2 232.4 L1023.2 231.5 L1024.2 230.5 L1025.2 229.7 L1026.2 228.9 L1027.2 228.2 L1028.2 227.5 L1029.2 226.9 L1030.2 226.3 L1031.2 225.9 L1032.2 225.4 L1033.2 225.0 L1034.2 224.7 L1035.2 224.4 L1036.2 224.2 L1037.2 224.0 L1038.2 223.8 L1039.2 223.7 L1040.2 223.7 L1041.2 223.6 L1042.2 223.6 L1043.2 223.7 L1044.2 223.7 L1045.2 223.8 L1046.2 223.9 L1047.2 224.1 L1048.2 224.3 L1049.2 224.5 L1050.2 224.7 L1051.2 224.9 L1052.2 225.2 L1053.2 225.6 L1054.2 225.9 L1055.2 226.3 L1056.2 226.8 L1057.2 227.2 L1058.2 227.8 L1059.2 228.3 L1060.2 228.9 L1061.2 229.5 L1062.2 230.2 L1063.2 231.0 L1064.2 231.8 L1065.2 232.6 L1066.2 233.5 L1067.2 234.4 L1068.2 235.4 L1069.2 236.4 L1070.2 237.5 L1071.2 238.7 L1072.2 239.9 L1073.2 241.2 L1074.2 242.5 L1075.2 243.9 L1076.2 245.3 L1077.2 246.8 L1078.2 248.4 L1079.2 249.9 L1080.2 251.6 L1081.2 253.3 L1082.2 255.0 L1083.2 256.7 L1084.2 258.5 L1085.2 260.3 L1086.2 262.2 L1087.2 264.1 L1088.2 266.0 L1089.2 268.0 L1090.2 269.9 L1091.2 271.9 L1092.2 274.0 L1093.2 276.0 L1094.2 278.0 L1095.2 280.1 L1096.2 282.2 L1097.2 284.3 L1098.2 286.4 L1099.2 288.5 L1100.2 290.6 L1101.2 292.7 L1102.2 294.9 L1103.2 297.0 L1104.2 299.1 L1105.2 301.2 L1106.2 303.3 L1107.2 305.4 L1108.2 307.5 L1109.2 309.6 L1110.2 311.6 L1111.2 313.7 L1112.2 315.7 L1113.2 317.7 L1114.2 319.7 L1115.2 321.6 L1116.2 323.5 L1117.2 325.4 L1118.2 327.3 L1119.2 329.1 L1120.2 330.9 L1121.2 332.7 L1122.2 334.4 L1123.2 336.1 L1124.2 337.7 L1125.2 339.3 L1126.2 340.9 L1127.2 342.4 L1128.2 343.8 L1129.2 345.2 L1130.2 346.6 L1131.2 347.9 L1132.2 349.1 L1133.2 350.2 L1134.2 351.3 L1135.2 352.4 L1136.2 353.4 L1137.2 354.3 L1138.2 355.1 L1139.2 355.9 L1140.2 356.6 L1141.2 357.3 L1142.2 357.9 L1143.2 358.5 L1144.2 359.0 L1145.2 359.5 L1146.2 359.9 L1147.2 360.3 L1148.2 360.6 L1149.2 361.0 L1150.2 361.2 L1151.2 361.5 L1152.2 361.7 L1153.2 361.9 L1154.2 362.0 L1155.2 362.2 L1156.2 362.3 L1157.2 362.4 L1158.2 362.5 L1159.2 362.6 L1160.2 362.6 L1161.2 362.7 L1162.2 362.7 L1163.2 362.7 L1164.2 362.7 L1165.2 362.7 L1166.2 362.6 L1167.2 362.5 L1168.2 362.4 L1169.2 362.3 L1170.2 362.1 L1171.2 361.9 L1172.2 361.7 L1173.2 361.5 L1174.2 361.2 L1175.2 360.9 L1176.2 360.6 L1177.2 360.2 L1178.2 359.8 L1179.2 359.4 L1180.2 359.0 L1181.2 358.6 L1182.2 358.1 L1183.2 357.7 L1184.2 357.2 L1185.2 356.7 L1186.2 356.2 L1187.2 355.7 L1188.2 355.1 L1189.2 354.6 L1190.2 354.1 L1191.2 353.6 L1192.2 353.0 L1193.2 352.5 L1194.2 352.0 L1195.2 351.5 L1196.2 351.0 L1197.2 350.5 L1198.2 350.0 L1199.2 349.5 L1200.2 349.1 L1201.2 348.6 L1202.2 348.2 L1203.2 347.8 L1204.2 347.4 L1205.2 347.1 L1206.2 346.7 L1207.2 346.4 L1208.2 346.2 L1209.2 345.9 L1210.2 345.7 L1211.2 345.5 L1212.2 345.4 L1213.2 345.3 L1214.2 345.2 L1215.2 345.2 L1216.2 345.2 L1217.2 345.3 L1218.2 345.4 L1219.2 345.6 L1220.2 345.8 L1221.2 346.1 L1222.2 346.4 L1223.2 346.8 L1224.2 347.2 L1225.2 347.7 L1226.2 348.3 L1227.2 348.9 L1228.2 349.6 L1229.2 350.4 L1230.2 351.2 L1231.2 352.1 L1232.2 353.1 L1233.2 354.1 L1234.2 355.2 L1235.2 356.4 L1236.2 357.6 L1237.2 358.9 L1238.2 360.2 L1239.2 361.6 L1240.2 363.0 L1241.2 364.5 L1242.2 366.0 L1243.2 367.5 L1244.2 369.0 L1245.2 370.6 L1246.2 372.2 L1247.2 373.8 L1248.2 375.4 L1249.2 377.0 L1250.2 378.6 L1251.2 380.2 L1252.2 381.8 L1253.2 383.4 L1254.2 385.0 L1255.2 386.5 L1256.2 388.1 L1257.2 389.6 L1258.2 391.0 L1259.2 392.5 L1260.2 393.9 L1261.2 395.2 L1262.2 396.5 L1263.2 397.7 L1264.2 398.9 L1265.2 400.0 L1266.2 401.0 L1267.2 401.9 L1268.2 402.7 L1269.2 403.5 L1270.2 404.2 L1271.2 404.9 L1272.2 405.5 L1273.2 406.1 L1274.2 406.6 L1275.2 407.2 L1276.2 407.7 L1277.2 408.2 L1278.2 408.7 L1279.2 409.1 L1280.2 409.6 L1281.2 410.1 L1282.2 410.6 L1283.2 411.0 L1284.2 411.5 L1285.2 411.9 L1286.2 412.3 L1287.2 412.8 L1288.2 413.2 L1289.2 413.7 L1290.2 414.1 L1291.2 414.5 L1292.2 415.0 L1293.2 415.4 L1294.2 415.9 L1295.2 416.3 L1296.2 416.7 L1297.2 417.2 L1298.2 417.6 L1299.2 418.1 L1300.2 418.5 L1301.2 419.0 L1302.2 419.4 L1303.2 419.9 L1304.2 420.3 L1305.2 420.8 L1306.2 421.3 L1307.2 421.7 L1308.2 422.2 L1309.2 422.6 L1310.2 423.1 L1311.2 423.5 L1312.2 424.0 L1313.2 424.4 L1314.2 424.9 L1315.2 425.4 L1316.2 425.8 L1317.2 426.3 L1318.2 426.7 L1319.2 427.2 L1320.2 427.6 L1321.2 428.1 L1322.2 428.6 L1323.2 429.0 L1324.2 429.5 L1325.2 429.9 L1326.2 430.4 L1327.2 430.8 L1328.2 431.3 L1329.2 431.7 L1330.2 432.2 L1331.2 432.6 L1332.2 433.1 L1333.2 433.5 L1334.2 434.0 L1335.2 434.4 L1336.2 434.9 L1337.2 435.3 L1338.2 435.7 L1339.2 436.2 L1340.2 436.6 L1341.2 437.1 L1342.2 437.5 L1343.2 437.9 L1344.2 438.4 L1345.2 438.8 L1346.2 439.2 L1347.2 439.6 L1348.2 440.1 L1349.2 440.5 L1350.2 440.9 L1351.2 441.3 L1352.2 441.7 L1353.2 442.2 L1354.2 442.6 L1355.2 443.0 L1356.2 443.4 L1357.2 443.8 L1358.2 444.2 L1359.2 444.6 L1360.2 445.0 L1361.2 445.4 L1362.2 445.8 L1363.2 446.2 L1364.2 446.6 L1365.2 447.0 L1366.2 447.4 L1367.2 447.8 L1368.2 448.1 L1369.2 448.5 L1370.2 448.9 L1371.2 449.3 L1372.2 449.6 L1373.2 450.0 L1374.2 450.4 L1375.2 450.7 L1376.2 451.1 L1377.2 451.5 L1378.2 451.8 L1379.2 452.2 L1380.2 452.5 L1381.2 452.9 L1382.2 453.2 L1383.2 453.5 L1384.2 453.9 L1385.2 454.2 L1386.2 454.5 L1387.2 454.9 L1388.2 455.2 L1389.2 455.5 L1390.2 455.8 L1391.2 456.2 L1392.2 456.5 L1393.2 456.8 L1394.2 457.1 L1395.2 457.4 L1396.2 457.7 L1397.2 458.0 L1398.2 458.3 L1399.2 458.5 L1400.2 458.8 L1401.2 459.1 L1402.2 459.4 L1403.2 459.7 L1404.2 459.9 L1405.2 460.2 L1406.2 460.5 L1407.2 460.7 L1408.2 461.0 L1409.2 461.2 L1410.2 461.5 L1411.2 461.7 L1412.2 461.9 L1413.2 462.2 L1414.2 462.4 L1415.2 462.6 L1416.2 462.8 L1417.2 463.1 L1418.2 463.3 L1419.2 463.5 L1420.2 463.7 L1421.2 463.9 L1422.2 464.1 L1423.2 464.3 L1424.2 464.4 L1425.2 464.6 L1426.2 464.8 L1427.2 465.0 L1428.2 465.1 L1429.2 465.3 L1430.2 465.5 L1431.2 465.6 L1432.2 465.8 L1433.2 465.9 L1434.2 466.0 L1435.2 466.2 L1436.2 466.3 L1437.2 466.4 L1438.2 466.5 L1439.2 466.7 L1440.2 466.8 L1441.2 466.9 L1442.2 467.0 L1443.2 467.1 L1444.2 467.2 L1445.2 467.2 L1446.2 467.3 L1447.2 467.4 L1448.2 467.5 L1449.2 467.5 L1450.2 467.6 L1451.2 467.6 L1452.2 467.7" stroke="#008080" stroke-width="4.9" fill="none" stroke-linejoin="round"/>
<path d="M865.2 467.7 L866.2 467.6 L867.2 467.4 L868.2 467.3 L869.2 467.2 L870.2 467.2 L871.2 467.1 L872.2 467.1 L873.2 467.0 L874.2 467.0 L875.2 467.0 L876.2 467.1 L877.2 467.1 L878.2 467.1 L879.2 467.2 L880.2 467.2 L881.2 467.3 L882.2 467.4 L883.2 467.4 L884.2 467.5 L885.2 467.6 L886.2 467.7 L887.2 467.8 L888.2 467.8 L889.2 467.9 L890.2 468.0 L891.2 468.1 L892.2 468.2 L893.2 468.3 L894.2 468.3 L895.2 468.4 L896.2 468.4 L897.2 468.5 L898.2 468.5 L899.2 468.6 L900.2 468.6 L901.2 468.6 L902.2 468.6 L903.2 468.5 L904.2 468.5 L905.2 468.4 L906.2 468.4 L907.2 468.3 L908.2 468.2 L909.2 468.0 L910.2 467.9 L911.2 467.7 L912.2 467.5 L913.2 467.3 L914.2 467.1 L915.2 466.8 L916.2 466.5 L917.2 466.2 L918.2 465.8 L919.2 465.4 L920.2 465.0 L921.2 464.6 L922.2 464.1 L923.2 463.6 L924.2 463.0 L925.2 462.5 L926.2 461.8 L927.2 461.2 L928.2 460.5 L929.2 459.8 L930.2 459.0 L931.2 458.2 L932.2 457.3 L933.2 456.4 L934.2 455.5 L935.2 454.5 L936.2 453.4 L937.2 452.4 L938.2 451.2 L939.2 450.0 L940.2 448.8 L941.2 447.5 L942.2 446.2 L943.2 444.8 L944.2 443.4 L945.2 441.9 L946.2 440.3 L947.2 438.7 L948.2 437.0 L949.2 435.3 L950.2 433.5 L951.2 431.7 L952.2 429.7 L953.2 427.8 L954.2 425.7 L955.2 423.6 L956.2 421.5 L957.2 419.2 L958.2 416.9 L959.2 414.6 L960.2 412.1 L961.2 409.6 L962.2 407.0 L963.2 404.4 L964.2 401.6 L965.2 398.8 L966.2 396.0 L967.2 393.0 L968.2 390.0 L969.2 387.0 L970.2 383.8 L971.2 380.7 L972.2 377.4 L973.2 374.1 L974.2 370.8 L975.2 367.4 L976.2 364.0 L977.2 360.5 L978.2 356.9 L979.2 353.4 L980.2 349.8 L981.2 346.1 L982.2 342.4 L983.2 338.7 L984.2 335.0 L985.2 331.2 L986.2 327.5 L987.2 323.7 L988.2 320.0 L989.2 316.3 L990.2 312.5 L991.2 308.9 L992.2 305.2 L993.2 301.7 L994.2 298.1 L995.2 294.7 L996.2 291.3 L997.2 288.0 L998.2 284.8 L999.2 281.6 L1000.2 278.6 L1001.2 275.7 L1002.2 272.9 L1003.2 270.3 L1004.2 267.7 L1005.2 265.2 L1006.2 262.8 L1007.2 260.5 L1008.2 258.3 L1009.2 256.2 L1010.2 254.2 L1011.2 252.3 L1012.2 250.5 L1013.2 248.7 L1014.2 247.1 L1015.2 245.5 L1016.2 244.0 L1017.2 242.6 L1018.2 241.2 L1019.2 239.9 L1020.2 238.7 L1021.2 237.5 L1022.2 236.5 L1023.2 235.4 L1024.2 234.5 L1025.2 233.6 L1026.2 232.8 L1027.2 232.0 L1028.2 231.3 L1029.2 230.6 L1030.2 230.0 L1031.2 229.5 L1032.2 229.0 L1033.2 228.6 L1034.2 228.3 L1035.2 227.9 L1036.2 227.7 L1037.2 227.5 L1038.2 227.3 L1039.2 227.2 L1040.2 227.1 L1041.2 227.1 L1042.2 227.1 L1043.2 227.2 L1044.2 227.3 L1045.2 227.5 L1046.2 227.7 L1047.2 227.9 L1048.2 228.2 L1049.2 228.5 L1050.2 228.8 L1051.2 229.2 L1052.2 229.6 L1053.2 230.1 L1054.2 230.6 L1055.2 231.1 L1056.2 231.6 L1057.2 232.2 L1058.2 232.8 L1059.2 233.5 L1060.2 234.2 L1061.2 234.9 L1062.2 235.7 L1063.2 236.5 L1064.2 237.4 L1065.2 238.3 L1066.2 239.2 L1067.2 240.2 L1068.2 241.2 L1069.2 242.3 L1070.2 243.4 L1071.2 244.5 L1072.2 245.7 L1073.2 246.9 L1074.2 248.2 L1075.2 249.5 L1076.2 250.9 L1077.2 252.3 L1078.2 253.8 L1079.2 255.3 L1080.2 256.8 L1081.2 258.4 L1082.2 260.1 L1083.2 261.8 L1084.2 263.5 L1085.2 265.3 L1086.2 267.2 L1087.2 269.0 L1088.2 271.0 L1089.2 272.9 L1090.2 274.9 L1091.2 277.0 L1092.2 279.1 L1093.2 281.2 L1094.2 283.4 L1095.2 285.6 L1096.2 287.8 L1097.2 290.1 L1098.2 292.4 L1099.2 294.7 L1100.2 297.0 L1101.2 299.4 L1102.2 301.7 L1103.2 304.0 L1104.2 306.4 L1105.2 308.7 L1106.2 311.0 L1107.2 313.2 L1108.2 315.4 L1109.2 317.6 L1110.2 319.8 L1111.2 321.9 L1112.2 323.9 L1113.2 325.9 L1114.2 327.8 L1115.2 329.7 L1116.2 331.6 L1117.2 333.3 L1118.2 335.1 L1119.2 336.7 L1120.2 338.4 L1121.2 339.9 L1122.2 341.5 L1123.2 342.9 L1124.2 344.4 L1125.2 345.7 L1126.2 347.1 L1127.2 348.3 L1128.2 349.6 L1129.2 350.8 L1130.2 351.9 L1131.2 353.0 L1132.2 354.1 L1133.2 355.1 L1134.2 356.0 L1135.2 356.9 L1136.2 357.8 L1137.2 358.6 L1138.2 359.4 L1139.2 360.2 L1140.2 360.9 L1141.2 361.5 L1142.2 362.1 L1143.2 362.7 L1144.2 363.3 L1145.2 363.8 L1146.2 364.2 L1147.2 364.6 L1148.2 365.0 L1149.2 365.4 L1150.2 365.7 L1151.2 366.0 L1152.2 366.2 L1153.2 366.4 L1154.2 366.6 L1155.2 366.8 L1156.2 366.9 L1157.2 367.0 L1158.2 367.1 L1159.2 367.1 L1160.2 367.1 L1161.2 367.1 L1162.2 367.1 L1163.2 367.0 L1164.2 367.0 L1165.2 366.9 L1166.2 366.7 L1167.2 366.6 L1168.2 366.4 L1169.2 366.3 L1170.2 366.1 L1171.2 365.9 L1172.2 365.6 L1173.2 365.4 L1174.2 365.1 L1175.2 364.9 L1176.2 364.6 L1177.2 364.3 L1178.2 364.0 L1179.2 363.7 L1180.2 363.4 L1181.2 363.1 L1182.2 362.8 L1183.2 362.4 L1184.2 362.1 L1185.2 361.8 L1186.2 361.4 L1187.2 361.1 L1188.2 360.7 L1189.2 360.4 L1190.2 360.0 L1191.2 359.7 L1192.2 359.4 L1193.2 359.0 L1194.2 358.7 L1195.2 358.4 L1196.2 358.1 L1197.2 357.8 L1198.2 357.5 L1199.2 357.2 L1200.2 356.9 L1201.2 356.6 L1202.2 356.4 L1203.2 356.1 L1204.2 355.9 L1205.2 355.7 L1206.2 355.4 L1207.2 355.3 L1208.2 355.1 L1209.2 355.0 L1210.2 354.8 L1211.2 354.7 L1212.2 354.7 L1213.2 354.7 L1214.2 354.7 L1215.2 354.7 L1216.2 354.8 L1217.2 355.0 L1218.2 355.2 L1219.2 355.4 L1220.2 355.7 L1221.2 356.1 L1222.2 356.5 L1223.2 357.0 L1224.2 357.6 L1225.2 358.2 L1226.2 358.9 L1227.2 359.7 L1228.2 360.5 L1229.2 361.5 L1230.2 362.5 L1231.2 363.5 L1232.2 364.7 L1233.2 365.8 L1234.2 367.1 L1235.2 368.4 L1236.2 369.7 L1237.2 371.0 L1238.2 372.5 L1239.2 373.9 L1240.2 375.3 L1241.2 376.8 L1242.2 378.3 L1243.2 379.8 L1244.2 381.3 L1245.2 382.9 L1246.2 384.4 L1247.2 385.9 L1248.2 387.4 L1249.2 388.9 L1250.2 390.4 L1251.2 391.9 L1252.2 393.3 L1253.2 394.7 L1254.2 396.1 L1255.2 397.4 L1256.2 398.7 L1257.2 400.0 L1258.2 401.3 L1259.2 402.5 L1260.2 403.7 L1261.2 404.9 L1262.2 406.0 L1263.2 407.2 L1264.2 408.2 L1265.2 409.3 L1266.2 410.4 L1267.2 411.4 L1268.2 412.3 L1269.2 413.3 L1270.2 414.2 L1271.2 415.1 L1272.2 416.0 L1273.2 416.9 L1274.2 417.7 L1275.2 418.5 L1276.2 419.3 L1277.2 420.0 L1278.2 420.8 L1279.2 421.5 L1280.2 422.2 L1281.2 422.8 L1282.2 423.4 L1283.2 424.1 L1284.2 424.6 L1285.2 425.2 L1286.2 425.7 L1287.2 426.3 L1288.2 426.7 L1289.2 427.2 L1290.2 427.7 L1291.2 428.1 L1292.2 428.5 L1293.2 428.9 L1294.2 429.3 L1295.2 429.7 L1296.2 430.0 L1297.2 430.4 L1298.2 430.7 L1299.2 431.0 L1300.2 431.3 L1301.2 431.6 L1302.2 431.9 L1303.2 432.2 L1304.2 432.5 L1305.2 432.8 L1306.2 433.1 L1307.2 433.4 L1308.2 433.7 L1309.2 434.0 L1310.2 434.3 L1311.2 434.6 L1312.2 434.9 L1313.2 435.2 L1314.2 435.5 L1315.2 435.8 L1316.2 436.1 L1317.2 436.5 L1318.2 436.8 L1319.2 437.2 L1320.2 437.5 L1321.2 437.9 L1322.2 438.3 L1323.2 438.6 L1324.2 439.0 L1325.2 439.4 L1326.2 439.8 L1327.2 440.2 L1328.2 440.6 L1329.2 441.0 L1330.2 441.4 L1331.2 441.9 L1332.2 442.3 L1333.2 442.7 L1334.2 443.2 L1335.2 443.6 L1336.2 444.0 L1337.2 444.5 L1338.2 444.9 L1339.2 445.4 L1340.2 445.9 L1341.2 446.3 L1342.2 446.8 L1343.2 447.2 L1344.2 447.7 L1345.2 448.2 L1346.2 448.7 L1347.2 449.2 L1348.2 449.6 L1349.2 450.1 L1350.2 450.6 L1351.2 451.1 L1352.2 451.6 L1353.2 452.1 L1354.2 452.6 L1355.2 453.1 L1356.2 453.6 L1357.2 454.1 L1358.2 454.6 L1359.2 455.1 L1360.2 455.6 L1361.2 456.1 L1362.2 456.6 L1363.2 457.1 L1364.2 457.6 L1365.2 458.1 L1366.2 458.6 L1367.2 459.1 L1368.2 459.6 L1369.2 460.1 L1370.2 460.6 L1371.2 461.1 L1372.2 461.6 L1373.2 462.1 L1374.2 462.6 L1375.2 463.1 L1376.2 463.6 L1377.2 464.1 L1378.2 464.6 L1379.2 465.1 L1380.2 465.6 L1381.2 466.1 L1382.2 466.6 L1383.2 467.0 L1384.2 467.5 L1385.2 468.0 L1386.2 468.5 L1387.2 469.0 L1388.2 469.4 L1389.2 469.9 L1390.2 470.4 L1391.2 470.8 L1392.2 471.3 L1393.2 471.8 L1394.2 472.2 L1395.2 472.7 L1396.2 473.1 L1397.2 473.6 L1398.2 474.0 L1399.2 474.4 L1400.2 474.9 L1401.2 475.3 L1402.2 475.7 L1403.2 476.2 L1404.2 476.6 L1405.2 477.0 L1406.2 477.4 L1407.2 477.8 L1408.2 478.2 L1409.2 478.6 L1410.2 479.0 L1411.2 479.3 L1412.2 479.7 L1413.2 480.1 L1414.2 480.4 L1415.2 480.8 L1416.2 481.1 L1417.2 481.5 L1418.2 481.8 L1419.2 482.1 L1420.2 482.5 L1421.2 482.8 L1422.2 483.1 L1423.2 483.4 L1424.2 483.7 L1425.2 484.0 L1426.2 484.3 L1427.2 484.5 L1428.2 484.8 L1429.2 485.1 L1430.2 485.3 L1431.2 485.5 L1432.2 485.8 L1433.2 486.0 L1434.2 486.2 L1435.2 486.4 L1436.2 486.6 L1437.2 486.8 L1438.2 487.0 L1439.2 487.2 L1440.2 487.3 L1441.2 487.5 L1442.2 487.6 L1443.2 487.8 L1444.2 487.9 L1445.2 488.0 L1446.2 488.1 L1447.2 488.2 L1448.2 488.3 L1449.2 488.3 L1450.2 488.4 L1451.2 488.5 L1452.2 488.5" stroke="#8000ff" stroke-width="4.9" fill="none" stroke-linejoin="round"/>
<path d="M865.2 467.4 L866.2 467.4 L867.2 467.4 L868.2 467.4 L869.2 467.4 L870.2 467.4 L871.2 467.4 L872.2 467.4 L873.2 467.4 L874.2 467.5 L875.2 467.5 L876.2 467.6 L877.2 467.6 L878.2 467.7 L879.2 467.7 L880.2 467.8 L881.2 467.8 L882.2 467.9 L883.2 467.9 L884.2 468.0 L885.2 468.0 L886.2 468.1 L887.2 468.1 L888.2 468.1 L889.2 468.2 L890.2 468.2 L891.2 468.2 L892.2 468.2 L893.2 468.2 L894.2 468.2 L895.2 468.2 L896.2 468.2 L897.2 468.2 L898.2 468.1 L899.2 468.0 L900.2 468.0 L901.2 467.9 L902.2 467.8 L903.2 467.7 L904.2 467.5 L905.2 467.4 L906.2 467.2 L907.2 467.0 L908.2 466.8 L909.2 466.6 L910.2 466.4 L911.2 466.1 L912.2 465.8 L913.2 465.5 L914.2 465.2 L915.2 464.9 L916.2 464.5 L917.2 464.1 L918.2 463.6 L919.2 463.2 L920.2 462.7 L921.2 462.2 L922.2 461.7 L923.2 461.1 L924.2 460.5 L925.2 459.9 L926.2 459.2 L927.2 458.5 L928.2 457.8 L929.2 457.0 L930.2 456.2 L931.2 455.4 L932.2 454.5 L933.2 453.6 L934.2 452.6 L935.2 451.6 L936.2 450.5 L937.2 449.4 L938.2 448.3 L939.2 447.1 L940.2 445.8 L941.2 444.5 L942.2 443.2 L943.2 441.8 L944.2 440.3 L945.2 438.8 L946.2 437.3 L947.2 435.6 L948.2 433.9 L949.2 432.2 L950.2 430.4 L951.2 428.5 L952.2 426.6 L953.2 424.6 L954.2 422.5 L955.2 420.4 L956.2 418.2 L957.2 415.9 L958.2 413.6 L959.2 411.2 L960.2 408.7 L961.2 406.1 L962.2 403.5 L963.2 400.8 L964.2 398.0 L965.2 395.1 L966.2 392.2 L967.2 389.2 L968.2 386.1 L969.2 383.0 L970.2 379.8 L971.2 376.6 L972.2 373.3 L973.2 370.0 L974.2 366.6 L975.2 363.2 L976.2 359.8 L977.2 356.3 L978.2 352.8 L979.2 349.3 L980.2 345.8 L981.2 342.3 L982.2 338.8 L983.2 335.2 L984.2 331.7 L985.2 328.2 L986.2 324.6 L987.2 321.1 L988.2 317.6 L989.2 314.2 L990.2 310.7 L991.2 307.3 L992.2 303.9 L993.2 300.6 L994.2 297.3 L995.2 294.0 L996.2 290.8 L997.2 287.6 L998.2 284.5 L999.2 281.5 L1000.2 278.5 L1001.2 275.6 L1002.2 272.7 L1003.2 269.9 L1004.2 267.2 L1005.2 264.5 L1006.2 262.0 L1007.2 259.5 L1008.2 257.1 L1009.2 254.8 L1010.2 252.6 L1011.2 250.5 L1012.2 248.5 L1013.2 246.6 L1014.2 244.8 L1015.2 243.1 L1016.2 241.5 L1017.2 240.0 L1018.2 238.6 L1019.2 237.3 L1020.2 236.1 L1021.2 235.0 L1022.2 234.0 L1023.2 233.0 L1024.2 232.1 L1025.2 231.3 L1026.2 230.6 L1027.2 229.9 L1028.2 229.3 L1029.2 228.7 L1030.2 228.2 L1031.2 227.7 L1032.2 227.3 L1033.2 227.0 L1034.2 226.6 L1035.2 226.4 L1036.2 226.1 L1037.2 225.9 L1038.2 225.7 L1039.2 225.6 L1040.2 225.5 L1041.2 225.5 L1042.2 225.5 L1043.2 225.5 L1044.2 225.6 L1045.2 225.7 L1046.2 225.8 L1047.2 226.0 L1048.2 226.1 L1049.2 226.4 L1050.2 226.6 L1051.2 226.9 L1052.2 227.3 L1053.2 227.7 L1054.2 228.1 L1055.2 228.5 L1056.2 229.0 L1057.2 229.5 L1058.2 230.1 L1059.2 230.7 L1060.2 231.4 L1061.2 232.1 L1062.2 232.8 L1063.2 233.6 L1064.2 234.4 L1065.2 235.3 L1066.2 236.2 L1067.2 237.2 L1068.2 238.2 L1069.2 239.2 L1070.2 240.3 L1071.2 241.5 L1072.2 242.7 L1073.2 244.0 L1074.2 245.3 L1075.2 246.6 L1076.2 248.0 L1077.2 249.5 L1078.2 251.0 L1079.2 252.6 L1080.2 254.2 L1081.2 255.8 L1082.2 257.5 L1083.2 259.3 L1084.2 261.1 L1085.2 262.9 L1086.2 264.8 L1087.2 266.7 L1088.2 268.7 L1089.2 270.7 L1090.2 272.8 L1091.2 274.9 L1092.2 277.0 L1093.2 279.1 L1094.2 281.3 L1095.2 283.5 L1096.2 285.7 L1097.2 287.9 L1098.2 290.1 L1099.2 292.4 L1100.2 294.6 L1101.2 296.8 L1102.2 299.0 L1103.2 301.2 L1104.2 303.4 L1105.2 305.6 L1106.2 307.8 L1107.2 309.9 L1108.2 312.0 L1109.2 314.1 L1110.2 316.2 L1111.2 318.3 L1112.2 320.3 L1113.2 322.3 L1114.2 324.2 L1115.2 326.2 L1116.2 328.1 L1117.2 329.9 L1118.2 331.8 L1119.2 333.6 L1120.2 335.3 L1121.2 337.1 L1122.2 338.7 L1123.2 340.4 L1124.2 342.0 L1125.2 343.5 L1126.2 345.0 L1127.2 346.5 L1128.2 347.9 L1129.2 349.2 L1130.2 350.5 L1131.2 351.8 L1132.2 353.0 L1133.2 354.1 L1134.2 355.2 L1135.2 356.2 L1136.2 357.2 L1137.2 358.1 L1138.2 358.9 L1139.2 359.7 L1140.2 360.5 L1141.2 361.1 L1142.2 361.8 L1143.2 362.4 L1144.2 362.9 L1145.2 363.4 L1146.2 363.8 L1147.2 364.2 L1148.2 364.6 L1149.2 364.9 L1150.2 365.2 L1151.2 365.5 L1152.2 365.7 L1153.2 365.8 L1154.2 366.0 L1155.2 366.1 L1156.2 366.2 L1157.2 366.3 L1158.2 366.3 L1159.2 366.3 L1160.2 366.3 L1161.2 366.3 L1162.2 366.3 L1163.2 366.2 L1164.2 366.1 L1165.2 366.1 L1166.2 366.0 L1167.2 365.8 L1168.2 365.7 L1169.2 365.6 L1170.2 365.5 L1171.2 365.3 L1172.2 365.2 L1173.2 365.1 L1174.2 364.9 L1175.2 364.8 L1176.2 364.7 L1177.2 364.6 L1178.2 364.4 L1179.2 364.3 L1180.2 364.2 L1181.2 364.1 L1182.2 364.0 L1183.2 363.9 L1184.2 363.9 L1185.2 363.8 L1186.2 363.8 L1187.2 363.7 L1188.2 363.7 L1189.2 363.7 L1190.2 363.7 L1191.2 363.7 L1192.2 363.8 L1193.2 363.8 L1194.2 363.9 L1195.2 364.0 L1196.2 364.1 L1197.2 364.2 L1198.2 364.4 L1199.2 364.6 L1200.2 364.8 L1201.2 365.0 L1202.2 365.3 L1203.2 365.6 L1204.2 365.9 L1205.2 366.2 L1206.2 366.6 L1207.2 367.0 L1208.2 367.4 L1209.2 367.8 L1210.2 368.3 L1211.2 368.7 L1212.2 369.2 L1213.2 369.8 L1214.2 370.3 L1215.2 370.9 L1216.2 371.5 L1217.2 372.1 L1218.2 372.8 L1219.2 373.4 L1220.2 374.1 L1221.2 374.9 L1222.2 375.6 L1223.2 376.4 L1224.2 377.2 L1225.2 378.0 L1226.2 378.8 L1227.2 379.7 L1228.2 380.5 L1229.2 381.4 L1230.2 382.4 L1231.2 383.3 L1232.2 384.3 L1233.2 385.2 L1234.2 386.2 L1235.2 387.2 L1236.2 388.2 L1237.2 389.2 L1238.2 390.2 L1239.2 391.2 L1240.2 392.2 L1241.2 393.2 L1242.2 394.2 L1243.2 395.2 L1244.2 396.2 L1245.2 397.2 L1246.2 398.1 L1247.2 399.1 L1248.2 400.0 L1249.2 401.0 L1250.2 401.9 L1251.2 402.7 L1252.2 403.6 L1253.2 404.4 L1254.2 405.2 L1255.2 406.0 L1256.2 406.8 L1257.2 407.6 L1258.2 408.3 L1259.2 409.0 L1260.2 409.7 L1261.2 410.3 L1262.2 411.0 L1263.2 411.6 L1264.2 412.2 L1265.2 412.7 L1266.2 413.3 L1267.2 413.8 L1268.2 414.3 L1269.2 414.7 L1270.2 415.2 L1271.2 415.6 L1272.2 416.0 L1273.2 416.4 L1274.2 416.7 L1275.2 417.0 L1276.2 417.3 L1277.2 417.6 L1278.2 417.8 L1279.2 418.1 L1280.2 418.3 L1281.2 418.6 L1282.2 418.8 L1283.2 419.0 L1284.2 419.2 L1285.2 419.4 L1286.2 419.6 L1287.2 419.9 L1288.2 420.1 L1289.2 420.3 L1290.2 420.6 L1291.2 420.9 L1292.2 421.1 L1293.2 421.4 L1294.2 421.7 L1295.2 421.9 L1296.2 422.2 L1297.2 422.5 L1298.2 422.8 L1299.2 423.1 L1300.2 423.4 L1301.2 423.8 L1302.2 424.1 L1303.2 424.4 L1304.2 424.7 L1305.2 425.1 L1306.2 425.4 L1307.2 425.8 L1308.2 426.1 L1309.2 426.5 L1310.2 426.8 L1311.2 427.2 L1312.2 427.5 L1313.2 427.9 L1314.2 428.3 L1315.2 428.7 L1316.2 429.0 L1317.2 429.4 L1318.2 429.8 L1319.2 430.2 L1320.2 430.6 L1321.2 430.9 L1322.2 431.3 L1323.2 431.7 L1324.2 432.1 L1325.2 432.5 L1326.2 432.9 L1327.2 433.3 L1328.2 433.7 L1329.2 434.1 L1330.2 434.5 L1331.2 434.8 L1332.2 435.2 L1333.2 435.6 L1334.2 436.0 L1335.2 436.4 L1336.2 436.8 L1337.2 437.2 L1338.2 437.6 L1339.2 438.0 L1340.2 438.3 L1341.2 438.7 L1342.2 439.1 L1343.2 439.5 L1344.2 439.9 L1345.2 440.2 L1346.2 440.6 L1347.2 441.0 L1348.2 441.4 L1349.2 441.7 L1350.2 442.1 L1351.2 442.5 L1352.2 442.8 L1353.2 443.2 L1354.2 443.6 L1355.2 443.9 L1356.2 444.3 L1357.2 444.6 L1358.2 445.0 L1359.2 445.3 L1360.2 445.7 L1361.2 446.1 L1362.2 446.4 L1363.2 446.8 L1364.2 447.1 L1365.2 447.5 L1366.2 447.8 L1367.2 448.2 L1368.2 448.5 L1369.2 448.8 L1370.2 449.2 L1371.2 449.5 L1372.2 449.9 L1373.2 450.2 L1374.2 450.6 L1375.2 450.9 L1376.2 451.3 L1377.2 451.6 L1378.2 451.9 L1379.2 452.3 L1380.2 452.6 L1381.2 453.0 L1382.2 453.3 L1383.2 453.6 L1384.2 454.0 L1385.2 454.3 L1386.2 454.7 L1387.2 455.0 L1388.2 455.3 L1389.2 455.7 L1390.2 456.0 L1391.2 456.3 L1392.2 456.7 L1393.2 457.0 L1394.2 457.4 L1395.2 457.7 L1396.2 458.0 L1397.2 458.4 L1398.2 458.7 L1399.2 459.1 L1400.2 459.4 L1401.2 459.7 L1402.2 460.1 L1403.2 460.4 L1404.2 460.7 L1405.2 461.0 L1406.2 461.4 L1407.2 461.7 L1408.2 462.0 L1409.2 462.3 L1410.2 462.6 L1411.2 462.9 L1412.2 463.2 L1413.2 463.5 L1414.2 463.8 L1415.2 464.1 L1416.2 464.3 L1417.2 464.6 L1418.2 464.9 L1419.2 465.1 L1420.2 465.4 L1421.2 465.6 L1422.2 465.8 L1423.2 466.0 L1424.2 466.3 L1425.2 466.5 L1426.2 466.7 L1427.2 466.8 L1428.2 467.0 L1429.2 467.2 L1430.2 467.3 L1431.2 467.5 L1432.2 467.6 L1433.2 467.7 L1434.2 467.9 L1435.2 468.0 L1436.2 468.0 L1437.2 468.1 L1438.2 468.2 L1439.2 468.2 L1440.2 468.3 L1441.2 468.3 L1442.2 468.3 L1443.2 468.3 L1444.2 468.3 L1445.2 468.3 L1446.2 468.2 L1447.2 468.1 L1448.2 468.1 L1449.2 468.0 L1450.2 467.9 L1451.2 467.7 L1452.2 467.6" stroke="#808000" stroke-width="4.9" fill="none" stroke-linejoin="round"/>
<path d="M865.2 480.7 L866.2 480.6 L867.2 480.6 L868.2 480.5 L869.2 480.4 L870.2 480.4 L871.2 480.4 L872.2 480.4 L873.2 480.4 L874.2 480.4 L875.2 480.4 L876.2 480.4 L877.2 480.5 L878.2 480.5 L879.2 480.6 L880.2 480.6 L881.2 480.7 L882.2 480.7 L883.2 480.8 L884.2 480.9 L885.2 480.9 L886.2 481.0 L887.2 481.0 L888.2 481.1 L889.2 481.2 L890.2 481.2 L891.2 481.3 L892.2 481.3 L893.2 481.3 L894.2 481.4 L895.2 481.4 L896.2 481.4 L897.2 481.4 L898.2 481.3 L899.2 481.3 L900.2 481.3 L901.2 481.2 L902.2 481.1 L903.2 481.1 L904.2 481.0 L905.2 480.8 L906.2 480.7 L907.2 480.5 L908.2 480.3 L909.2 480.1 L910.2 479.9 L911.2 479.7 L912.2 479.4 L913.2 479.1 L914.2 478.8 L915.2 478.4 L916.2 478.0 L917.2 477.6 L918.2 477.2 L919.2 476.7 L920.2 476.2 L921.2 475.7 L922.2 475.1 L923.2 474.5 L924.2 473.9 L925.2 473.2 L926.2 472.5 L927.2 471.8 L928.2 471.0 L929.2 470.1 L930.2 469.2 L931.2 468.3 L932.2 467.3 L933.2 466.3 L934.2 465.3 L935.2 464.1 L936.2 463.0 L937.2 461.7 L938.2 460.5 L939.2 459.1 L940.2 457.8 L941.2 456.3 L942.2 454.8 L943.2 453.2 L944.2 451.6 L945.2 449.9 L946.2 448.2 L947.2 446.4 L948.2 444.5 L949.2 442.5 L950.2 440.5 L951.2 438.4 L952.2 436.2 L953.2 434.0 L954.2 431.7 L955.2 429.3 L956.2 426.9 L957.2 424.4 L958.2 421.8 L959.2 419.1 L960.2 416.4 L961.2 413.6 L962.2 410.7 L963.2 407.8 L964.2 404.8 L965.2 401.8 L966.2 398.7 L967.2 395.5 L968.2 392.3 L969.2 389.0 L970.2 385.6 L971.2 382.2 L972.2 378.8 L973.2 375.3 L974.2 371.8 L975.2 368.2 L976.2 364.6 L977.2 360.9 L978.2 357.3 L979.2 353.6 L980.2 349.9 L981.2 346.3 L982.2 342.6 L983.2 338.9 L984.2 335.2 L985.2 331.5 L986.2 327.8 L987.2 324.2 L988.2 320.6 L989.2 317.0 L990.2 313.4 L991.2 309.8 L992.2 306.3 L993.2 302.9 L994.2 299.4 L995.2 296.1 L996.2 292.7 L997.2 289.5 L998.2 286.3 L999.2 283.1 L1000.2 280.0 L1001.2 277.0 L1002.2 274.1 L1003.2 271.2 L1004.2 268.5 L1005.2 265.8 L1006.2 263.2 L1007.2 260.7 L1008.2 258.2 L1009.2 255.9 L1010.2 253.7 L1011.2 251.5 L1012.2 249.5 L1013.2 247.5 L1014.2 245.6 L1015.2 243.8 L1016.2 242.1 L1017.2 240.4 L1018.2 238.9 L1019.2 237.4 L1020.2 236.0 L1021.2 234.6 L1022.2 233.4 L1023.2 232.2 L1024.2 231.1 L1025.2 230.0 L1026.2 229.1 L1027.2 228.2 L1028.2 227.3 L1029.2 226.6 L1030.2 225.8 L1031.2 225.2 L1032.2 224.6 L1033.2 224.1 L1034.2 223.6 L1035.2 223.2 L1036.2 222.9 L1037.2 222.6 L1038.2 222.3 L1039.2 222.1 L1040.2 222.0 L1041.2 221.9 L1042.2 221.9 L1043.2 221.9 L1044.2 222.0 L1045.2 222.1 L1046.2 222.2 L1047.2 222.4 L1048.2 222.6 L1049.2 222.9 L1050.2 223.2 L1051.2 223.6 L1052.2 224.0 L1053.2 224.4 L1054.2 224.8 L1055.2 225.3 L1056.2 225.9 L1057.2 226.4 L1058.2 227.0 L1059.2 227.6 L1060.2 228.3 L1061.2 228.9 L1062.2 229.7 L1063.2 230.4 L1064.2 231.2 L1065.2 232.0 L1066.2 232.9 L1067.2 233.8 L1068.2 234.8 L1069.2 235.7 L1070.2 236.8 L1071.2 237.9 L1072.2 239.0 L1073.2 240.1 L1074.2 241.3 L1075.2 242.6 L1076.2 243.9 L1077.2 245.2 L1078.2 246.6 L1079.2 248.1 L1080.2 249.6 L1081.2 251.1 L1082.2 252.8 L1083.2 254.4 L1084.2 256.1 L1085.2 257.9 L1086.2 259.7 L1087.2 261.6 L1088.2 263.5 L1089.2 265.5 L1090.2 267.6 L1091.2 269.6 L1092.2 271.8 L1093.2 273.9 L1094.2 276.1 L1095.2 278.4 L1096.2 280.6 L1097.2 282.9 L1098.2 285.2 L1099.2 287.5 L1100.2 289.9 L1101.2 292.2 L1102.2 294.5 L1103.2 296.9 L1104.2 299.2 L1105.2 301.6 L1106.2 303.9 L1107.2 306.2 L1108.2 308.5 L1109.2 310.8 L1110.2 313.1 L1111.2 315.3 L1112.2 317.5 L1113.2 319.6 L1114.2 321.8 L1115.2 323.9 L1116.2 325.9 L1117.2 327.9 L1118.2 329.8 L1119.2 331.7 L1120.2 333.5 L1121.2 335.3 L1122.2 337.0 L1123.2 338.6 L1124.2 340.2 L1125.2 341.7 L1126.2 343.2 L1127.2 344.6 L1128.2 346.0 L1129.2 347.3 L1130.2 348.6 L1131.2 349.8 L1132.2 350.9 L1133.2 352.0 L1134.2 353.1 L1135.2 354.1 L1136.2 355.0 L1137.2 356.0 L1138.2 356.8 L1139.2 357.6 L1140.2 358.4 L1141.2 359.2 L1142.2 359.8 L1143.2 360.5 L1144.2 361.1 L1145.2 361.7 L1146.2 362.2 L1147.2 362.7 L1148.2 363.1 L1149.2 363.6 L1150.2 363.9 L1151.2 364.3 L1152.2 364.6 L1153.2 364.9 L1154.2 365.1 L1155.2 365.3 L1156.2 365.5 L1157.2 365.7 L1158.2 365.8 L1159.2 365.9 L1160.2 366.0 L1161.2 366.0 L1162.2 366.0 L1163.2 366.1 L1164.2 366.0 L1165.2 366.0 L1166.2 365.9 L1167.2 365.9 L1168.2 365.8 L1169.2 365.7 L1170.2 365.6 L1171.2 365.5 L1172.2 365.4 L1173.2 365.2 L1174.2 365.1 L1175.2 365.0 L1176.2 364.9 L1177.2 364.7 L1178.2 364.6 L1179.2 364.5 L1180.2 364.4 L1181.2 364.3 L1182.2 364.2 L1183.2 364.1 L1184.2 364.0 L1185.2 364.0 L1186.2 363.9 L1187.2 363.9 L1188.2 363.9 L1189.2 363.9 L1190.2 364.0 L1191.2 364.0 L1192.2 364.1 L1193.2 364.3 L1194.2 364.4 L1195.2 364.6 L1196.2 364.8 L1197.2 365.0 L1198.2 365.3 L1199.2 365.6 L1200.2 365.9 L1201.2 366.2 L1202.2 366.6 L1203.2 367.0 L1204.2 367.4 L1205.2 367.9 L1206.2 368.3 L1207.2 368.8 L1208.2 369.3 L1209.2 369.8 L1210.2 370.4 L1211.2 371.0 L1212.2 371.6 L1213.2 372.2 L1214.2 372.8 L1215.2 373.5 L1216.2 374.1 L1217.2 374.8 L1218.2 375.5 L1219.2 376.2 L1220.2 377.0 L1221.2 377.7 L1222.2 378.5 L1223.2 379.2 L1224.2 380.0 L1225.2 380.8 L1226.2 381.6 L1227.2 382.5 L1228.2 383.3 L1229.2 384.2 L1230.2 385.0 L1231.2 385.9 L1232.2 386.8 L1233.2 387.6 L1234.2 388.5 L1235.2 389.4 L1236.2 390.3 L1237.2 391.3 L1238.2 392.2 L1239.2 393.1 L1240.2 394.0 L1241.2 395.0 L1242.2 395.9 L1243.2 396.8 L1244.2 397.8 L1245.2 398.7 L1246.2 399.7 L1247.2 400.6 L1248.2 401.6 L1249.2 402.5 L1250.2 403.5 L1251.2 404.4 L1252.2 405.3 L1253.2 406.3 L1254.2 407.2 L1255.2 408.1 L1256.2 409.0 L1257.2 409.9 L1258.2 410.8 L1259.2 411.7 L1260.2 412.5 L1261.2 413.3 L1262.2 414.1 L1263.2 414.9 L1264.2 415.6 L1265.2 416.4 L1266.2 417.0 L1267.2 417.7 L1268.2 418.3 L1269.2 418.9 L1270.2 419.4 L1271.2 419.9 L1272.2 420.4 L1273.2 420.8 L1274.2 421.2 L1275.2 421.6 L1276.2 421.9 L1277.2 422.2 L1278.2 422.5 L1279.2 422.8 L1280.2 423.1 L1281.2 423.4 L1282.2 423.6 L1283.2 423.9 L1284.2 424.2 L1285.2 424.4 L1286.2 424.7 L1287.2 425.0 L1288.2 425.3 L1289.2 425.6 L1290.2 425.9 L1291.2 426.3 L1292.2 426.6 L1293.2 427.0 L1294.2 427.3 L1295.2 427.7 L1296.2 428.1 L1297.2 428.5 L1298.2 428.9 L1299.2 429.3 L1300.2 429.7 L1301.2 430.1 L1302.2 430.6 L1303.2 431.0 L1304.2 431.5 L1305.2 431.9 L1306.2 432.3 L1307.2 432.8 L1308.2 433.3 L1309.2 433.7 L1310.2 434.2 L1311.2 434.7 L1312.2 435.1 L1313.2 435.6 L1314.2 436.1 L1315.2 436.6 L1316.2 437.0 L1317.2 437.5 L1318.2 438.0 L1319.2 438.5 L1320.2 438.9 L1321.2 439.4 L1322.2 439.9 L1323.2 440.4 L1324.2 440.8 L1325.2 441.3 L1326.2 441.7 L1327.2 442.2 L1328.2 442.7 L1329.2 443.1 L1330.2 443.5 L1331.2 444.0 L1332.2 444.4 L1333.2 444.8 L1334.2 445.3 L1335.2 445.7 L1336.2 446.1 L1337.2 446.5 L1338.2 447.0 L1339.2 447.4 L1340.2 447.8 L1341.2 448.2 L1342.2 448.6 L1343.2 449.0 L1344.2 449.4 L1345.2 449.8 L1346.2 450.2 L1347.2 450.5 L1348.2 450.9 L1349.2 451.3 L1350.2 451.7 L1351.2 452.1 L1352.2 452.4 L1353.2 452.8 L1354.2 453.2 L1355.2 453.6 L1356.2 453.9 L1357.2 454.3 L1358.2 454.7 L1359.2 455.0 L1360.2 455.4 L1361.2 455.8 L1362.2 456.1 L1363.2 456.5 L1364.2 456.9 L1365.2 457.2 L1366.2 457.6 L1367.2 457.9 L1368.2 458.3 L1369.2 458.6 L1370.2 459.0 L1371.2 459.4 L1372.2 459.7 L1373.2 460.1 L1374.2 460.4 L1375.2 460.8 L1376.2 461.2 L1377.2 461.5 L1378.2 461.9 L1379.2 462.2 L1380.2 462.6 L1381.2 463.0 L1382.2 463.3 L1383.2 463.7 L1384.2 464.1 L1385.2 464.4 L1386.2 464.8 L1387.2 465.2 L1388.2 465.5 L1389.2 465.9 L1390.2 466.3 L1391.2 466.7 L1392.2 467.0 L1393.2 467.4 L1394.2 467.8 L1395.2 468.2 L1396.2 468.6 L1397.2 469.0 L1398.2 469.4 L1399.2 469.7 L1400.2 470.1 L1401.2 470.5 L1402.2 470.9 L1403.2 471.3 L1404.2 471.7 L1405.2 472.1 L1406.2 472.4 L1407.2 472.8 L1408.2 473.2 L1409.2 473.6 L1410.2 473.9 L1411.2 474.3 L1412.2 474.7 L1413.2 475.0 L1414.2 475.3 L1415.2 475.7 L1416.2 476.0 L1417.2 476.3 L1418.2 476.7 L1419.2 477.0 L1420.2 477.3 L1421.2 477.6 L1422.2 477.8 L1423.2 478.1 L1424.2 478.4 L1425.2 478.6 L1426.2 478.9 L1427.2 479.1 L1428.2 479.3 L1429.2 479.5 L1430.2 479.7 L1431.2 479.9 L1432.2 480.1 L1433.2 480.3 L1434.2 480.4 L1435.2 480.5 L1436.2 480.6 L1437.2 480.7 L1438.2 480.8 L1439.2 480.9 L1440.2 480.9 L1441.2 481.0 L1442.2 481.0 L1443.2 481.0 L1444.2 481.0 L1445.2 480.9 L1446.2 480.9 L1447.2 480.8 L1448.2 480.7 L1449.2 480.6 L1450.2 480.4 L1451.2 480.3 L1452.2 480.1" stroke="#000080" stroke-width="4.9" fill="none" stroke-linejoin="round"/>
</g>
<path d="M1232.5 109 V180" stroke="#000" stroke-width="1.7" stroke-dasharray="8 7.7"/>
<path d="M1225.9 133.1 L1203.5 107" stroke="#000" stroke-width="1.6"/>
<path d="M1197.1 99.1 L1208.0 106.0 L1202.6 111.2 Z" fill="#000"/>
<rect x="112.3" y="24" width="645.7" height="475.5" fill="none" stroke="#000" stroke-width="1.8"/>
<rect x="865.2" y="26.1" width="587.2" height="473.4" fill="none" stroke="#000" stroke-width="1.7"/>
<path d="M102.8 485.10 H112.3 M107.3 449.08 H112.3 M102.8 413.05 H112.3 M107.3 377.03 H112.3 M102.8 341.00 H112.3 M107.3 304.98 H112.3 M102.8 268.95 H112.3 M107.3 232.93 H112.3 M102.8 196.90 H112.3 M107.3 160.88 H112.3 M102.8 124.85 H112.3 M107.3 88.83 H112.3 M102.8 52.80 H112.3 M122.89 499.5 V509.0 M175.81 499.5 V504.5 M228.74 499.5 V509.0 M281.66 499.5 V504.5 M334.59 499.5 V509.0 M387.52 499.5 V504.5 M440.44 499.5 V509.0 M493.37 499.5 V504.5 M546.30 499.5 V509.0 M599.22 499.5 V504.5 M652.15 499.5 V509.0 M705.07 499.5 V504.5 M758.00 499.5 V509.0 M893.16 499.5 V508.5 M963.06 499.5 V504.5 M1032.96 499.5 V508.5 M1102.86 499.5 V504.5 M1172.76 499.5 V508.5 M1242.66 499.5 V504.5 M1312.56 499.5 V508.5 M1382.46 499.5 V504.5 M1452.36 499.5 V508.5" stroke="#000" stroke-width="1.8" fill="none"/>
<text x="91.0" y="495.2" text-anchor="end" font-size="30">0.0</text>
<text x="91.0" y="423.2" text-anchor="end" font-size="30">0.5</text>
<text x="91.0" y="351.1" text-anchor="end" font-size="30">1.0</text>
<text x="91.0" y="279.1" text-anchor="end" font-size="30">1.5</text>
<text x="91.0" y="207.0" text-anchor="end" font-size="30">2.0</text>
<text x="91.0" y="135.0" text-anchor="end" font-size="30">2.5</text>
<text x="91.0" y="62.9" text-anchor="end" font-size="30">3.0</text>
<text x="122.9" y="543.5" text-anchor="middle" font-size="30">200</text>
<text x="228.7" y="543.5" text-anchor="middle" font-size="30">300</text>
<text x="334.6" y="543.5" text-anchor="middle" font-size="30">400</text>
<text x="440.4" y="543.5" text-anchor="middle" font-size="30">500</text>
<text x="546.3" y="543.5" text-anchor="middle" font-size="30">600</text>
<text x="652.1" y="543.5" text-anchor="middle" font-size="30">700</text>
<text x="758.0" y="543.5" text-anchor="middle" font-size="30">800</text>
<text x="893.2" y="543.3" text-anchor="middle" font-size="30">450</text>
<text x="1033.0" y="543.3" text-anchor="middle" font-size="30">400</text>
<text x="1172.8" y="543.3" text-anchor="middle" font-size="30">350</text>
<text x="1312.6" y="543.3" text-anchor="middle" font-size="30">300</text>
<text x="1452.4" y="543.3" text-anchor="middle" font-size="30">250</text>
<text x="435.2" y="585.6" text-anchor="middle" font-size="29">Wavelength (nm)</text>
<text x="1029" y="591.2" font-size="29">Wavenumber (cm<tspan font-size="20" dy="-12.6">−1</tspan><tspan dy="12.6">)</tspan></text>
<text transform="translate(25.3 263) rotate(-90)" text-anchor="middle" font-size="29">Absorbance (a.u.)</text>
<text transform="translate(845.6 262.1) rotate(-90)" text-anchor="middle" font-size="29">Absorbance (a.u.)</text>
<text transform="matrix(0.915 0 0 1 0 0)" x="-1.0" y="31.0" font-size="42" font-weight="bold">a</text>
<text transform="matrix(1.06 0 0 1 0 0)" x="772.71" y="31.9" font-size="42" font-weight="bold">b</text>
<text x="153.6" y="217.2" font-size="25">265 nm</text>
<text x="1110.2" y="86.7" font-size="25">Pt-Cl: 329 cm<tspan font-size="17" dx="-1.2" dy="-12.2">−1</tspan></text>
<text x="292.9" y="262.0" text-anchor="middle" font-size="25">200</text>
<text x="351.2" y="262.0" text-anchor="middle" font-size="25">225</text>
<text x="409.5" y="262.0" text-anchor="middle" font-size="25">250</text>
<text x="467.8" y="262.0" text-anchor="middle" font-size="25">275</text>
<text x="526.1" y="262.0" text-anchor="middle" font-size="25">300</text>
<path d="M596.6 40.5 H651.5" stroke="#000000" stroke-width="5" stroke-linecap="round"/>
<text x="665.0" y="48.7" font-size="25">0 min</text>
<path d="M596.6 70.8 H651.5" stroke="#ff00ff" stroke-width="5" stroke-linecap="round"/>
<text x="665.0" y="79.0" font-size="25">30 min</text>
<path d="M596.6 101.1 H651.5" stroke="#0000ff" stroke-width="5" stroke-linecap="round"/>
<text x="665.0" y="109.3" font-size="25">60 min</text>
<path d="M596.6 131.4 H651.5" stroke="#008080" stroke-width="5" stroke-linecap="round"/>
<text x="665.0" y="139.6" font-size="25">90 min</text>
<path d="M596.6 161.7 H651.5" stroke="#8000ff" stroke-width="5" stroke-linecap="round"/>
<text x="665.0" y="169.9" font-size="25">120 min</text>
<path d="M596.6 192.0 H651.5" stroke="#808000" stroke-width="5" stroke-linecap="round"/>
<text x="665.0" y="200.2" font-size="25">150 min</text>
<path d="M596.6 222.3 H651.5" stroke="#000080" stroke-width="5" stroke-linecap="round"/>
<text x="665.0" y="230.5" font-size="25">180 min</text>
<path d="M1292.8 46.5 H1346.5" stroke="#000000" stroke-width="5" stroke-linecap="round"/>
<text x="1360.7" y="54.4" font-size="25">0 min</text>
<path d="M1292.8 75.7 H1346.5" stroke="#ff00ff" stroke-width="5" stroke-linecap="round"/>
<text x="1360.7" y="83.6" font-size="25">30 min</text>
<path d="M1292.8 104.9 H1346.5" stroke="#0000ff" stroke-width="5" stroke-linecap="round"/>
<text x="1360.7" y="112.8" font-size="25">60 min</text>
<path d="M1292.8 134.1 H1346.5" stroke="#008080" stroke-width="5" stroke-linecap="round"/>
<text x="1360.7" y="142.0" font-size="25">90 min</text>
<path d="M1292.8 163.3 H1346.5" stroke="#8000ff" stroke-width="5" stroke-linecap="round"/>
<text x="1360.7" y="171.2" font-size="25">120 min</text>
<path d="M1292.8 192.5 H1346.5" stroke="#808000" stroke-width="5" stroke-linecap="round"/>
<text x="1360.7" y="200.4" font-size="25">150 min</text>
<path d="M1292.8 221.7 H1346.5" stroke="#000080" stroke-width="5" stroke-linecap="round"/>
<text x="1360.7" y="229.6" font-size="25">180 min</text>
</svg>
</body></html>
